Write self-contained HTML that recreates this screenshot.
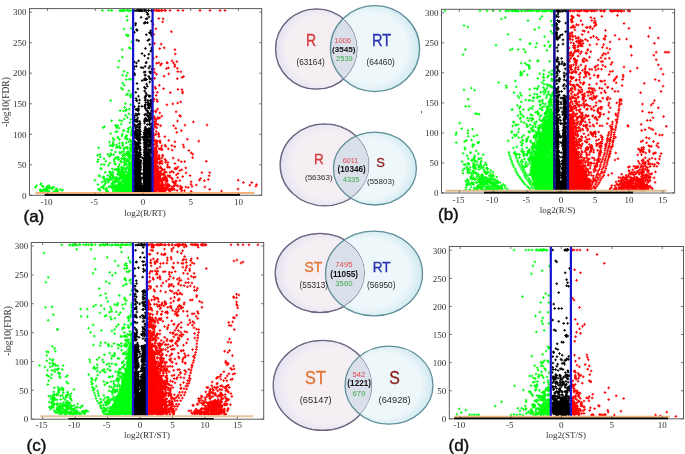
<!DOCTYPE html><html><head><meta charset="utf-8"><style>
html,body{margin:0;padding:0;background:#fff;width:685px;height:454px;overflow:hidden}
svg{display:block;filter:blur(0.35px)}
.tk{font-family:"Liberation Serif", serif;font-size:9px;fill:#333}
.yl{font-size:9.5px}
.pl{font-family:"Liberation Sans", sans-serif;font-size:17px;fill:#111;stroke:#111;stroke-width:0.45px}
.vb{font-family:"Liberation Sans", sans-serif;font-size:17px}
.vn{font-family:"Liberation Sans", sans-serif;font-size:8.2px;fill:#333}
.vs{font-family:"Liberation Sans", sans-serif;font-size:7.6px}
.vk{font-family:"Liberation Sans", sans-serif;font-size:8px;font-weight:bold;fill:#111}
</style></head><body>
<svg width="685" height="454" viewBox="0 0 685 454">
<defs>
<radialGradient id="gl" cx="0.55" cy="0.5" r="0.55"><stop offset="0.75" stop-color="#f5eff4"/><stop offset="1" stop-color="#e4e2f2"/></radialGradient>
<radialGradient id="gr" cx="0.45" cy="0.5" r="0.55"><stop offset="0.75" stop-color="#eef7fa"/><stop offset="1" stop-color="#cfe9f0"/></radialGradient>
<marker id="mk" markerWidth="4" markerHeight="4" refX="2" refY="2" markerUnits="userSpaceOnUse" overflow="visible"><path d="M0.7 2H3.3M2 0.7V3.3" stroke="#000" stroke-width="1"/></marker>
<marker id="mg" markerWidth="4" markerHeight="4" refX="2" refY="2" markerUnits="userSpaceOnUse" overflow="visible"><path d="M0.7 2H3.3M2 0.7V3.3" stroke="#02ff10" stroke-width="1"/></marker>
<marker id="mr" markerWidth="4" markerHeight="4" refX="2" refY="2" markerUnits="userSpaceOnUse" overflow="visible"><path d="M0.7 2H3.3M2 0.7V3.3" stroke="#ff0000" stroke-width="1"/></marker>
</defs>
<rect width="685" height="454" fill="#fff"/>
<path d="M137.1 30.5 135.5 25 138.7 40.8 135.7 23.3 136.8 40.1 136.6 29.5 134.5 32.3 141.1 17.3 142 53.6 149 16.9 145.4 48.4 145.6 22.8 147.7 14.5 151.6 48.2 150.9 33.8 147.1 18.6 146.3 34.7 151 32.6 151.5 50.4 150.7 51.2 144.6 55.7 151.6 21 148.1 58.2 149.8 44.4 145.1 22.3 148.8 54.2 151.6 35.6 147.5 22.7 147.9 14 150.8 30.7 149.4 32.7 146.8 12.3 146.1 18.9 144.2 23.2 148 40.5 149.1 39.5 134.8 74.9 136.4 63 134 69.1 134.3 66.6 134.3 73.4 134.3 61.9 137.9 88.9 138.6 60.9 138.5 96.2 136.1 98.5 137 83.5 135.8 92.3 136.3 66.3 142.2 80.6 141.2 67.5 143.1 67.8 145.5 96.3 151.9 69 145 97.7 145.5 75.2 145.5 99 148.9 68 151.7 79.7 146.6 79.5 145.5 79.6 145.9 92.9 145.2 71.9 151 71.8 150.8 100 149.7 82 149.9 78.8 147.3 86.3 144.1 72.2 144.4 87.3 144.6 78.9 148.7 76.4 148.8 95.6 144.9 75.1 149.3 96.6 150.2 96 146 62.9 146.6 94.7 146.6 84.1 144.3 79.9 149.4 71.9 150.6 73.1 150 66.2 144.6 91 146.4 62.4 149.8 78.2 145.6 88.5 145.2 66.3 145.5 78.6 145.7 96.1 135.1 115.5 134.3 117.4 134.5 120 135.5 128.3 138.4 110.5 134.4 106.6 139.1 124 137.4 114.6 139.7 121.4 136.6 126.2 139 114.2 136.4 125.9 136.9 121.7 138.5 108.7 139.9 125 136.3 119.6 136.8 100.8 139 103.2 134.6 124.5 137.6 121.3 139.8 127 139 127.6 136.8 115.5 134.7 119.7 136.4 109.6 137.4 127.2 135.8 109.3 137.8 125.1 137.8 117.9 138.4 110 137.3 120.1 139.3 127.8 139.2 124.1 138.9 106.4 139.9 129.8 138 108.7 136.6 100.5 134.6 126.1 135.8 113.9 139.6 100 137.7 110.5 138.4 113.6 140 123.3 134.1 120.9 135.1 121.5 141.9 106.3 148 112.8 151.8 117 148.3 119.9 149.3 105.2 145.3 104.5 148.7 119.8 147.9 104.9 148.3 102 145.6 119.7 146.7 129.4 149.9 113.8 151.3 102.3 151.4 126.7 145.1 128.1 150.2 103.5 147.5 115.8 151.6 111.4 151.1 118 149.3 106.5 151.4 126.7 149.8 129 144.8 119.2 150.8 119 144.6 123.1 151.5 110.4 149 104.8 144.6 114.8 148.9 129 146.8 110.5 151.5 117.7 148.3 116.8 148 108 150.1 118.9 148.2 112.8 146.4 120.6 145.6 118.2 150.6 104.8 148.7 128.6 149.4 121.8 148.8 107.5 149.6 108.2 150.8 117.4 147.3 124.5 149.8 129.8 151.3 128.4 148 105.2 148.1 103.1 149.7 124.4 149.6 115.6 150.2 124.2 151.4 114.5 146.1 109.3 145.4 127 150.5 100.5 145.2 119.2 149.1 124.5 149.7 119.8 145.9 114.1 151.7 107.6 144.5 120.8 149.7 128.8 151.8 110.4 146.9 121 145.2 100.3 149.9 114.2 147.7 100.3 151.1 100.9 150.3 113.4 146.3 119.4 146.2 119.5 145.5 119.7 148.2 103.8 149.1 118.3 145.8 102.4 145.2 108.1 144.8 106 144.6 121.3 146 128.7 151.2 106.1 151.4 104.1 144.8 106.7 148.5 105.4 147.9 111.2 151.2 123.8 151.5 101 147.2 115.4 136.4 142.8 135.9 134.7 134.5 141.2 139 142.5 139.7 142.2 139.4 133.2 138.6 135.2 140.1 156.5 134.2 136.1 140 148.8 137 155 135.5 146.8 137.6 134 136.7 159.3 136.2 143.6 138.2 143.6 134.7 141.6 138.6 141.9 134.7 131.7 139.6 138.4 136.2 152.5 139.9 156.8 137.2 159.3 139.5 131.6 134.7 151.4 137.6 154.8 136.6 158 135.9 149.2 139 131.7 138.2 136.8 140.2 149.8 140.4 139.7 136.9 151.5 139.6 152.8 136.7 147.8 139.2 143.1 134.4 141.6 136.8 143 136.3 145.9 138.9 135.4 138.7 142.1 135.8 134.5 139.6 134.5 135 156.4 136.2 133.5 135.6 145.6 137.1 153 140.4 131.6 134.4 132.5 139.7 133.4 136.3 130 140.2 143.3 138.3 145.2 134.4 158.9 136.6 152 139.8 148.3 135.2 143.7 136.8 156.1 137.1 144.3 137.8 156.2 136.6 132.9 134.8 148.2 140.3 152.8 136.5 157.1 136.7 149.4 134.8 142.4 136.9 137.8 138.9 157.3 136 137.3 135.2 132 140.1 150.4 135.4 156.2 137.3 155.8 137.2 148.4 135.4 158 138.8 138.6 139.3 140.2 135 144.4 137.9 152.2 139.5 152.8 138.6 147.4 135.3 155.6 134.3 151.9 137.8 158.4 139.1 156.8 140.5 154.5 137.5 136.5 134.9 133.9 135 154.1 138.8 140.6 137.4 130.5 136.6 137.6 136.5 147.1 138.2 158.9 138.3 155.7 139.5 159.8 134.1 134 139.4 131.8 139.2 152.6 140.3 134.5 136 159.2 135.5 155.9 139.5 131.4 139.9 146.6 139.3 157 137.8 139.5 138.7 139.1 139.1 140.6 137 145.4 137.9 159.1 137.7 144.1 136.3 159.8 137.4 135.3 136.1 130.3 139.2 146.6 136.9 156.4 134.6 138.1 140.2 136.9 140.3 156.9 135 149.9 137.1 149.7 136.9 153 138.4 147.6 138.6 155.2 137.3 131.5 136.6 135.4 135.4 131.9 137.9 144.6 138.4 130.3 138.3 144.9 136.4 154.4 140 154.4 140 155 135.3 135.2 139.4 148.8 136.8 138.9 142.3 137.2 142.3 157.8 148.1 130.8 148.3 152.2 148.9 156.9 152 152.6 149.9 159.6 146.7 139.5 144 158.9 146 133.7 148.4 154.7 146.9 140.4 150.2 134.5 145.3 140.8 146.4 139.3 150.9 135.6 149 158.6 144.4 158.7 144.4 144.8 150.6 140.9 147.9 137.7 146.1 149.2 148.4 149.4 149.1 132.7 146.1 144 145 132.6 146.3 132.9 146.8 134.1 144.1 132.5 150.2 151.6 146.5 144.1 149.4 133.4 150.9 156.8 151.9 152.3 149.9 155.1 150.4 140.9 146.9 159 151.7 149.2 146.9 149.4 144.3 142.1 147.6 135.9 149.3 130.9 147.3 134.3 148.2 159.6 151.3 143.6 150.7 135 146.5 140.6 149.3 159.2 148.3 159.5 148.8 154.5 151.1 150.7 150.2 143.4 151.1 134.5 150.8 151.3 144.8 130.3 147 154.4 147.8 154.4 147.8 134.1 144.2 149.9 150.5 144.6 144.6 140.4 146.4 155.2 146.9 151 147.5 136.5 146.9 133.1 144.3 159.1 145.9 159.1 147.5 157 145.2 130.1 144.3 157.7 150.6 141.2 148.6 141.2 145.5 151.8 144.8 158.8 147.4 139.9 149.1 142.5 149.5 158.4 145.1 154.3 144.4 147.2 146.1 153.2 150.3 135.5 146.7 134.7 150.9 146.5 146.9 152.3 144.1 136.6 146.2 157.7 146.7 143.3 146.2 137 146.9 159.8 149 134.1 147.6 154.2 150.9 136.7 146.7 134 151.4 159 145.2 145.4 146.2 152.7 144.4 134.9 148.8 156.6 151.9 135.6 149.2 157.1 147.1 146.8 147.6 132 147 136.4 150.3 144.7 144.2 152.1 149.9 151.5 144.5 134.6 144.6 153.1 151.1 158.5 151.4 136.6 146.6 156.7 151.2 132 151.2 143.6 149.5 149.8 149.2 140.1 150.2 135.6 145.7 142.6 146 156.1 151 134 145.6 149.2 149 146.4 151.4 149.6 144.6 137.5 151.7 138.2 147.5 145 145.6 148.4 145.6 154 148 155 150.7 132.7 144.1 138.9 151.7 130.9 146.5 142.9 151.7 153.7 145.6 133.6 145.6 152.4 151.4 148.9 146.9 138.3 145.9 135.7 151.8 139.9 144.3 155.2 151.9 142.8 150.3 136.5 149 154 149.8 136.3 146.5 140.9 150.3 144.9 147.1 135.1 151.4 140.2 146.1 158.9 148.4 150.1 148 141.9 146.6 134.2 145.8 137.5 146.5 132 148.9 146.2 144 139.7 151.4 134 147.7 144.5 150.2 149.6 144.3 133.1 150 130.7 145.8 136.9 146.3 158.8 146.4 146.5 146.9 130.4 147.8 140.2 147.1 159.3 149.7 158 147.1 141.3 148.1 146.7 149.8 137.5 144.4 138 145.9 143.5 150.1 157 146.2 144.8 144.8 152.2 149.9 152.1 149.5 152.6 151.5 149.1 144.9 149.8 151.2 142.3 147.8 144.6 144.6 155.4 149.9 156.9 151.3 133.4 146.5 149.4 150.5 141.9 146.5 156.5 150.3 150.4 149.9 140.7 144.3 147 144.1 143.1 151.6 159.2 145.8 133.4 144.9 130.5 145.4 136.7 147 130.4 146.8 139.5 150.2 139.6 145.6 135.1 145.3 147.7 151.8 148.9 145.1 154.2 147.8 140 147.1 138.4 148 141.2 136.5 181.9 136.4 184.5 140.5 180.7 136 161.7 135.2 180.6 135.7 169.9 137.4 183.6 134.4 179 137.2 177.6 136.1 183.7 135.3 181.7 135.7 185 134.2 175.1 139.6 180.6 138.1 173.3 139.9 164.5 139.5 183.4 138.2 163.3 136.4 179.9 140.5 166.8 137.1 172.2 135.3 183.8 140.1 169.6 139.4 183.2 138.7 165.9 140.5 170.1 134.5 171.5 138.8 180.7 135 167.1 135.7 173.7 138.4 161.9 140.1 161.4 137.6 166.4 137.3 162.8 138.4 171.7 136.4 170.2 135.8 176.8 136.6 169.1 135.1 168.3 134.7 174.6 134.1 181.4 139.8 182.9 137.2 166.9 139.4 178.5 135.3 170.5 135.3 169.6 135.8 163.8 134.1 180.5 134.4 167.1 134.8 169.1 137.1 175.5 139.1 172.8 139.5 172 134.7 170.6 135.3 177.6 138.5 161.9 134.6 178 136.4 161.2 135.1 182.2 139.8 164 137 168.5 136.8 184.7 138.6 179.5 140.3 163.9 137.2 172.8 136.9 175.2 140.4 165.9 139.5 179.5 137.9 184.1 140.4 177.6 139.5 179.9 138.2 180.1 135.3 165.1 137.2 176.8 139.7 181.8 138.2 164.9 138.2 180.1 140.5 163.8 140.2 165.8 139.7 173.1 137.6 163.8 137.1 182.4 138.2 168.6 134.8 170.6 138.9 179.1 139.6 166.2 135.7 163.8 136.7 178.3 137.3 166 135 163.3 136.1 173.6 140 177.1 137.4 165.5 137.8 183.6 139.5 178.1 134.8 160.5 136.2 183 136 177.3 134.6 168.9 134.7 166.3 135.9 175.4 136.3 182.2 140.4 160.9 139.1 170.1 139 175.4 136.1 182.1 138.7 164.4 139.6 171.5 134.6 168.1 136.5 175.4 140.3 179.6 140.4 182 135.6 184.6 134.6 164.7 135.3 177.7 139.9 177.8 135.6 183.6 135 182.6 136.5 181.5 137.9 177.3 136.1 161.6 140.4 161.4 136.5 183 134 181.5 135.6 175.2 137.9 176.7 140 162.3 137.6 182.5 134.4 161.8 139.5 177.3 136.2 178.2 134.4 183.8 138.3 166.9 135.5 162.9 138.8 174.3 137.9 170.8 134.8 168.7 137 160.6 135.6 164.9 138.5 175.1 134.3 163.8 134.9 167.9 138.4 172.3 137.6 168.5 140.1 179.9 134.2 167.3 135.2 161.9 136 162.6 139.5 179.1 136.5 169.2 138.1 174.5 140.4 161.6 134.7 181.2 134.7 172.4 138.7 171.5 135.3 169.6 137.5 169.8 136.2 166.9 135.2 162.4 134.7 172.8 140.4 183.1 139.4 175.6 139.2 162.7 138 170.9 135.6 171.4 136.2 160.8 139.6 181.1 134.6 167.5 138.2 176 138.2 172.8 139.2 169.3 137.4 176.8 138.1 181.9 136.3 166.8 137.2 161.7 135.7 160.6 135.2 162.9 139.7 164 137.6 180.2 135.6 179.6 135.3 177.9 134.4 168.9 139.8 169.4 134.5 168.8 137.5 168.4 135 169.8 140 182.8 138.1 180.6 135.2 161.8 137.7 161.8 138.3 163.2 138.2 168.4 137.6 169.5 139.2 180.8 139.6 172.8 137.1 164.3 139 162.1 134.5 160.6 135.4 174 136.5 160.3 140.5 174.1 138.4 181.7 134.8 164.4 138.2 167.3 139.2 184.6 134.4 170.3 137.7 184.3 140.5 162.8 135.5 166.8 136.6 166.7 135.3 170.6 135.1 163.9 138.1 172.4 138.2 162 137 172.1 138.5 163.8 136.9 173.5 140.5 178.5 135.6 164.9 136.2 175.5 137 167.7 138.7 163.1 135 172.6 137.5 165.5 135.5 169.4 134.8 182.6 138.6 165 134.8 171.8 136.6 182.7 137.4 169.2 138.1 177.3 140.9 160.6 141.5 178.1 143 177.8 140.7 167.9 141.6 183.7 141.8 173.5 144.5 183 149.1 166.1 145.8 178.3 148.3 178 147.5 164.5 147 183.9 146.8 166.5 144.4 164.6 146.7 167.2 144 174.5 147.9 181.3 145.2 170 146.5 176 144.1 163.6 149 171.7 144.6 176.1 145 170.2 150.5 167.1 144.2 182.2 146.2 167.7 148.2 179.1 149.2 177.9 148.1 183.9 147.7 166.7 150.8 179 150.5 162.5 148.8 180.4 146.2 177.2 146.9 174 149.1 179.1 148 182.4 147.6 163.9 144.2 176.7 151.7 169.5 144.6 164.4 144.5 165.7 146.5 162.3 149.6 177.8 150.9 174.4 146.7 171.5 148.6 172.3 147 174.9 148.4 184 149.7 180.5 151.1 183.6 145.4 180.5 148.6 171.3 147.7 162.5 150.6 171.3 149.1 175.5 149.5 164.3 144.2 180.2 146.8 161.4 146.5 166.7 150 164 147 172 148.8 164 149.2 172.3 147.5 165.4 149.9 172.4 148.8 162.4 146 179.5 147.6 172.9 151.7 167 144.5 171.1 143.8 170 149.4 162.3 143.8 179.2 150.2 169 144.4 167.3 147.4 180.7 144.3 177.6 149.5 160.2 149.9 180.3 146.6 171.2 144 169.2 145.6 163.9 145.1 163.5 145.6 173.8 146.5 184.9 149.8 177.1 145 168.1 147.1 174.8 147.7 183.7 151.6 166.9 151.9 165.4 145.5 183.4 148 173.1 148.7 163.5 147.9 182 143.9 176 146.1 176.8 151.3 178.9 148 183.9 148.9 182.4 145.2 166.9 145.1 167.6 144.2 172.5 147.2 176.2 146.7 170.5 144.5 180.4 146.9 179.8 150.5 182.3 145 184.7 144.7 174.7 150 184.5 149.2 177.3 144.7 161.3 149.7 161 151.3 164.7 146.6 174.3 145.2 161.3 148.1 181.1 150.6 180.7 145.9 162.3 148.1 184.2 151.2 177.6 146.9 170.3 145.7 176.4 149.3 164.6 144.9 162.7 149.9 164.3 150.4 177.9 146.5 178.4 150.8 163.8 145.5 182.2 146.3 166 147.6 169.3 148.3 179.1 150.3 180 147.6 181.3 150.6 175.2 145.3 168.6 145 175.4 151.6 168.6 147.2 181.1 146.8 163.9 145.7 184.3 147.8 182.6 145.6 169.9 148.3 166.9 148.7 175.9 145.3 184.5 146.8 174.9 149.9 165.4 149.4 162.1 148.4 175.6 145.6 172.3 151.6 162.6 149.4 169.2 150 166.5 145.5 179.3 145.4 163.4 145.2 166.1 147.6 183.9 151.1 160.8 146.2 173.7 145.1 161.3 144.4 183.1 144.4 181.4 144.1 160.8 144 180.9 150.7 172.4 144 166.8 147.1 175.5 146.9 184.3 144.8 170.5 150.2 161.3 145.2 182.8 151.2 175 143.9 174.5 149.7 181.6 151 171.5 148.8 167.7 150.8 173.1 147.8 172.5 145.7 179.4 146.2 180.3 152 168.6 144.3 169.2 151.9 169.8 147.2 173.8 144.8 170.9 146.8 164.7 147.4 168.3 144 162.6 145.1 165.9 148.6 184.9 149.4 184.2 147.6 183.2 150.3 167.1 144.3 171.3 151.6 175.4 146.4 181.6 143.9 163.9 151.4 160.5 145.5 161.4 148.7 181.8 150.7 184.5 147.1 170.9 151.4 168.6 144.5 179.9 150.8 183.6 144.9 170.5 145.2 172.7 150.5 176.9 147.8 175 151.9 177.4 146.4 183.2 147.4 164.7 151.3 176 144 184.5 150.6 178.7 145.9 179.2 150.2 160.3 144.8 161.4 149.7 177.1 149.6 165.1 146.7 165.1 149.6 161.3 150.3 161.7 144.7 160.7 145.8 160.5 150 162.3 151 167.9 150 182.9 146.1 178.6 149.4 170.3 151 162.7 146.4 163.1 149.2 172.2 145.3 172 145.4 181 151.5 169.5 147.6 174.2 149 164.7 151.2 171.1 149.3 183.1 150.2 182.9 146.4 170.7 150.6 174.5 148.2 183.4 151 183.2 150.4 173.6 145.8 163.1 145.8 181.9 150.4 162.4 148.7 165.1 146 164.1 150.4 170 146.3 167.1 146.1 163.8 148.4 176.1 150.2 178.9 148 181.8 145 181.6 146 163.8 144.6 167.7 148.4 182.2 144.4 164.9 148.5 160.6 144.6 160.9 147.2 178 147.8 183.3 149.8 180.7 148.3 182.5 148.8 160.5 150.5 175.2 149.4 178.5 144.3 170.1 144.5 168.2 150.5 164.6 151.2 174 146.4 179.6 148 160.4 151.1 172.9 148 182.9 150 167 150.9 162.6 145.2 160.6 148.7 166.6 143.9 175.2 145.5 163.6 145 168.6 144.4 165.8 152 184.9 147.2 170.6 144.1 163.9 150.5 160 147.9 164.6 149.6 173.2 147.7 181.1 148.5 173 144.8 174.3 148.3 180.9 149.6 164.2 150.7 162.1 151.5 182.9 146.5 165.4 147.4 165.6 145 162.9 151.8 170.4 144.6 162.6 144.2 165.3 149.4 170.7 151.7 177.3 151.9 181.4 138.1 186.7 140.1 190.8 136.3 190.4 135.9 187.2 137.4 187.2 139.2 190 138 188.7 137.1 190.7 137.5 187.9 140.8 187.4 134.6 185.1 137.8 190.2 135.2 185.9 141.2 188.5 135.5 189.9 138.4 186.5 138.3 190.6 139.7 189.8 141.2 191.7 136.3 189.8 136.1 189.2 141 191.6 135.6 188.1 141.3 187.9 135.7 188.7 136.2 185.1 135.6 188.7 140.1 187.2 135.6 189.1 140.9 188.2 135.9 187.4 134.3 187.7 139.5 190.4 135.4 185.6 138.6 191.4 138.4 189 138.9 188.7 138.3 185.9 139.5 186.6 135.1 188.9 137.5 186.4 141.2 190.6 140.7 185.8 138 191.2 135.6 191.2 137.3 189.2 139.8 187.5 134.6 185.2 135.9 187.1 134.8 190.1 134.8 186.5 137.8 189.4 140.8 186.6 134.3 191.9 140.7 189.5 140.6 190.6 134.2 185.4 138.6 189 137.8 186.6 138.6 185.2 136.1 188.8 140.7 189.2 137.5 187.3 140.5 191.1 138.1 185.8 134.1 186.2 139.6 186.6 136.3 186.4 134.1 185 136.2 186.1 134.1 191.9 139.8 189.4 134.9 186.6 134.5 191.1 136.8 191.6 141.1 190.2 138.5 189.8 136.3 191.6 140.3 185.9 135.7 190.8 140.3 188.5 140.4 185.6 142.8 186.3 141.3 186.1 141.5 189.3 142.8 191.9 142.9 188 141.4 190 142.5 187.8 142.6 191.8 149.9 190.1 151.5 187.5 150.2 187.3 151.7 190.6 151.9 190.2 149.2 185.1 149.6 190.2 149.1 187.7 144.3 188.3 150.9 187.5 150.5 190 146.4 188.4 151.9 186.6 146.6 187.3 147.2 186 147.5 186.5 152 190.6 145.5 189.2 147.6 191.7 148.5 185.9 146.9 191.9 144.4 186 149.6 189.7 150.3 191.5 150.4 185.2 143.6 185.4 150.3 191.1 146.1 185.4 146.7 189.2 150.2 185.9 147.3 189.1 146.7 186.8 151.5 187.3 147.5 190.4 150.5 187 149.7 185.3 149.8 191.7 150.4 191.6 148.1 188.8 148.2 191.6 146.1 188.9 147.4 190.7 143.5 188.9 151.2 185.2 148 187.4 146.4 189.2 149.9 189.3 145 189.2 149.7 186.2 145.2 188 143.5 186.1 149.3 190.1 149.4 189.3 145.9 188.2 147.1 190.4 145.5 188.8 143.8 185.3 148.1 185.8 150.7 186.2 143.3 188.9 144.2 185.5 149.2 189.8 152 185 146.7 190.1 144.6 185.4 143.7 191 145.3 188.5 150.8 190 145.3 190.6 145.3 185.5 147.7 187.3 146.2 187 148.2 188.5 150.6 185.3 147.8 185.1 144.5 190.7 150.5 185.1 145.6 188.9 151.9 186.3 145.2 187.5 150.1 189.8 150.2 189.9 144.2 191.1 151.7 188.6 146.1 186.9 152 189.5 143.3 187.8 149.3 185.9 148.7 191.3 144.1 187 146.9 189.2 150.9 186.7 150 186.7 151.6 191.1 145.6 191.9 149.1 189.5 151.2 188.9 144.6 10.2 139.3 10.6 151.6 10.3 140.8 10.2 141.7 10.7 140.7 10.4 145 10.4 139.9 10.1 138.3 10.5 137.1 10.2 137.9 10.2 144.3 10.4 141.6 10.6 151.6 10.9 144.5 10.1 142.1 10.4 141 10.5 134.2 10.5 142.5 10.8 145.9 10.2 143.2 10.2 140.9 10.3 148.5 10.5 141.5 10.2 136 10.7 139.2 10.8 148.6 10.4" fill="none" stroke="none" marker-start="url(#mk)" marker-mid="url(#mk)" marker-end="url(#mk)"/>
<path d="M130 168.2 132.3 161.1 132.6 172 121.8 190.9 132.6 183.3 130.8 184.2 123 188.1 125.8 183 128.1 186 130.8 165.4 129.6 176.9 124.8 190.6 132.7 186.3 132.9 189.3 129.4 184.3 128.9 174.3 123.2 190.4 127.9 176.9 132.4 165.8 126.3 185.1 122.9 184.9 132.2 172.2 120.1 187.9 127.6 175.6 131.2 169.2 127.8 180.8 129.6 166.8 128.5 174.3 121.9 189.3 127.5 179.3 121.9 188.6 128.3 186.8 129.9 165.9 129.5 169.6 122.1 191.2 120.8 187.1 125.3 180.3 127.3 187.5 122 185.8 121.3 185.2 132.2 161.3 119 190 120.1 191.8 132.8 189.4 131.3 176.8 131.8 179.8 129.1 177.1 120 191.3 127.7 180.5 125.6 180.1 130.7 189.1 131.5 188.9 132.5 171.1 125.7 179.6 129.6 179.4 124.8 182.5 131.3 181.6 125.6 184.8 129.3 169.2 127 182.7 129.8 177.4 132.8 175.1 125.1 180.4 132.5 181.9 131.6 163.4 123.2 181.9 128.5 186.2 126.9 183.1 127.5 189.1 125.7 188.6 132.6 165.7 130.1 178.2 131 168.9 127.7 183.7 126 180.2 126.5 190.3 132.6 168.6 127.4 175 120.6 187 131.9 189 132.4 185.5 127.4 175.6 128.7 183.2 122 189.7 131.3 162.6 127.6 176.9 126.2 189.9 127.3 177.9 129.5 172 132.2 182.4 124.9 185.4 128.6 179.7 129.7 180.8 127.3 177 129.4 178 131.3 182.2 133 189 129.5 185.6 131.5 166.9 130.1 168.2 127.2 179.5 124.9 187 131.9 171.3 132.3 174.3 130 170.5 125.5 180.1 122.5 188.6 128.1 189.7 131.4 170.5 127.1 185.6 132 177.3 123 186.4 124.3 182.9 129.3 169.8 132.4 185.1 127.7 176.1 123.8 190.6 128.4 177.5 121.4 185.8 132.1 161.3 128.9 190.9 127.3 180.6 132.9 180 119.4 187.6 129.8 185 131.8 188.1 130.5 183 128.9 190.1 128 190.8 124.8 190.3 132.6 169.3 126.9 176.9 117.9 191.1 132.8 167.3 121.8 184.5 129 183.6 129.8 188 130.7 185.2 126.1 184.1 132.9 182.8 127.6 188.3 126.1 185.3 121.5 186.3 126 176.9 131.1 187.5 132.1 164.6 131.4 173.9 118.8 188.5 132.2 191.1 131.7 182.2 131.7 182.8 132.7 182.8 129.9 189.4 123.3 189.3 123 190.7 125.2 179.8 130.6 165.3 127.9 191.7 121.2 189.2 122.1 192 127.5 187.2 125.5 189.7 131.2 163.6 124.6 181.6 130.5 182.9 127.1 178.4 127.3 186.4 130.6 182.4 122.4 186.3 120.5 189.8 128.3 183.7 130.7 164.7 125.3 185 131.5 184.9 130.8 191.9 128.2 178.6 128.8 186.6 130.4 167.6 128.9 180.3 122.5 188.8 124 185.9 131.6 172.4 120.2 187.3 129.6 166.6 128.3 189.2 123.1 191.4 130.5 166.6 127.9 184.8 128.8 170.2 131.9 184.8 127.5 187.6 130.3 183 132.6 183.7 131.7 189 130.8 191.3 128.6 175.5 121.8 187.9 123.9 186.8 130.1 180.9 125.3 188.5 126.6 190.2 130.2 164.9 126.4 176.5 126.8 180.5 117.2 191 130.5 185 129.4 175 131.6 163.3 128.6 191.2 132.5 162.8 125.5 188.5 128.2 185 132 180.2 128.3 191.3 132.7 158.8 132.3 165.1 131.6 184.6 125 182.9 119.3 188.7 126.1 178.8 130 165.2 128.8 184.1 129.4 172.2 132.2 185.5 128.8 190 131.4 177.2 121.3 185.9 126.6 189.6 130.8 168 132.5 159.6 130.7 185.8 121.9 190.4 132.1 191.3 132.2 165.6 129.4 176.5 130.5 180.1 126.3 183 128.5 177.2 122.5 186.5 131.7 190.3 132.4 166.1 132.6 184 132.4 172.3 131.8 172.3 120 188.2 132.6 160.3 130 191.1 129.1 173 131.4 191.9 131.4 164.6 130.1 186.8 132.2 172.3 129.7 170.7 120.3 189.9 130.7 182.4 125.6 182.8 131 184.9 132.2 164.3 122.3 186.5 121.6 191.3 127.7 176.8 130.9 170.4 124.9 188.3 125.5 184.8 130.8 172 131.8 184 120.4 188.8 120.7 190.7 125 191.5 129.1 178.1 130.6 174.3 130.8 188.6 128.5 181.1 130.4 188.9 128.1 186.2 130.7 165 130.9 173.1 132.6 174.9 132.9 183.3 129.8 172.5 130.6 184.8 124.1 185.8 133 168.3 123.9 185.8 131.4 167.1 130.8 167.9 130.3 177.5 130.3 177.4 127.5 176.9 121.4 189.3 132.4 190.9 132.4 187.4 129.4 175.7 124.2 183 131.1 182.4 132.1 178.5 130.3 178.6 125.3 185.9 123.6 186.7 120.4 191.1 123.4 190.2 131.4 180 122.8 185.8 123.2 187.5 130.3 165 129.8 185.2 131 178.8 121.8 173.7 132.8 146.1 114.8 186.3 126 175.2 130 154.2 123.7 173.6 127.1 153.2 128.8 155.9 120.2 185.7 132.5 155 114.2 189.8 113.5 188.4 116.8 185.6 127.1 154 117.8 180.2 120 175.1 128.8 163.7 125.7 169.2 112.9 188.1 117.8 178.1 121.4 176.8 120.3 177.4 115.9 189.4 124.3 176.6 115.9 191.2 123.1 174.4 130.6 148 116.7 180.2 131 162.6 122.9 175.7 127.8 161.4 121 173.1 121.4 175.9 129.4 156.5 119.4 183.9 126.8 160.8 131.5 150.9 119.3 182.5 118.8 187 118.9 173.7 107.3 190.6 111.3 186.7 121.9 175.4 129.4 159.2 124.5 162.4 119.2 185.6 127.4 154.6 122.1 172 125.5 171.8 127.3 152.2 122.4 175.9 113.4 191.4 124.6 178.1 118 189 123.1 178.7 125.9 163.1 123 180.6 114.9 185.7 132.9 143 131.8 141.9 118.7 184.8 110.4 186.3 123.8 168.1 124.9 160 130.1 157.2 115.8 182.2 124.4 177.2 118.6 172.9 119.8 177.8 114.1 182.6 123.8 175.9 130.3 148 128.6 153.7 124.1 173.5 120.5 183.4 118.1 174 114.9 188 131 151.5 125.1 159 127.1 154.7 128.6 156.9 119.5 179.5 130.3 156.5 107.7 191.6 122.9 181.9 118.1 186.1 122.1 169.4 130.2 156 119.6 172.9 125 163.1 129.8 153.9 115.2 181.3 122.3 168.8 122.7 169.1 132 150.1 126.6 167.6 132.1 144.2 117.3 188.1 113.1 183.3 123.4 172.2 116.4 177.5 131.9 151.8 130.9 145.8 131.6 149.8 121.1 181.7 113.1 186.3 128.9 153 124.8 158.7 116.6 187.4 132.1 152.2 130.5 155.2 125.5 169.5 113.2 190.2 129.9 165.3 130.3 163.3 132.4 155 132.3 151.8 126.8 164.7 124.5 160 127.9 167.9 122 171.2 124.3 165.2 127.5 167.7 120.2 175.5 113.3 186.2 119.5 183.7 123.6 177.2 131.3 147.8 120.1 171.6 116.8 187.6 123.3 178.2 124.9 164.4 118.6 184.1 125 176.1 116.7 178.8 130.9 149.8 127.3 172.6 117.6 189.4 120.9 176 130.5 149.5 125.9 175.2 132.1 144.2 131.6 149.5 111.6 187.4 117.5 181.3 118.6 188.3 120.5 182.7 123 170.7 129.3 163.7 128.1 160.4 132.6 150 128.9 156.5 121.1 173.9 120.5 182.7 132.1 145.8 130.4 144.7 127.1 158.9 127.2 153.1 124.6 164.9 115.3 185.7 121.7 178.5 119 174.4 120 183.9 114.5 187.7 114.5 181.2 131.4 158.4 118.1 185.3 110.5 186.6 128 154.6 126.1 175.6 130.7 157.3 121.4 169.4 124.3 162.3 122.1 167.1 116.2 177.3 126 171.5 121.4 167.4 125.7 169.3 128.6 151.7 122 169.2 130.3 163.3 129.5 161.8 112.2 183.8 116.4 179.9 132.7 140.7 127.4 154.5 114.3 188.2 119.8 184.5 123.4 177.1 112.9 184.5 119.8 185.2 121.2 175.7 122.8 180.6 120.6 161.3 106.1 191.1 116.3 169.4 109.5 179.2 113.2 181.3 107.8 175.6 126.3 147.1 121.4 158.6 110.1 177.1 127.1 138.7 121 161.4 128.4 128.4 104.2 181.3 112.3 169 122.6 145.8 102.9 187 118.5 169.4 109.7 171.8 119.5 164.6 101.4 187.4 126.6 135.4 128.5 129.2 124.4 158.6 105.4 181.7 130 122.6 132.7 136.4 106.9 178.9 108.6 186.9 117.8 169.8 131.4 141.7 126.3 142.8 132 129.5 100.1 190.4 114.7 169.7 104.3 185.2 105.5 183.5 124.7 154.6 111.3 179.2 127.1 152.2 118.7 170.1 126.1 137.1 112.3 174.3 110.8 175.1 114.7 163.6 114.3 161.4 112.9 175 105.6 189.2 121.6 162 127.6 147.4 112.8 176.6 115.9 157.9 118 171.2 129.9 139.4 119.7 152.3 125 138.1 112.1 172.9 124.1 153.6 127.4 148.7 117.2 170 106.4 188.4 118.4 157.4 110.8 172.6 110.2 176.8 130.3 127.1 120.3 153.2 115.5 164.2 118.3 166.6 116.5 169.1 118.7 159.3 132.7 127 114.6 178.7 123.7 148.8 128.1 131.9 109.7 180.2 113.1 172.2 127.9 131.5 103.5 186 123 144.1 123.2 158.5 130.7 140.9 112.2 178.9 113.4 176.7 117.4 174.2 126.2 136.4 118.2 159.5 132.9 121.2 119 168.3 121.8 152 107.5 180.8 122.2 158.5 122.5 155.5 124 151 103.6 188.2 110.4 173.8 111.6 183.8 124.5 156.3 109.8 172.3 131.1 135.1 131.2 133.6 128.8 141.9 131.5 131.4 124.7 148.1 123.5 154.8 112.8 177.8 108 179.5 126.8 139.3 117.3 157.3 108.2 182.3 104.8 179.2 124.1 159.1 99.8 176 105.3 172.3 108.5 165.3 121.9 135.8 131.3 95.4 113 145.5 132.4 114.8 131 94 129.4 109.1 117.5 147.4 110.3 155.3 129 113.9 123.3 110.8 112.6 146 119.4 143.2 109.9 163.1 122.4 134 124.2 119 130.6 97.1 103.8 176.7 125.6 110.7 124.1 130.6 111.4 154.3 101.4 164.5 115.4 152 109.3 156.3 119.7 120.3 119.2 128 103.4 178 102.9 177.2 127.7 94 125.6 115.3 110.1 145.6 115.2 158.4 104.2 164.5 116.7 127.8 116.6 126.7 115.5 125.2 112.8 143.8 109.5 142 110.6 153.6 130.9 79.3 100.8 168.4 126.4 94.7 116.2 147.3 98.3 189.1 117 131.6 120.1 110.6 116.5 126.6 122.4 142.8 130 95.6 117.7 125.5 116 131.8 113.7 144.7 98 184.6 128.9 90.8 121.2 124.1 123.4 130.6 125.4 103.6 105.8 161.3 119.7 147.5 110.6 133.7 130.9 119.3 118.1 137.8 119.3 146.1 119.6 139.5 99.2 189.3 113 138.1 130.6 104.7 107.7 154.3 113.7 154.7 101.3 168.8 99.2 175.8 111.7 150.2 114.1 159.8 124.7 107.5 113.9 139.5 121.9 121 126.5 109.6 117.8 137.4 110.9 145.4 102 182.1 113.2 141.8 120.3 148.2 116.6 145 104.1 158.7 127.5 117.5 126.5 75.8 118.2 67.3 103.2 127.6 121.1 88 131.7 42 100 154.5 123.9 28.9 127.6 72.9 122.7 83.2 126.3 79.6 94.8 180.3 124 71.2 97.6 155.3 122.6 75.1 129.2 79.2 124.2 85.3 110.7 100.5 111.6 120.7 104.4 126.6 122.2 49.7 100.3 156.9 128.3 35.3 130.3 48.5 127.7 36 97.6 161.5 127.3 20.3 98.3 159.5 126.8 16.3 122.6 89.3 119.1 60.9 131.2 28.4 98.6 147.7 122.4 57.2 129.3 47.7 126.3 34.9 56.6 188.9 57.5 191.7 57.2 191.5 48.5 186.8 55.8 191.2 49.6 188.3 53.7 191.8 44.2 190.9 56.3 190.2 56.4 189.5 56.9 189.5 57.7 191.6 42.9 189.7 52.5 187.5 47.3 190.9 46.5 187.1 47.5 187.2 55.2 191.2 46.1 191.1 49.2 191.3 47 190.1 46.5 189.3 52.3 188.9 44.6 189.2 48.8 187.9 46.5 188.6 55.4 191.8 51.2 188 40.3 189.7 40.8 184.5 54 187.4 62.2 190.3 40.3 190.7 49.3 185.9 36.7 185.6 42 191.5 47.8 186.1 62.3 190 41 183.7 43.1 186.3 35.3 187.4 41.6 191.3 42.5 186.4 60 189.4 102.4 10.5 108.7 10.5 111.7 10.5 122.1 10.4 121.9 10.5 131 10.6 129.8 10.6 124.6 10.3 120.3 10.7 123.8 10.1 124 10.8 127.9 10.4 119.8 10.7 126.9 10.2 128.2 10.7 121.8 10.9" fill="none" stroke="none" marker-start="url(#mg)" marker-mid="url(#mg)" marker-end="url(#mg)"/>
<path d="M160.3 191.8 156.2 176.6 164.6 190.5 153.5 168.6 162.2 191.7 164.7 190.5 156.7 182 160.5 188.1 154.4 179.5 154.5 185 154.3 180.3 153.8 164.4 154.4 191.8 154.4 157.1 153.5 192 153.1 167.9 156.5 185.1 153 161 155 159.7 155.9 178 158.6 188 161.8 182.9 157.9 184.7 161.7 181.5 160.3 186.3 153.3 160.8 160.5 189.1 154.4 182.1 157.8 186 153.1 162.8 159 174 155.6 186.6 159.6 177 153.1 191.4 153.3 191.4 153.2 168 157.2 182.7 153.1 158.7 155.6 181.3 157.6 170.5 155.6 167.8 159.6 187.5 161.4 180.9 162.2 185.2 158.4 175.7 156.4 186.7 161.4 190.2 157.1 174.2 154 158.4 154.1 165.4 153.8 181 157.8 185.4 153.2 185.7 161.5 188.5 156.2 180.5 155.4 163.2 160.3 187 155.1 190 158.2 187.8 153.4 162.4 159.4 178.8 157.5 181.6 154.6 176.3 155 185.5 154.8 164 160.3 186.3 158.3 172.6 164.6 188.9 156.2 175.3 163.4 188.4 153.6 160.6 157.3 169.2 156.8 183.6 155.8 178.9 154.2 185.7 154.8 185.1 157 178.7 155 183.2 153.2 186.6 155.6 184.6 160 189 160.1 180.8 164.1 191.4 154.6 181.9 159.2 179.8 157.6 188.7 156.9 174.8 156.7 190.2 156.4 187.1 163 184.7 154.9 177.4 159.3 176.8 160 188.6 161.8 185.6 154 160.3 160.7 187.2 156.5 174.8 156.2 171.9 159.4 189.3 154.9 164.6 155.7 178.2 157.3 185.5 154.9 186.5 155.1 191.9 155.4 164.1 154.3 181.9 160.2 185.3 154.4 180.8 160.6 187.1 156.5 174.2 153.7 158.5 156 167.3 154.2 181.1 158.3 190.7 155.7 168.6 153.8 184.2 160.7 189.2 155.6 190 153.4 156.3 155.5 164.2 157.3 179.3 159.1 176.7 154.3 163.9 162.2 183.6 159.8 186.1 161.6 184.1 161.2 187.1 159 173.4 156.8 166.3 159.4 175.6 154.3 183.5 153.8 165.2 153.3 151.6 153.8 159.8 155.3 169.8 154 164.4 157.1 170.8 154 167.5 162.2 184 156.5 174.7 153.4 163.6 163.4 185.8 157.9 177.4 156 170.6 153.4 155.6 154.2 171.3 155.3 181.1 153.6 170.2 159.3 183.8 161.2 181.3 153.9 156.9 164.9 189.7 156.5 174.3 159.6 178.2 156.6 168.4 156.1 181.7 153.3 184.6 156.7 174.1 158.9 179.8 159.6 190.9 157.3 174.7 153.8 182.6 156.4 184.5 161.2 188.1 156.8 174.7 156 170.9 153.3 166.8 154 169.9 160.7 191.6 158.8 181.2 160.1 177.2 153.4 180.2 155 181.6 158.5 189.5 154.1 168.4 162.3 191.7 153.8 174.7 153.9 156.7 155.6 168.1 160.5 188.7 153 171.8 154.2 163.8 158.4 176.9 155.4 175.9 162.6 190.2 160.8 179.7 154.8 164.1 153.1 191.6 153.7 155 154.7 172.9 154.4 184.5 164.2 189.7 153.2 190.7 156.8 181.6 161.2 179.7 155.6 161.9 154.4 168.5 157.6 182.4 153.3 168.4 155 159.4 160.4 185.8 153.7 162.2 153.7 169.2 158.9 178.3 155 163.3 157.8 175.6 155.1 185.1 155.8 175.7 161.5 180.8 154.7 165.6 154.1 190.1 156.9 174.4 155.3 191.6 153.6 189 154.9 187.7 155.5 178.1 154.8 157.6 153.9 191.5 156.1 189.9 156.4 171.6 155.3 177.1 154.9 168.3 157.7 175.7 156.1 176.3 157.3 173.1 162.9 186.6 158.7 181 159.1 191.2 155 162.7 154.2 157 157 184.8 155.2 179.9 154.6 180.6 160.9 179.3 157.2 186.8 161.7 185.8 153.4 170.5 154.3 155.5 156.2 177.7 158.1 177.6 155.4 184.1 164.3 188.2 154.4 188.2 155.8 167 154.5 164.5 159.6 190.5 159.6 181 154 178.3 155.5 182.3 162.6 188.4 155.8 182.2 158.1 184 156.7 183.4 155.8 176.5 153.1 169.7 157.8 187.5 157.3 173.6 156.8 176.9 155.2 179.7 154.1 177.4 153.8 169.5 154.7 171.2 159.2 190.1 155.7 180.4 153.8 160.6 154.7 178.1 158 175.8 154.6 160 164.6 191.8 155.6 171.7 154.7 156.9 158.3 175.8 157.6 173.7 159.8 181.4 154.1 160.4 163.2 185.3 154.5 168.2 156.5 175.3 153.6 172.6 160.3 188.9 158 186.8 156.3 170 159.8 178.6 158.8 186 153.1 176.6 158.4 178.3 155.1 180 163.4 185.6 153.3 173.1 162.9 187.8 153 166.1 157 178.3 160.3 185.6 158.4 180.8 153.6 165.6 155.9 185.9 154 161.2 155.1 188.8 155.6 189.1 153.9 173.5 157.4 180.1 163.8 187.8 155.7 164 153.7 190.8 162 191.6 153.9 168.8 158.5 178.8 153.7 154.5 154.1 179.1 153 183.2 153.6 183.2 153.1 170.7 154.1 155.5 157.1 181.4 154.3 161.9 159.1 175.7 155 179.1 156.5 169.7 161.5 187 155.6 191.1 157 166.5 158.5 157.5 167.3 187.7 156.6 143.3 168.3 185.1 158.8 168 156.8 159.2 153.4 134.9 154.4 139.8 153.5 137.3 160.4 174.8 166.4 178.2 160.5 167 156 160.7 169.7 185.8 155.7 148.7 156.6 152.2 155.6 148.8 160.1 175.5 167.3 185.5 161.9 174.4 157.6 166 156.1 156.1 153.9 150.3 159.2 171.8 159.7 174.8 163.4 174.8 166.2 180.2 158 169.2 170.9 189 160.3 162.9 167 185.8 156.4 155.5 155.1 155.3 156.9 151.8 155.5 150.3 172.2 189.8 153.4 145.2 154.2 148 164 179.6 156.1 160.3 159.5 163.7 165.1 177.8 165.3 178.6 165.9 177.1 164.3 174.6 169.9 192 159 155.3 162.8 169.6 170.1 190.6 155.7 155.3 156.2 156.4 159.2 159.4 157.6 162.7 162.1 181.6 168.2 185.7 166.2 188 163.5 174.3 156.4 142.4 165.8 178.1 166.9 181.4 156.1 162 161.8 168.6 168 189.3 166.6 188.1 153.1 137.1 155.5 159 164.2 180.2 159.8 173.6 154.9 153 169.2 189.5 164.9 176.2 160.6 173.5 165.8 187.4 168.3 186.5 156.5 146.9 156.9 153.6 156.7 159.2 162 170.1 166.2 178.3 157.4 159.4 163.6 177.8 159.1 156.2 153.4 133 156 156.6 154.5 155 162.9 178.2 156.5 161.7 165.8 190.4 169.4 185.5 168.5 190 160.8 171.4 170.1 190.6 159.4 158.4 162 179.9 154.1 151.5 154.4 144.4 155.9 147.9 167 180.1 156.1 142.9 155.4 158.5 154.6 152.9 156.4 145 153 140.9 159.2 158.3 171 189.5 160.5 167.8 156.4 150.3 155 141.3 167 180.2 167.7 183.9 165.6 184.8 169.9 189 159.8 162.3 161.9 173.7 153.6 141.1 159.3 172.2 165.6 182.9 155.2 147.8 157.6 162.2 154.5 121.7 156.7 140.5 170.2 177.2 167.3 167 173.6 182.3 174.9 181.9 157.2 145.7 172.8 181.4 181.7 190.9 162 149.7 166.2 172.3 170 172.3 174.3 183.9 169 176.2 165 159.3 162.8 156.1 161.7 145.8 156.1 134.2 162.7 155.1 161.4 148.2 154.5 116.8 166 160.7 173.6 188.7 162.1 163.7 153.3 99.7 155.3 123.3 174.5 189.6 155.8 121.1 177 185.4 159.9 149 156.3 123.6 165 172.2 155.1 127 180.2 188.5 157.4 141.3 172.4 187.8 162 161.3 156.8 127.8 159.9 141.8 167.9 175.6 173.8 186.2 171.7 171.3 153.6 129.3 181.5 189.4 175.5 183.3 160.9 161.1 177.1 190.4 159 136.6 161.3 149.6 172.1 186.7 164.4 172.3 167.6 164.8 171.9 178.2 158.9 148.7 169.5 167.4 154.1 118.5 153.4 111.4 154.9 118.8 156.5 124.1 175.9 181.3 164.6 169.8 175.1 185.4 155.2 126.5 165.6 162.4 156.3 119.5 154.9 135 156.2 131.5 169.8 175.8 177.7 186.1 158.7 134.7 160.2 142.7 153.2 101.6 161.9 158 154.3 124.8 176.1 181 158.5 133.3 167.9 167.1 159.9 140.6 172.4 179 188.2 187.5 181.1 187.3 164.9 136.6 176.3 174.9 159.8 112.9 156.9 99.8 161.8 116.1 182.7 176.6 173.5 172.3 191 184.3 180.4 186.2 185.9 187 176.6 168.7 179.8 170.6 157.7 109 168.7 140.4 156.4 74.2 168.3 148.8 177.7 177.7 154.2 99.1 154.6 72.4 178.1 173.6 178 167 181.9 187.5 154.1 69.1 158.6 118.3 153.3 58.5 160.7 125.7 165.8 146.4 157.3 92.4 155 87.1 168 162.4 165.1 145.1 157.4 101.5 172.2 150 179.9 180.5 191.2 191.4 171.8 145.6 155.9 111.9 154.6 78.4 184.5 190.7 173.2 158.1 153.2 92.4 192 186.3 159.7 117.9 158.1 124.6 175 168.9 174.9 163.5 175.5 168.2 156.1 95.4 156 110.7 155.7 88.6 181.9 169.8 157.7 117.6 174.7 66.6 176.8 132.4 176.1 111.8 181.9 89.7 166.9 104.8 200.6 178.5 180.6 116.2 178.5 160.1 163.1 18.8 163.6 88.7 183.2 144.9 172.8 103.9 208.3 179.5 192.8 154.2 161.6 63.7 174.9 49.6 172 60.9 177.3 68.3 173.5 62.9 188.9 150.5 190.1 175.6 160.5 65.1 159.7 48.6 177.8 71.6 177.7 103 170.3 92.6 176.9 61.6 204.9 186.9 187.3 139.2 171.4 31.7 185.8 167.9 177.3 78.7 174.9 141.8 182.6 91.9 162.6 21.9 182.1 77.5 153.1 24.4 198.8 141.1 154.4 43.4 156.5 56.8 167 62.7 199.4 180.1 164.1 76.2 191.2 152.9 167.3 62.9 174.9 64.8 192.6 157.6 156.6 63.3 183.6 76.5 177.5 121.1 196.3 185 180.7 101.9 174.7 146.6 185 125.1 175.3 54 186 172.9 166.5 68.6 178 89.4 193.4 121.9 191.1 181.8 209.7 189.4 161.2 44.1 153.9 34.3 183.8 147.1 181.4 130.7 168.7 73.9 158.8 62.8 182.5 93 155.9 28.8 158.8 18.5 164.2 47.8 173.6 125.7 180.9 71.8 184.7 161.6 175.8 128.3 201.9 172.6 209.1 175.7 159.3 85.3 179.7 115.5 181.2 161.7 168.4 67.8 207 125 206.3 161.3 209.8 172.6 204.4 180.7 238.2 180.2 243.4 182.5 249.9 185.2 251.7 182.5 256.6 184.6 255.9 186.2 238 189 221.5 191 155.1 10.4 159.7 10.6 165.7 10.5 156.6 10.3 162 10.2 158.6 10.7 164.4 10.4 161.4 10.4 157.3 10.7 158.6 10.6 153.9 10.5 161.6 10.8 170 10.5 178 10.5 183 10.5 200 10.5 210 10.5 220 10.5 225 10.5" fill="none" stroke="none" marker-start="url(#mr)" marker-mid="url(#mr)" marker-end="url(#mr)"/>
<path d="M133.1 9.1V193" stroke="#1414d2" stroke-width="2.2"/>
<path d="M152.6 9.1V193" stroke="#1414d2" stroke-width="2.2"/>
<path d="M35.5 193H254.6" stroke="#f2b27a" stroke-width="2.1"/>
<path d="M47.6 195.3v-2.5M47.6 8.6v2.5M95.3 195.3v-2.5M95.3 8.6v2.5M143 195.3v-2.5M143 8.6v2.5M190.7 195.3v-2.5M190.7 8.6v2.5M238.4 195.3v-2.5M238.4 8.6v2.5M29.5 195.3h2.5M261.8 195.3h-2.5M29.5 164.8h2.5M261.8 164.8h-2.5M29.5 134.3h2.5M261.8 134.3h-2.5M29.5 103.8h2.5M261.8 103.8h-2.5M29.5 73.2h2.5M261.8 73.2h-2.5M29.5 42.7h2.5M261.8 42.7h-2.5M29.5 12.2h2.5M261.8 12.2h-2.5" stroke="#666" stroke-width="0.9" fill="none"/>
<rect x="29.5" y="8.6" width="232.2" height="186.7" fill="none" stroke="#5a5a5a" stroke-width="1"/>
<text x="46.6" y="205.2" text-anchor="middle" class="tk">-10</text>
<text x="94.3" y="205.2" text-anchor="middle" class="tk">-5</text>
<text x="143" y="205.2" text-anchor="middle" class="tk">0</text>
<text x="190.7" y="205.2" text-anchor="middle" class="tk">5</text>
<text x="238.4" y="205.2" text-anchor="middle" class="tk">10</text>
<text x="26.5" y="198.5" text-anchor="end" class="tk">0</text>
<text x="26.5" y="168" text-anchor="end" class="tk">50</text>
<text x="26.5" y="137.5" text-anchor="end" class="tk">100</text>
<text x="26.5" y="107" text-anchor="end" class="tk">150</text>
<text x="26.5" y="76.4" text-anchor="end" class="tk">200</text>
<text x="26.5" y="45.9" text-anchor="end" class="tk">250</text>
<text x="26.5" y="15.4" text-anchor="end" class="tk">300</text>
<text x="145.1" y="215.5" text-anchor="middle" class="tk">log2(R/RT)</text>
<text transform="translate(8.6 102) rotate(-90)" text-anchor="middle" class="tk yl">-log10(FDR)</text>
<text x="23.5" y="221.5" class="pl">(a)</text>
<path d="M44.6 194.9H240" stroke="#000" stroke-width="1.6"/>
<path d="M557 24.3 557 30.1 557.9 59.2 556.9 39.1 556.6 16.6 557.6 57.7 557.7 51 556.2 25.7 556.3 23.3 556.5 34.4 559.3 37.1 556.7 32.5 558.3 12 558.9 21.5 558.2 12.1 557 59.5 556.2 33.9 556.1 33 557.3 27.5 556.2 33.8 556.9 28.5 559.1 21.3 559.1 21.6 558.3 16.8 557 47.7 557.9 14.1 558.8 21.5 559.3 37.6 557.8 37.1 558.3 28.9 557.8 39 557.3 39.4 558.3 45 556.6 35.7 556 37.7 557.5 20.6 556.6 15.9 563 39.8 565.7 31.6 561.6 58.4 562.3 34.6 563 44 560.4 35.3 565.8 23.1 558 80.2 556.9 83.7 559.2 94.8 556.9 89.8 559.2 64.6 556.7 89.6 557.9 69.4 556.5 92.8 556.2 67.5 559.4 71.5 558.5 91.6 557.4 75.2 557.2 73.3 557.3 66.2 556.3 76.9 556.3 89.9 558.3 87 558.5 94.9 559.1 81.4 558.7 62 557.8 70.8 556.3 91.9 557.1 92.8 556.4 80.6 559.2 63.7 559.4 78.1 556 80.8 557.2 67.7 556.8 72.1 556.5 60.3 558.9 79.1 556.9 61.6 556.1 88.6 557.8 88.9 557.8 66.9 559.2 91.7 557.4 88.6 562.1 61.9 561.6 91.4 559.8 79.5 563.2 85.9 561.8 63.9 564.9 64.8 566.3 86.2 564.1 73 566.3 74 564.4 88.6 564.2 84.4 564.4 63.6 566.3 80.6 564.3 75.6 564.3 76.9 565.3 68.9 564 65.2 564.1 79.9 557.2 120.7 556.1 122.5 556.7 109.6 556.4 117.2 556.2 124 557.2 128.4 556.2 110.5 557.2 122.3 557.8 101.4 557.9 121.2 557.2 127.4 556.2 113 557.9 119.1 558.4 118.9 556.5 102.2 557.9 99.9 557.4 112.1 558 122.1 558.5 101.8 556.9 122.7 556.8 98.6 556.3 123.5 558.2 108.5 558 128.4 556.8 112.4 558.3 104.4 556.4 96.3 558.3 110 557.9 96 558.3 104.6 556.8 117.4 557.3 124.8 557.3 102.8 557.9 110.7 558.1 95.8 556.3 101.4 558.4 119.4 557.5 111.9 557 107.6 556.7 108.9 556.1 95.6 558.2 122.3 557.9 111.3 556.5 107.3 557.6 125.6 556.3 115.9 557.5 114.8 557 120.6 556.9 105.4 557.3 123.4 556.8 118.3 558 101.7 558.3 107.2 557.4 100.9 557.1 107.3 557.9 118.2 557.2 104.1 556.8 125.9 558.1 97.3 557.9 126.6 557.3 110.6 556.6 109.3 556.2 104.9 557.5 126.9 556.4 120.5 556.8 119.4 556.4 129 557.1 128.7 556.3 100.2 557.7 110.9 558.8 110.4 561.2 123.6 561 102.2 562.2 112 560 117.1 562.5 114.7 558.9 114.8 560.5 120.5 560.4 123.7 560.9 98.1 561.1 104 562.1 98 562.1 123.5 561 107.9 564.4 121.7 565.2 123.8 564.5 101.6 564.6 100.3 566.3 108.7 564.6 119.9 565.6 109.4 564.2 117.7 564 98.6 565.2 108.6 564.3 101.3 566.4 97.3 564.2 123.8 563.5 98.3 564.8 116.6 566.4 127.9 563.8 113.4 565.6 129.8 566.5 126.8 565.1 102.6 566.1 117.1 563.9 108.5 563.7 109.8 564.3 120.1 566.1 117.6 566.1 108.7 565.3 102.8 564.5 103.7 563.8 125.6 564.5 109.2 566.3 101.7 564.5 115.2 564.1 119.8 564.9 111.6 565.4 115.8 564.5 101.3 566.1 116.8 564 107.3 566.4 113.2 564.8 99.1 566.4 118.6 563.9 95.6 566.1 107.4 565.7 123.1 566.4 107 565.2 111.2 563.8 129.3 565.1 96.1 564.2 100.4 564.5 119.4 566.3 127.4 565.7 110.8 563.9 98.7 564 108.1 564 119.8 564.4 98.5 564.2 113.6 563.9 123.5 566.1 127.4 563.9 104.3 563.8 100.1 566 111.6 564.9 101.7 564.1 118.6 564.6 103.5 564 102.2 565.4 110.2 565.8 110.5 564.3 107.2 565.2 114.8 565.7 100 565 118.7 563.9 100.8 565.8 126.7 566.3 115.7 564 106.7 565.1 105.1 564.4 126.8 563.6 127.2 565.5 122.9 566.1 111.5 566.3 111.6 564.3 111.8 564.3 108.6 566.2 103.8 564.1 111.1 564.2 104.1 563.8 120 566.4 123.3 566 115.7 564.1 128.1 563.7 129.4 564.8 106 565.4 118.9 557 157.4 556.1 151.1 556.7 155 556.5 140.2 556.4 141.9 558.2 159.8 557.2 131.2 558 150.5 557 155.9 556.8 147.1 558 130.4 557.2 134.3 558.2 143.9 557 142.8 558.5 137.3 556.2 135.1 558.8 152.3 558.4 136.8 558.3 137.8 556.8 159.8 558.3 142.6 557 134.8 557.1 139.9 556.2 142.6 557.3 136.3 556.1 144.6 557 155.7 557.6 135.5 558.7 156.3 558.7 151.8 557.2 154 558.5 150.9 557.6 148.6 557.8 144.7 556.4 146.1 558 131.9 556.5 159.9 557.6 149.2 558.2 155.4 556.2 134.1 558.4 144.4 557.9 131 556.5 136.9 556.2 131.3 556.7 158.4 558.4 141.1 558.1 152.4 556.6 131.5 557.5 133.4 556.6 155.2 557.7 141.5 558.4 142 556.2 135.1 556.5 143.3 557.7 154 558.3 156.3 557.2 141.6 557.1 152.5 558.1 134.6 556.4 159.7 557.2 136 556.6 156 557.7 155 556 139.4 557.2 150.6 557.8 141.8 556.2 132.1 558.4 159.2 556.1 138.4 557.3 144.5 556.5 146.8 557.2 159.8 556 140.3 556.3 160 558.3 131.6 557.9 137 556 134.7 558.7 135.6 556.2 159.2 558.7 135.3 558.4 155.7 556 148.3 557.3 140.1 558.4 157.5 556 143.8 557.1 159.8 557.9 142.9 558.2 146.9 556.8 141.4 558.1 146.5 557.2 132.3 556.4 141.4 557.4 139.5 558.1 158.6 557.3 130.3 556.2 136.1 557.4 131.1 557.5 153.1 557.2 146.3 557.6 132.3 557.4 140.6 559 137.1 559.2 134 562.5 143.6 560.7 142.5 559.1 135.9 561 157.2 560.3 136.4 560.9 137.3 562.5 146 561.2 152.6 564.2 151.9 564.6 130.7 565.8 135.6 563.5 133.1 564.9 152.3 564.9 159.9 565.7 141.7 565.6 135.5 564.4 132.8 564.4 160 563 141.2 566 143.1 565.8 158.1 563.9 140.8 565.2 140.2 563.9 139.7 565.8 150.5 564.1 141.7 566.2 132.2 565.4 149 566.3 145.2 566.1 140 566.3 145.7 563 143.9 565.5 137.1 563.7 140.6 563.9 156 565 159.7 564 152.7 563.6 138.9 565.1 132.2 563 144.7 566.1 142 564.4 159.9 563.9 149 566.2 156.9 565.6 157.8 564.8 156.4 565 149.5 565 155.2 564.3 157.9 565.6 153.1 565.2 143.5 563.5 148.4 563.2 135.4 564.2 159.7 563.5 139.9 564.4 143.5 566.1 142.6 566.4 147.9 565 133.6 563.6 148.7 564 137.3 564.7 148.4 564.5 141.2 563.9 140.6 562.9 145.9 565.3 157.1 563.6 137.8 564.7 149.1 564 144.5 565.7 149.2 563.5 152 564.7 151.2 564.9 132.2 564.3 158.1 563 145.3 564.6 141.6 565.8 140.4 566.3 137.5 565.5 148.3 566.2 152 565.8 142.9 566.5 152.2 566 141.3 566 149.2 564.7 152.7 563.2 156.4 564.6 154.7 564.1 158 566.4 153.3 564.1 143.3 565 156.9 566.5 145.5 565.4 156.4 565.9 140 564.9 132.1 566.1 153.9 566.2 152.4 565.8 157.5 563.1 130.5 563.3 133.1 566 148.4 565.3 143.7 564.9 152.8 565.4 150.5 563.8 149.2 565.7 135.6 565.3 137 563 142.7 564.5 144.1 563.8 153.5 563 146.6 564.8 145.4 565.1 146.9 564.8 135.9 564.1 145.1 565.9 157.6 565.3 143.5 563.8 131 564.3 134.4 565.8 136.7 564 150.5 564.9 131.9 564 159.2 564.9 146.6 562.9 136.1 565.6 155.5 563.1 135.4 565 144.7 565.3 141.9 566 137.6 564.7 131 565.1 138.7 564 150.6 565.1 139.2 565.1 134.7 564.6 149.5 565.2 156.3 566.2 153.2 566.3 151.3 563.2 135.6 563.8 133.2 564.4 133.3 563.3 140.5 563.5 144.2 563.9 154.6 563.5 149.1 565.1 130.7 564.6 155.8 564.3 147.7 565.2 147.9 564.7 133.7 564.3 135.5 563.1 157.7 565.9 148.8 563.8 154.2 563.9 133.5 564.6 154.4 565.4 144.5 564.8 137.8 566.5 138.2 566.1 155.3 564.6 147.6 565.1 147.1 558.6 181.9 558.3 172.3 557.2 181.6 558.5 162 557.4 177.5 556.3 170.1 556.2 160.9 558.8 174.6 556.8 164.6 558.2 165.2 558.8 172.5 557.6 178.4 556.3 174.3 556.6 176.4 556.7 177.6 558.3 167.5 558.5 164.6 558.6 160.6 559.3 163.4 557 172.9 557 180.3 559.4 181.3 557.8 179.9 558.6 166.6 556.1 163.7 558.9 179.9 556.7 172.6 557.7 166.7 556.1 166.1 558.5 163.3 559.3 173.8 558.7 167.1 556 177.3 557.5 167.6 556.5 165.9 559.3 177.5 556.2 170.7 558.3 168.5 557.4 176.1 556.7 173.5 558.3 171.9 559 172 558.8 160.6 556.9 167.9 557.1 167.3 556.9 160.2 557.2 169.6 556.4 180.3 556.1 170 558.2 160.2 559.3 167.1 557.4 173.7 558 162.6 558.4 163.4 556.4 166.6 556.8 173.5 559.2 168.3 559 164.5 559 166 559.4 166.4 556.3 177.3 558.6 175 557.5 180.6 557.8 174 559.4 170 556.6 168.9 557.8 171.7 559.1 181.1 556.9 181.5 557.7 162.3 556.8 167.3 557.6 170.8 556.3 174.6 558.5 169.5 559.1 176.1 559.4 178.4 559.3 166.4 558.9 170.1 557.9 166.5 559 166.2 556.6 165.9 558.1 169.2 556.1 164.2 558.2 164.6 557.8 166.9 557.9 170.8 559.1 166.3 556.8 178.7 558 174.6 557.4 178.5 558.5 172.5 557.3 178.6 559.2 177.4 557.5 163.4 557.4 179.6 556.2 160.8 557.4 169 557 175.4 556.3 164.5 556.7 162.6 557.4 172.2 558.8 166.1 558.5 173.9 557.1 172.9 559.4 161.5 556.5 160.5 556.7 169.3 557.3 162.5 556.1 171.3 556.7 163.3 557.6 163.6 557.9 172.7 559.2 178.2 559.3 175.1 559 180.5 558.5 176.1 556.5 176.7 556.2 173 558.4 165.7 558.5 160.9 558.2 168.5 557.9 180.8 558 166.4 561.7 175.4 561.3 175.1 561.3 172.9 561.1 163.8 560 166.2 559.8 172.2 561.9 181.7 559.6 175.8 561.8 168.2 563.3 171.8 565.9 167.7 563.9 181 565.8 168.1 563.8 171.5 562.6 175.2 565.9 178.6 564.3 179.6 563.2 162.8 562.8 180.8 565.4 177.6 566.3 167.4 565.2 160.4 566 160.6 566.4 165.7 563.9 181.6 564.3 161 565.9 168.8 563.3 162.7 562.7 177.1 564.7 167.6 564.7 168.2 564.3 175.8 566.2 167.6 564.7 168.4 562.9 169.8 562.7 160.7 563 180.7 565.2 173.8 564 175.9 565.9 167.3 566.3 165.1 565.4 172.5 565.7 170 562.8 169.6 565.5 166.8 562.7 177.2 566.2 165 566.1 171.1 565.2 169.2 563.9 175.3 564.8 163.3 565.6 174.8 564.4 173.7 564.6 172.3 565.8 170.4 565.9 160.3 564.2 163.9 564.5 167.7 565.3 174 563.1 175.9 562.4 168.7 565.8 163.5 563.7 164.7 562.9 164.8 564.3 161.7 565.8 167.5 563.1 171.3 563.2 175.6 564.7 165.9 564.9 160.9 563.9 179.5 565.7 169.3 562.2 180.4 565.3 167.2 563.9 167.9 563.4 162.3 566 179.9 563.2 178.6 564.7 163.6 563.7 178.7 566.2 172.6 562.2 176.1 565.9 165.3 566.3 179.1 564.7 180.7 563.5 164.8 565.7 162.9 566.4 167.5 564.6 175.2 563.8 160.4 565.1 178.7 562.9 163.3 565 167.1 562.3 176.4 563.8 161 564.9 165.6 564.2 172 566.4 172.2 563.9 176.6 566.3 161 562.7 161 564.9 161.3 563.5 170.6 563.8 172.2 563.5 178.1 563.8 177.7 563.8 177.4 562.7 161.9 564.3 164.1 563.4 180.9 564.4 173.1 562.4 178.6 563.7 174.4 565.7 163.8 565.5 181.5 566.1 161.3 566.1 176.9 565.5 170.1 565.8 171.7 564.7 178 565 180.5 564.2 167.9 565.5 161.5 564.8 181.2 565.8 169.1 563.1 165.7 566.1 171.7 566.5 174 564.9 180.4 564.6 168.2 563.9 170.3 565.8 160 565 172.7 563.9 161.4 564.3 171.9 563.8 169.6 565.6 164.1 565.3 171.4 564.2 163.3 563.3 161.3 564.7 160.6 562.9 177.2 565.4 181.6 564.6 170 563.8 168.4 565.4 177 565.8 165 564.9 160.9 564.3 173.1 562.8 160.9 565.8 180.3 562.9 168.6 564.7 173.9 565.5 165.5 564.2 177.3 565 160.7 562.7 173.2 565.9 168.6 562.9 167.2 564.3 181.2 557.8 184.4 559.5 189.1 556.1 186.8 557.2 190.7 559.2 185.4 558.3 186.1 559.1 188 558.2 189.4 556.1 189.5 558.1 187.7 557.9 189 559.2 189.8 557.5 184.1 559.2 186.7 559.1 188.6 559.4 190.5 556.9 187.5 556.1 188.2 559.5 182.5 556.8 188.8 557.8 183 557.5 185.4 556.7 182.8 556.8 182.2 557.1 182.5 558.9 182.2 559.5 188.2 559.7 183.6 559.2 187.3 556 186.5 557.8 184.3 559 187 559.5 186.3 558.3 182.3 559.5 184.8 559.2 185.5 556.6 182.1 557.6 183.6 559.7 188.7 556.7 189.3 557.7 187.4 559.4 189.3 557.2 183.6 556.1 190.1 557.5 183 557.9 182.4 557.5 183 556.6 189.4 557.7 185.1 557.2 186.1 556.2 184.2 559.5 185.1 559.5 184.1 558 188.8 557.1 186.5 556.5 187.4 556.4 187.5 558.5 190.3 560 184.9 561.7 184.4 560.7 188.6 560.8 183.1 560.5 186.3 561.7 184.8 561.1 182 561.5 182 561 190.2 560.2 190.8 561.7 182.1 560.3 189.5 560.9 187.5 561 182.2 560.4 188.2 561.7 186.7 560.1 185 561.4 190 560.2 183.5 561.1 188.1 561 182.5 560.6 183 560.9 189.7 560.8 182.3 561.9 189.8 561.1 190.9 561.3 186.8 560.8 187.6 561.8 183.9 566.3 182.8 563.8 183.7 564.4 188.5 563 182.9 562.6 182.8 564.3 182.3 565.7 187.2 564.7 190.2 566.4 186.4 566.2 188.7 566.1 182 566.4 188.1 564.6 189.1 565.5 183.2 565.5 188.8 564 187.1 566.4 184.9 565.8 182.3 566 190.7 566.5 185.9 562.8 188.7 565 184.4 563.1 187.6 565.2 183 565 189.5 562.6 186.4 564.7 188.4 566.4 182.7 563.6 183.3 563.9 188.8 566.2 184.4 563 188.8 566 182.6 562.8 189 564.2 185.5 565.9 184.9 562.9 189.2 563.1 189.5 565.2 186.1 565 187.5 564.1 190.2 564.5 187 566.3 190.9 562.1 189.6 564.2 186.9 565.2 186.2 563.6 184.2 566.4 184.9 563.4 184.2 563.6 185.8 562.1 186.9 563.1 187.5 562.9 190.7 564.3 186.6 566.1 190.4 565.9 186.3 562.3 189.3 564.3 187.1 563.8 186.3 565.8 182.3 565.2 185.2 564.7 190 563.4 183 564.7 187.2 565 190.9 556.6 10.8 565.9 11.2 558 10.5 561.3 10.5 565 10.4 562.5 11.1 563.3 10.8 560.8 11 558.2 10.5 566.1 10.8 558.7 10.9 558.5 11.1 566 10.5 560.7 11 558.7 11.1 560.9 11.1" fill="none" stroke="none" marker-start="url(#mk)" marker-mid="url(#mk)" marker-end="url(#mk)"/>
<path d="M534.5 160.9 542.3 178.3 549.9 177.7 549.7 162.4 541.1 147.6 541.1 169.3 552.4 114.5 538.9 151.5 537.1 174.8 544.1 155 551 132.5 545.6 140.4 547.1 159.5 541.4 170.8 547.8 139.6 544.3 144.8 551.6 183.8 552.8 165.1 542 169.9 551.5 145.3 548.4 162.7 533.9 165.7 550.5 155.2 540.7 181.8 541.3 188.4 545.9 146 541.9 174.9 542.1 141.9 540.2 164.2 540.8 189.6 551.2 130.3 552.5 122.2 544.3 127.5 551.7 114.2 545 156.6 545.1 143.7 536.6 174.5 545.6 140.3 547 155.7 534 162.2 549.2 183.8 547.9 142.3 532.6 176.4 545.2 182 539.4 163.9 541.9 163.7 550.7 124.7 545.2 179 546.4 186.9 544.7 180.2 548.5 127.9 548.9 149.6 540.5 147 538.5 146.1 538.2 186 546.9 125.7 547.3 144.4 545.2 143 534.3 163.7 549.4 156.7 541.2 176.1 543.8 145.1 550.4 131.9 541.1 135.1 537.2 153.8 541.9 155.1 535.1 175.1 547.8 181.1 544.1 179.9 538.8 172.2 552 125.3 546.9 161.5 547.8 137.4 551.9 170.1 536.4 178.4 537.2 162.9 552.8 148 546.9 186.6 532.7 175.2 550.9 163.8 541.4 137 551.3 178.8 541.5 143.5 546.3 129.4 548.8 187.3 534.2 155.6 541.2 156 537.9 176.7 541.6 152.4 533.5 179.6 541.7 172.5 552.4 167.5 552 143.7 536.7 149.2 546.1 162.5 541.8 159.3 534.2 160.2 546.6 146.9 537.2 190 551.4 180.8 542 156.9 537.8 157 537.8 182.8 535.5 162 532.8 177.2 536.4 148.5 549.6 119.3 549.8 147.6 541 137.3 541.3 135.2 540.3 167.9 545.7 176.3 546.1 136 552.5 156 541.8 165.4 539.6 186.8 539.6 179 540.4 173.1 540.4 182.6 536.2 176 550.4 135.8 552.5 118.9 550.9 183.3 550.2 146.1 543.5 170.1 538.1 143.8 547.6 190.4 545.1 189.7 537 145.3 539.7 183 551.9 179.7 549.9 189.7 549.8 152.8 538.8 180.7 534 159.3 534 160.8 544.3 171.1 546.1 139.4 547.7 152.2 540.8 185.8 537.7 149.9 545.3 125.5 541 172.4 550.8 161 537.1 190.5 545.1 130.6 535.2 152.7 537.4 186.7 543 174.4 546.4 136.1 552.6 186.5 550.6 126.3 533.2 163.2 537 162 543.2 190.3 552.4 143.6 538.5 177 537.3 179.8 545.3 168.7 546.2 153.5 538.4 164.3 548.2 153.6 552.4 165.2 548.3 181.3 544.4 179.7 539 172.7 542 183.3 541.7 184.7 536 177.1 547.8 177.7 538.8 155.5 537.7 183 549.9 162.4 542.6 156.5 547 162.8 540.9 153.2 553 137.4 542.2 150.4 552.4 129.5 552.9 140.7 542.8 181.4 536.3 167.5 536 183 536.9 160.2 540.2 155.3 539.8 158.6 538.9 154.3 544 186 544.3 176 548.1 126.7 533.4 159.9 545 148.7 552.8 153.8 538.5 163.5 550.4 160.4 540.9 152.5 545.8 168.4 548.5 141.9 549.9 186.9 547.8 178.3 533.2 159.4 539.6 140.2 534.9 161 538.4 172.3 546.1 129.6 540.8 174.4 539.7 164.8 551.9 168.6 544.2 142.6 550.6 157.2 549.6 144 532.9 170.8 533 158.9 544.7 151.9 543.4 169.3 552.1 123 552.9 155.9 545.9 132.4 545.5 142.6 537.7 179.1 542.8 167.2 542.8 166.3 544.8 190.1 547 147.1 543.1 159.9 549.3 160.6 549.4 126.3 551.6 141.1 541.7 186.9 549.3 164.5 548.4 150.8 533 161.7 549.1 170.6 541 155.7 551.9 146.9 550.8 130.8 546.9 187.9 551.9 148.1 532.6 170.7 550.6 141.3 534.2 176.6 532.1 160.8 537.9 181 544.5 181.3 550.2 182.9 550.4 143.9 546.1 182.3 540.8 137.8 543.3 186.1 536.9 179.3 544.9 133.8 534.8 162.5 551.3 142.5 542.2 154.2 543.1 170.3 538.9 144.3 542.5 173.1 545.3 145.3 547 142.3 535.7 153.6 552.5 122.3 532.1 167.6 548.1 179 539.9 165.8 547.5 139.8 542.6 174 551.9 158 541.5 186.9 546.9 144.7 549.1 170.5 538 167.7 552.7 145.4 534.6 165.6 533 176.9 543.1 160.7 544.5 157.1 553 112.9 539.7 155.4 543.5 135.1 533.5 160.8 550.5 184.6 545.2 163.7 534.4 164.7 533.1 163.9 542.9 182.4 552.6 171.2 540.2 173.7 540.5 137.1 547.6 160.5 549.2 169.6 535.5 175 535 162.4 537.7 148.4 552 173.2 540.8 163.9 544.8 156.8 532.7 158.8 547.7 139 545.7 169.3 549.5 128.9 544.3 160.7 544 157.4 538.6 186.6 544.8 149.2 538.6 189.1 536 148.6 550.1 187.3 545.8 127.4 548.9 189.1 551.9 134.9 548.8 177.6 543.6 160.7 550.3 177.9 544.3 187.7 547.3 182.6 537 189.4 552.2 125.3 549.9 159.9 548.4 180.1 540.6 168.1 542.3 154.3 548.3 130 549.2 130.8 532 163.9 532.3 172.2 539 173.3 542.7 174.7 549.9 180.4 541 184.3 535.7 178.9 538.1 142.5 533.7 168.1 548.7 142 548.7 181.8 547.2 129.9 551.8 137.5 538.4 185.4 545.7 131.5 548.6 134.3 547.5 127 550.3 184 536.3 182.6 543.5 145.6 543.8 171.3 541.1 143.1 548.9 137.4 549.8 146.3 540.2 145.7 543.9 164.2 548.7 140.3 535.7 178.2 552.6 168.9 549.2 127.2 544.2 154.6 546.4 164.4 540.3 141.1 540.4 175.5 547.8 151.5 548.9 121.2 549.3 177.6 545.8 173 552.8 178.6 548.6 162 552.2 187.2 538.3 144 534.3 165.4 531.3 167.3 552.7 166.9 536.2 177 545.3 165 535.7 183.3 536.8 153.9 537.7 170.9 546.5 173.5 550.5 184.6 536.2 165.3 536.1 164.4 541.6 184.8 550.1 175.7 540.1 148.1 537.6 187.2 537.6 147.3 536.8 173.9 548.7 140.9 538.4 179.6 552 156.3 539.5 139.6 540 162 550.8 158.9 537.5 185.3 552.4 177.1 547.1 160.3 550.7 146.3 548.8 136.4 548.2 142.6 552.2 118.6 547.3 137.7 545.7 184.5 536.5 171 541.2 188.2 544.2 170 551.7 128.5 549.4 168.5 542.8 169.7 550.2 118.5 549.8 143.6 538.2 156 538.8 149.7 538.7 183.4 543.6 184.6 544.8 170.6 546.5 156.7 538.5 182.1 552.4 185.9 551.3 168.2 552.1 187.2 547.4 183.2 546.1 179.3 533.9 159.6 549.7 175.3 551.8 186.2 537.8 169.4 552.7 112.5 542.8 144.5 542.1 174.4 539 167.1 552.9 174.9 537.2 177.5 549.8 162.3 536 169 533.7 162.8 547.9 148.2 544.9 163.9 539.5 145.3 541.6 178.7 538.1 155.6 542.3 182.9 534.6 183.3 543.8 145.5 546.7 136.9 540.7 143.8 546.7 180.2 544.4 138.4 546.2 132.8 543.1 154.9 548.6 153.2 546.4 132.8 537.2 177.1 549.1 164.1 541.9 178.7 550.1 142.3 551.4 161.6 542.8 151.9 533.9 160.8 550.7 133.7 537.6 153.3 547.4 145.9 547.2 185 551.8 129.1 546.3 186.6 533.5 173.6 547.8 125.8 538.4 185.2 543.3 129.9 543.5 170.8 548.4 182.1 550.3 166.5 541 182.6 541.4 159.6 538.4 173.9 542.8 140.8 549.6 166.1 546.3 146.7 545.5 185.8 551.3 183.4 536.5 174.7 550.1 166.6 540.7 156.8 550 167.4 550.9 132.2 546.6 170.8 552.2 182.1 540.9 165.1 543.4 167.6 535.3 160 544.5 146.4 538.2 169.7 547.5 125.1 534.5 175.9 534.2 161.9 550.9 189.8 541.9 175.6 532.8 174.1 537.6 159.1 546.6 159.2 534.1 167.9 552 116.4 545.4 147.9 542 134.9 544.6 181 532.1 165.7 546.4 123.5 552 120.8 533.9 165.9 535.1 174.3 535.7 177.8 542 151.1 543.4 146.7 537.5 158 547.3 171.5 542.6 169.9 548.8 180.4 553 147.9 543.2 149.2 548.8 163.1 544.5 150.7 549.6 129.6 538.8 153 538.4 145.1 549.6 164.7 536.6 165.7 534.6 177.8 537.5 163.3 550.9 160.6 551.8 124.6 539.3 154.4 548.9 189.6 551.7 184.2 536.4 184 539.6 141.8 546.5 162.9 534.7 176.8 549.1 151.3 541.6 167.4 549.9 174.2 536.8 160.4 534.3 168.4 546.5 140.8 547.8 184.3 552.6 189.8 536.3 187.6 541.6 139.3 533.5 173.5 548.7 172.5 536.4 152.7 552.5 124.9 546.2 138.7 543.4 152.9 540.7 158 534.5 157.1 542.5 163.6 549.9 139.6 542.6 178.3 538.1 181.2 551 157.7 547.7 142.7 545.8 136.7 550.4 146.7 547.8 147.4 540.3 152.6 552.7 168.2 545.2 187.2 540.3 170.7 547.3 180.3 547.6 157.8 541.3 173.5 536.1 163.7 540.7 151.5 536.9 179.3 540.5 152.6 533.5 167.1 549 163.7 538.7 143.7 535.7 171.9 552.9 151.3 540.6 155.3 540 189.3 552 182 552.9 144.5 545.7 128.5 547.5 122.8 551.9 161.5 539.9 155.8 547.8 127.9 550.7 131.5 536.9 164.1 548.5 180.1 547 129.6 551.1 187.2 533.1 171.7 543.6 160.1 548.1 188.5 542.4 150 544 147.1 543.7 147 535.8 157.7 544.9 147.3 549.8 167.2 534.7 170.3 540.7 175.9 547.6 159.5 543 143.3 547 150.2 545.3 187.5 545.4 136.7 550.7 136.3 543.5 186.3 537.7 169.2 548.4 163.1 546.5 190.5 546.5 136.2 545.4 133.7 551.8 161.8 551.6 188.6 541.3 186.1 540.7 171.9 552.5 190 549.6 137.3 545.1 153.4 550.9 125.9 545.5 144.3 543.5 134.9 542.8 175.4 552.2 129.2 549.4 140 550.2 160.2 545.3 129 553 188.1 550.7 167.4 552.1 132.7 547.1 172.1 542.9 172 549 129.1 540.2 188.8 546.8 159.1 541.3 180.4 542.3 147 550.4 142.3 533.7 175.9 550.4 181 533 175.8 541.8 165 535 184.5 539.3 150.4 539.4 162.2 548.8 159.1 540 149.7 538.1 187.9 550.5 128.2 548.7 174 534.9 163.6 540.3 151.3 549.2 130.9 552.4 134.3 551.1 148.6 537 159.5 537.3 184.2 544.2 158.8 535.3 174.1 544.6 134.8 547.1 136.7 544.6 143.6 546 177 552.8 188.9 535.4 174.7 551.1 152 546.3 170.1 538.8 166.1 538.3 160.8 537.1 184.1 549.4 156.7 543.2 178.6 550.1 174 543.7 168.7 543.7 141.4 542.1 181.6 540.8 148.4 544.4 173.3 546.1 186.5 536 158.2 551.2 136.8 551.6 123.3 551 163.1 539 187.2 545 165.2 539.2 156.6 547 137.5 551 173.9 542.3 151.2 534.5 152 546.4 187.9 543 186.2 549.6 190.4 538 188.9 546.3 152 536.2 154.7 542.4 149.9 548.2 147.4 548.1 148.6 538.8 156.5 545.2 181.4 536.9 158.5 552.5 135.8 547.2 151.4 537.2 180 552.3 140.6 538.5 157.2 550.9 134.9 538.3 146.7 550.5 186.9 551.8 149.2 543.4 155.5 552.9 117 548.1 180.2 547.6 165.9 551.3 167.9 553 124.9 536.3 155.2 548.4 128 550.1 176.8 545.6 171.1 542 148.1 547 122.6 537.6 144.1 546 169.8 544.1 153.9 545.1 126 544.7 135.8 552 138.9 549.5 176.4 542.5 153.1 545.3 129.1 551.8 115.9 538 157 542.4 186.5 534.6 183.8 539.2 172.2 544.5 183.6 549.9 173.4 547.9 171.1 548.8 146.6 551.5 117.9 547.3 122.6 544.3 138.6 541.5 159.6 543.4 163.8 542.4 188.7 546.6 156.9 534.2 166.2 551.3 176.4 544.8 147.4 543.6 144.5 538.5 151.9 539.3 144.9 535.9 188.9 541.1 141.4 549.7 141.1 551.1 118.2 551.1 183 551.4 123.2 548.1 172.5 543.2 182.9 542.9 169.9 536.1 157.6 552.7 174 537.8 187.6 536.7 174.8 544.8 169.2 549.3 128.3 545.5 174.9 548 158.8 549.3 129.7 548.9 182.1 539.8 159.4 538 168.1 543.2 151.7 549.6 154 546.8 159.8 549.8 189.4 539.9 158.4 548.6 172.7 544.3 177.6 552.5 113.9 539.9 181.1 552.7 114.3 543 185.4 550 170 545.4 166.2 542.5 153.2 545.3 185.3 551.4 161.7 549.3 152 542 146.7 540.4 150.3 549.4 182.2 544.8 154.8 551.1 126 549.9 157.2 549.3 128.3 535.1 166.6 550.6 141.2 538.8 170.1 538.4 161.2 540.5 164.3 552 114.7 551.3 146.9 539.2 147.1 533.8 158.4 545.9 174.2 545.7 164.7 552.3 131.4 550.2 159.7 549 184 549.9 184.8 546.7 155.2 541.6 161.4 536.8 152 548.1 133.9 543.8 167.8 541.4 164.2 550.6 167.6 548 165.9 547.2 157.4 552.6 141.3 540.2 137.9 542.4 184.6 533.4 164.5 546.3 128.5 535.1 173.8 551.8 146.3 546.1 188.5 547.9 178.4 546.1 175.5 544.6 179 549 125.8 550.3 182.5 549.1 133.9 533.8 168.1 542.3 149.9 547.2 140.7 553 188.1 550.9 176.8 547.4 167.7 538 179 539.8 174.2 549.5 171.7 537.7 158.9 550.9 132.6 547.8 147.9 541.3 169.6 548.3 146.3 543.8 185.2 550.5 185.2 546.8 150.2 541.6 186.3 552.7 132.5 543.3 186.1 552.6 137.6 547.3 139.2 538.3 176.2 546.3 187.4 536.4 181.9 549.3 164.3 536.3 175.3 536.7 160.5 551.9 120.3 541.2 173.7 552.3 152.7 544.7 152.1 550.9 170.2 550.5 185.7 549.2 152.4 548.3 179.2 544.1 154.6 537.1 177.8 533.1 178.4 542 157.9 541.8 160 537.5 183.4 552.2 164.7 544 133 541 153.2 532.8 177.4 552.2 139.1 544.9 155.6 550.4 120.8 533.8 181.1 543.3 157.4 541.9 155.4 545.4 159.4 552.5 185 542.1 166.8 544.9 182.1 552.9 150.7 535.3 175.6 545.8 139.1 548.9 146.6 533.6 159.6 540.3 155.2 552.4 119.6 534.3 182.9 538.1 155 541 182.2 552.3 124 551.4 167 539.3 145.6 539.6 158.2 543.6 190.4 549.3 151.9 552.8 137.2 546.8 137.4 546.2 125.7 547.4 124 549.9 180 552 156.5 542.8 132 540 177.7 549 164.5 550.5 122.6 549.1 147.4 550.7 142.1 544.3 149.6 548 150.3 551.8 166.7 551 144.1 536.4 157.8 541.5 154.2 544.5 145.4 536.5 179.8 547.6 163.8 553 118.8 546.5 133.9 548.7 169.5 548.4 178.5 545.5 171.4 552.4 183.4 549.7 183.8 550.2 188 542.2 160 551.6 161.9 533.4 163.1 548.3 123.4 544.9 189 538.2 148 537.8 161.7 552.8 143.1 543.8 140.7 540.8 150.9 549.6 175 551.5 123.4 543.6 164.7 545.1 134.7 538 185.2 537.1 189.6 532.5 169.4 534.5 176.1 540.8 148 547.1 134.7 531.5 164.7 544.6 155.5 552.5 148.3 540.3 168.7 537.4 158.1 549.9 161.7 535.7 175.5 538.4 159 543.1 158.7 542.5 170.3 534.2 156.5 550.4 145.4 543.3 173.7 550.8 177.6 548.3 188.1 549.7 129.9 540.9 155.4 551 145.9 547.4 178.3 548 143.2 542.4 147.9 544.5 127.7 540.3 141.1 532.6 163.8 534.1 159 539.1 141 537.8 143.2 545.2 143.1 551.2 157.5 543.8 137.9 545.1 177.2 550.2 189 542 136.8 541.7 139.7 533.9 181 551.6 126.6 537.4 149.5 544.4 178 549.2 117.7 533.8 161.7 551.4 140.4 544.5 185.8 548.2 169 547 146.4 534.4 164 543.9 186.7 543.2 159 542.7 132.6 538.8 185.5 544.3 176.1 550.7 132.8 535.7 168.4 549.5 171.2 551.8 139.9 548.6 146.4 547.4 162.1 541.8 159.4 545.3 154.1 547 143.4 538.9 176.7 533.7 170.5 550.1 154 552 141.6 547.3 156.5 551 138.6 540.1 182.9 540.8 147 538.5 180.1 547.2 168.8 536.1 189.5 534.6 177.9 540.7 189.6 534.5 155.7 549.7 165 551.2 125 550.7 129.7 537.6 178.8 550 159.1 548 151.4 544 131 544.7 181.1 551 134.5 551.1 189.7 551.7 138.3 537.5 190.2 539.5 184.7 546.5 175.7 541.2 165.5 548.8 137.4 545.4 129.1 549.9 140.3 551.3 186.8 550.6 148.4 548.3 184.1 544.4 150.3 549.4 166.1 540.1 149 540.5 167 547.2 138 552.4 115.5 544.4 143.2 538.3 161.2 543.5 159.9 552 175.5 548.3 146.6 536.4 146.8 552.2 180.2 552.3 170.5 549.4 126.5 549.4 163.4 543 187.1 548.1 172.1 540.1 175.7 552.5 168.8 541.8 162 552.6 171.4 549.2 125.1 541.7 169.5 550.6 187.9 544.6 139.6 542.2 164.3 552.1 170.4 548.2 187.8 545.8 136 549.2 171.1 547 148.3 534.8 172.7 552.5 129 538 188.1 547.1 130.4 550.5 171 538.5 165.2 552.7 136.8 546.7 175 552.4 162.5 535.9 178 549.9 163.7 533.6 163.4 542.2 179.3 552.3 126.8 543.5 156.6 551.3 133.5 551.7 188.4 552.4 185.2 534.5 182.7 547.9 149.5 541.2 182.4 534.8 161.3 541.1 147.4 548.6 137.6 544.3 164.3 546.8 150 534.7 171.4 551.6 187.7 547.8 171.5 544.7 185.9 547.5 144.9 537.6 153.1 551.3 155 536.1 170.1 546.4 123.8 543 130.7 540.5 179.3 536.2 159 538.6 141.3 543.1 146.2 547.9 162.9 551.7 166.3 540.3 152.4 540.6 185.7 550.9 146.2 545.5 161.2 543.1 138.6 531.6 167.7 548.1 171.8 550.4 163.3 552.5 190 542.9 147.4 550.1 182.8 546.8 144.5 543.7 138.2 542.3 148.6 548.2 171.3 534.7 185.4 541.1 163.9 547.5 126.1 547 131.4 545.9 185.7 544.3 149.5 539.9 161.4 537.3 167.3 533.7 164.4 535.9 167.7 547.4 133.5 543.1 175.3 546.2 165.4 544.2 154.8 538.7 151.2 536.2 178.5 552.3 174.1 540.6 178.1 545.5 135 539.6 190 543.8 146.6 538.9 150 533.8 164.2 543.4 155.6 550.7 175.1 550 179.7 541.7 185.1 543.7 187.1 551 164.3 540 173.9 545.5 138.6 548.2 149.3 548.9 189.1 540.2 173.1 545.8 164.5 540.3 166.8 544 156 538.7 169 537.4 178.1 537.9 155 543.1 172.5 551.3 156.6 549.2 121.7 535.2 152.5 544.7 145.4 533.5 170 545 180.8 549 168.2 542.4 155.7 543.2 148.4 533.1 161.6 545.5 186.4 550 163.2 539.2 159.5 537.1 160.8 533.3 169.9 542.3 173 550.5 172.3 541.3 150.6 550.2 132.5 541.6 183.2 534.6 165 551.6 137.3 549.1 187.4 547.1 154.2 541.1 142.8 538.6 187.4 541.2 155.3 541.1 139.6 535.2 174.1 546.5 177.4 545.3 136.1 546.1 157.7 536.3 181 545 160.7 539.8 178 547.2 122.6 548.5 119.2 548.5 168 543.3 190.5 546.4 127.9 552.6 126.7 549.9 151.3 532.1 160.5 545.2 163.5 547.6 149.3 545.1 157.7 552.3 146.8 551.7 125.2 552.8 172 549.3 181.3 550.3 136.1 539.4 141.5 551.8 190.5 538.8 143.4 538 185 532.1 168.1 543.3 171 550.5 178.8 546.7 180.5 545.5 178.3 552.4 119.8 551.9 184.3 550.4 144.4 538.7 152.3 548 142.3 552.6 163.4 539.4 154.2 552.1 128.9 549.5 154 539.3 171.3 551.7 115.2 547.4 169.7 545.3 182.4 548.2 190.2 548.5 125.1 548.3 180.8 539.5 146.8 545 151.3 533.4 171.3 540.8 170.3 546.6 123.5 549.8 146.8 542.8 157 548.8 137.4 539.6 151.7 545.1 139.1 547.9 161.2 548.2 164.8 549.2 120.8 538.8 188.3 546.8 181.2 540.5 175.1 536.2 189.5 542.2 187.4 549.1 161.2 544.3 190.2 534 176 552 128.6 532.7 168 548 171.2 550.9 155.3 536.7 154.8 537.9 156.4 545.3 163.9 550.8 169.7 550.3 144.1 545.6 125.6 547.8 157.4 546.6 180.4 538.7 183.9 552.7 115.9 548.7 136.2 540.8 152.9 551.9 148.8 549.9 182.9 548.7 138.8 538.1 153.5 536.8 157.4 546.1 125.4 541.3 181.4 540.4 141.9 533.7 158.4 537.3 170.2 536.7 158.9 546.5 126.2 548.3 181 543.6 180.4 538.8 188 545.8 152.2 551.7 154.1 549.1 163.1 538.8 169.3 533.1 163.3 553 177.4 544.1 135.8 535.5 154.3 548.2 142.9 544.5 156.6 551.5 124.6 539.9 140.1 547.5 134.3 546.3 145.5 549.7 140.9 553 160.5 541.1 138.3 548.5 141.8 542.2 180.6 551.1 140.3 552.6 158.5 532.8 161.4 550.1 123 542.8 153.9 543.5 171.1 539.4 181.2 551.4 154.6 547.4 171.7 538.6 166.9 550.6 174.9 544.8 164 534.4 153.6 549.7 143.8 543.4 161.2 551.9 182.2 534.6 181.4 550.5 160.5 545.9 188.1 551.9 117.6 544.8 157.5 545.3 184.5 549.3 134.8 546.6 143.2 553 139.6 542.2 146.6 552.8 129.2 551.9 163 545.4 133.9 542.4 138.9 539.9 180.7 547.8 178.6 535.1 160 549.9 160.3 552.1 134.9 550.3 164.8 550.1 135.5 551.5 149.4 532.8 172.8 550.8 156.3 545.9 187.6 552.9 155.3 549.6 125.9 547.3 166.1 535.3 187.6 539.2 167.3 544.3 168.1 548.6 126.7 545.8 160.6 539.5 141.3 540.3 172.5 533.1 163.5 552 178.3 551.5 117.5 550.7 165.3 546.6 155.9 552.4 143.3 542.1 136.2 538 178.6 550 177.9 543.5 183.8 544.7 165.7 552.6 123.7 552.9 144.5 547.1 134.2 532.4 172.4 536.3 166.4 543.3 188.6 540.4 140.6 547.6 121.2 546 155.2 552.8 172.7 544.8 173.1 546.2 172.9 539.5 162.9 552.5 180.9 552.8 155.5 552.4 174 548.9 132 550.2 155.5 544.6 163 547.1 158.4 552.9 113 542.5 179.9 536.4 164.8 534.8 178.4 538.9 177.9 541.5 183.9 545 174.2 535.2 175.3 546.9 134.6 538.4 180.5 541.1 148.9 544.3 171.4 549.6 138.3 538.7 166.4 542.4 142.6 549.9 138.2 539.2 144.4 546.5 171 545.6 173.5 543.3 190.2 535.5 174.1 541.3 138.6 545.5 156.6 551.3 180.5 549.6 153.6 549.5 157.2 540.9 145.8 541.4 163.9 549.7 170.8 537.7 186.9 551.2 132.1 539.9 179.1 545.4 134.3 541.6 154 535.1 178.8 543.8 179 548.7 131.8 538.1 164.8 546.2 178.8 544.3 154.2 549.9 152.2 536.8 146.8 550.2 122.6 541.7 168.3 536 179.1 532.9 167.1 544.8 130 539.1 153.4 548 161.4 545.9 180 548.9 180.1 542 154.5 534.3 160.1 551.4 171.9 545.3 129.5 542.1 157.5 546.3 170.5 539.6 189 539.7 187.6 549.9 173.2 546.8 152.8 543.5 162.1 545.4 161.9 552.6 131.1 548.3 138.3 551.9 164.4 540.8 143.8 549.3 125.8 550.5 120.8 549.7 131 542.2 167.2 545.8 142.5 547.2 182.1 539.4 190.3 538.4 159.5 543.5 188.6 537.7 161 545.6 161.5 536.9 146.4 538.8 154.6 543.2 156.7 548.7 165.1 540.2 166.1 532.7 172.8 548.3 139.4 545.7 158 551.9 173.2 551.1 154.5 541 149.2 551 173.6 548.8 176.8 545.7 136.1 547.2 121.7 538.5 144.9 539.3 139.7 553 164.3 552.8 127.9 548.4 141.5 552.5 178.9 538.7 153.1 537.4 186.6 546.8 182.8 540.4 150.8 551.5 181 535.2 170.8 543.3 160.2 550.1 181.9 540.3 175.7 540.7 180.2 536.3 149.1 535.9 179.1 534.3 160.2 548.8 123.3 539.7 153.3 532.2 171 548 123.8 539 153.7 550.3 164.8 538.7 173.8 545 129.6 548.5 160 546.7 174.6 540.4 180.4 542.5 148.2 541.9 139.6 538.9 189.2 535.2 184.3 547 177.3 550.4 173.7 542.8 182.3 550.3 129.2 552.6 122.6 532.9 176.7 552.9 173 534.7 162.4 546.9 179.1 533 160.1 542.4 150.9 547.8 189.8 545.4 143.6 551.9 189.9 546.1 140.2 534.3 176.5 542.4 145.2 536.7 183.7 537.3 153.5 543.8 131.5 542.4 140.9 552.7 143.5 541.1 185 537.1 185.7 534.5 168.9 547.9 160.8 550.3 157.1 549.1 182.3 551.1 176.4 544.3 173.5 548.2 183 543.4 172.2 540.4 158.6 550.6 138 547.9 145.8 541.3 143.1 542 168.6 547.5 125.1 549.7 166.6 545.9 187.2 536.3 148.6 533.6 173.9 549.8 167.4 544.3 186.1 548.7 122.9 545.4 180.7 550.9 184.3 552.6 177.6 538.7 187.1 546.9 159.2 546.1 140.7 538.4 163.7 537.1 184 537 174.5 550.2 178.3 535 169.3 551.1 162.2 552 159.6 547 147.3 543.9 180.7 550.3 116.9 546.5 172.4 541.3 159.5 541.8 174.2 540.8 142.3 549.1 135.5 537.3 176.5 551.4 188.9 547.2 149 540.3 143.4 538.3 160.3 547.5 185 534.8 168.7 549.7 179 552.9 127.5 545.7 165.9 542.8 182.1 545.7 169.4 551.6 120.4 544.4 158.6 541.8 152.1 546.8 166.6 545.8 135.4 539.3 160.4 548 137.1 533.6 163.3 552.6 136.9 539.1 150.2 535.9 175.8 546.9 130 546.4 159 551.2 102.9 531.4 155.4 545.2 124.2 533.6 144.3 538.7 128.9 552.7 94.3 550.1 114.2 546 116.8 548.3 109.3 550.4 114.8 530 157.9 547.8 111.2 537.3 132.4 536.2 135.3 534.5 151 535.7 147.4 542.9 126.8 545.1 120.8 548.8 102.2 549.6 111.7 534.5 142.7 541.8 124.2 544.9 124.9 549 106.1 550.3 106.1 533.5 150.6 539.9 136.3 543.6 125 548.9 104.1 531.2 154.1 531.6 161.9 537.1 133.8 545.9 113.2 545.2 123.6 545.5 113.2 543.6 124.4 544.8 123 533 145.8 547.3 110 541.3 127.4 548.9 111.1 550 100.8 531.2 171.7 538.7 132.1 538.7 133.6 533.7 147.5 538.9 130.3 542.5 121.1 547.2 107.7 535.9 136.3 546.3 111.7 541.7 133.3 542.5 129 547.1 113.7 548.3 110.2 550.7 110.1 540.1 135.3 547.9 107.2 549.1 112.9 545.2 113.4 550.1 99.5 537.1 143 545.9 116.6 549.3 116.1 544.4 118.9 534.5 144.2 532.2 157.5 537.1 134.8 551.2 110.1 540.2 132.3 533.3 147.8 547.1 107 539.2 135 539.1 125.5 545.9 121.2 547.9 115.7 530.7 154.7 541.4 126.9 542.8 126.1 551.9 94.9 549.3 101.1 540.6 127.3 544.2 119.9 546.1 123 551.7 102.4 530.5 156.7 535.7 137.4 532.1 159.5 532.3 153.5 537.6 142.5 547.1 112 547.5 117.2 547.2 108.3 544.6 113.4 532.5 148.1 538.3 128.7 545.7 122.2 540 136.6 551.1 96.5 544 123.3 530.2 159.7 535 145.6 530 158.4 551.4 100.5 548.5 117.5 529.6 163 542.9 126.1 551 98.2 538.7 139.6 539.4 128 538.1 133.9 543.2 129.4 535.8 139.9 552.3 95.5 539.5 137.7 550.9 102.8 530.8 169.8 530.9 171.8 538.2 131.5 545.3 124.4 547 106.9 537 136.6 551.9 108.9 544.3 126.4 549.7 102 538.9 132.3 534.9 147.2 544.9 123 536.2 136.2 536.4 138.1 532 150.2 538.4 133.6 538.9 137.8 550.1 114 530.5 156.6 529.2 160.5 543.3 129.5 535.6 147.6 551.5 104.6 550 105.6 539.7 137.5 550.2 109 551.6 102.2 539.9 125.8 531.7 158.8 546.9 119.7 551.7 111.9 539.5 133.7 531.4 174.6 544.2 117.5 532 152 552.9 92.6 549.5 115.1 542.8 120 545.4 114.4 538.2 127.8 531.3 156.5 550.5 98.8 536.7 141 539.4 133.2 549.8 115.8 547 110.2 543.3 121.2 551.1 112.9 551.8 99.1 546.1 116.5 552.5 106.2 545.5 117.6 550.6 110.4 543.7 118.2 531 128.2 537.5 111.4 528.3 137.2 533 127.6 531.9 129.3 529.4 149.6 521.6 145.5 551.9 87.2 526.6 140.9 523.1 152.2 552.2 79.5 522.3 149 525.3 166.2 522.7 143.7 529.7 132.2 535.7 132 552.9 86.9 527.8 151.8 547.9 85.8 551.9 74.3 531.1 174.8 532.9 125.7 527.7 153.6 552.7 92.7 532.3 130.8 522.8 140.3 524.6 166.9 534.7 122.8 538.9 113.3 534.1 136.3 523.7 153.6 535.7 112.3 535 134.8 533.9 130.3 529.2 131.9 526.1 162.1 533.9 137.6 544 106.5 545.3 104 549.7 94.7 549.1 85 526.8 154 545.3 92.2 523.8 151.6 520.9 142.2 532.6 118.4 552.7 87.5 539.9 108.6 528.6 151.5 542 110.1 546.3 97.9 540.4 104.9 551.7 73.9 539.8 116.9 542.9 103.6 547 88.1 523.6 135.4 527.2 139.6 532.3 118.3 533 119.3 548 93.9 524 155.3 539.8 104.9 521.4 151.1 524.3 154.3 527.2 126.6 526.4 141.6 551 86.9 546.9 95.9 522.9 140.5 527.7 126.2 536.6 121.7 541.1 115.5 529.8 152.5 551.7 78.9 535.4 124.4 519.6 154.6 522.7 161.9 527.4 126.5 526.7 166.4 525.5 163.9 540.9 120.8 519.5 157.4 528.9 159.9 548.5 91.8 530.6 142 539.6 119.8 552 80.8 524.6 159.1 530.1 124.7 523.6 155.8 530.8 140.9 526.8 155 522.7 152.5 526.6 138.8 551.6 74.6 542.1 109.4 522 159.9 531.6 147.1 532.6 143.4 521.8 137.3 527.1 155.2 550.5 85.6 538.2 114.4 534.9 135.3 528.4 158.8 531.5 120.8 542.4 100 528.5 150.6 530.4 173.9 542.3 101.8 528.9 131.6 537.7 113.3 541.9 107.2 526.9 147.7 532.8 131.2 527.8 164.8 535.7 126.8 526.3 124.2 533 106.3 548.4 41.8 523.4 109.6 515.4 136.2 545.7 90.1 515.7 125 512.6 137.8 537.4 88.7 549.7 61.4 544.8 89.5 552.2 33.3 530.1 108.1 552.1 70.6 549.6 46.7 528.4 120.8 543.4 77 525.6 100 550.4 45.2 516.8 146.9 520.6 113.9 518 115.6 534 97.9 552.2 25.4 543.1 91.6 537.8 78.5 524 122.6 520.1 118.7 520.5 117.9 542.2 82.6 530 100.3 539.8 73.8 530 95.3 517.9 154.1 516.6 134.7 537.4 97.9 539.3 101.6 513.7 122 543.5 74.4 518.4 132.1 511.6 131.9 523.5 116.9 528.6 109.9 532.1 108.7 532.8 100.8 513.4 148 540.6 92.3 521.1 121.6 544 70.4 516.1 154.9 550.8 31.2 549.3 72.2 518.6 137.6 529 100.2 534.7 88.4 546.9 50.4 537 89 518 124.7 533.2 97.6 520.2 111.8 512.7 126 518.7 129 539.7 100.8 537.6 96.7 543.8 77.6 539.9 96.5 522.2 115.1 532 115.5 527.3 118.2 514.3 134.7 513.8 122.3 543.4 87.6 547.7 77 530.9 114.5 514.1 153.2 543.8 80.4 511.9 132 544.1 84.3 530 118.3 548.7 75.7 534.4 94 538.5 86.4 546.8 84.4 544.1 94.1 516 124.9 537 94.4 529.8 60.7 519.4 108.3 508.2 140.8 524.1 71.3 529.1 67.1 544.6 45.8 535.8 47.2 520.3 106.6 529.3 68.7 521.9 74.9 516.1 86.8 521.8 73.3 530.1 43.8 529.4 174.7 521.1 63.1 521.3 101.9 540 18.8 515.3 80.9 536.7 43.4 542 16.4 544.5 36.6 529.8 43.6 525.1 63.2 528.6 65.3 551.2 21.1 529.7 89.3 512 109.6 513.9 92.6 512.1 109.7 537.5 61 520.3 93.1 538.3 60.6 527.4 74.8 539 27.6 520.7 72.7 534.7 29.6 517.3 105.4 519 97.8 520.4 75.1 518 96 530.2 188.8 528.5 187.5 527.2 186.2 525.2 184.5 523.8 182.8 522.7 181.3 521.8 180.1 520.4 178.4 519.3 176.6 518 175 517 173.2 516 171.2 515.2 169 513.8 166.9 513 164.9 512.1 163 511.7 161 510.7 159 510.2 156.8 509.1 154.7 508.9 152.3 532.9 188.3 531.9 186.3 530.5 184.4 529.3 182.7 528.3 181 527 179.3 525.8 177.5 524.8 175.9 524.3 174.1 523 171.9 522 169.9 521.1 168 520 165.9 518.9 164.1 517.7 161.8 517.5 160 516.4 157.8 515.8 155.7 515.6 153.9 514.9 152.2 535.1 187 533.9 185 532.5 183.8 531 181.7 530.1 180 529 178.3 527.4 175.8 526.1 174 525.1 172.2 524.1 169.7 523.5 167.7 522.7 166.2 521.8 164.2 520.7 161.7 495.8 186.2 485.4 177.6 490.7 182.9 480.7 187.2 487.6 181.6 480.3 183 481.2 183 497.8 189.6 481 189.9 498.4 185.8 489.5 180.8 498.4 186.8 488.2 181.5 498.7 187.2 481 185.8 493.8 190.3 488 184.7 489.4 182.3 482.2 178 486.3 182.7 497.1 190 480 180.1 498.5 186.5 483.4 179.7 479.7 180.4 482.8 176.3 480 181.5 478.1 185.6 477.8 188 486 190.4 478.4 188.4 487.6 180.8 493.8 182.9 495 183.3 491.7 182.5 479.8 181.9 488.2 188.8 480.6 184.4 486 189 485.1 181.4 485.7 177.7 483.7 184.1 487.1 187.7 495.5 190.2 501.8 188.5 482 179.4 491 186.9 487 181 486 178.7 486.9 183.7 482.5 179.4 491.5 190.1 491.5 189.6 485.1 183.1 479.8 180.6 489.3 187 488.9 189.5 480.1 186.9 485.2 182.9 490 180.3 478.6 180.9 498.8 188.5 480.6 187.3 482.2 176.6 480.3 186.4 486.5 187.2 484 179 489.6 186.3 484.7 183.2 482.2 187.7 493.5 185.9 480.2 179.1 497.4 186.7 491 183.3 492 189.8 485.5 189.1 486.5 181.4 491.2 181.1 493.3 186.9 497.1 188.6 486.5 180.9 478.4 180.3 492.1 187.8 489.3 180.5 490.2 190.4 500.7 187.5 493.1 189.3 486.2 181.5 498 189.2 492.7 190 501 190.2 492.8 185.7 487.9 189.7 495.3 183.6 482.8 184.5 486.6 182.9 482.9 179.1 478.5 182.2 486.8 186.7 496.5 185.5 495.3 189.8 482 178.8 482.2 188.2 487.7 178.8 482.2 182.1 480 187.4 480.5 182.4 480.8 181.2 494.7 184.2 497.3 188.9 485.9 184.2 483.3 186.8 498.2 188.2 490 180.4 487.1 187.8 479.9 185.1 498.6 189.4 492.7 184.9 492.8 184.7 480 180.7 489.7 181.6 479.2 179.1 482.8 181.9 493.6 183.5 479.5 181.3 493.6 186.2 494.2 186.6 490.2 183.4 483.5 177 482.9 177.8 482.2 181.8 491.6 183.1 495.3 188.5 484.1 185.8 490.4 189.8 477.9 186 482.7 189.5 502.3 189.5 481.9 178.5 498.9 187.3 478.6 186.5 484 180.8 489.8 187.8 480.2 185.4 497.1 187.9 485.8 184.2 481.8 183.4 491.8 182.9 496.4 189.1 494.7 190 494.2 184.2 473.7 182.8 493.9 179.2 477 189.4 497.8 181 490.2 172.9 472.1 175.9 475.7 168.9 470.7 178.1 474.5 187.9 467.9 169.7 473.4 184.5 476.9 176.2 477 161.8 475.4 172.9 475.3 160.6 474.7 167.4 507.3 188.9 473.7 171.1 473.9 171.4 482.6 175.3 483.2 167.7 474.8 188.7 486.4 173.7 471.8 175.5 470.6 184.3 475 161.2 489.3 175.9 471.9 160 478.7 169.5 476.8 189.6 493.8 176 467.4 179.5 476.7 173 487.1 169 480 177 467.8 172.9 478.5 174.3 505 187.8 470.6 177.2 473.4 173.7 473.1 170.8 475.1 167.2 481 168.3 486.4 177.8 481.5 166.7 481.9 174.5 484 165.4 476.6 182.5 474.1 157.8 493.2 179.8 466.8 166.9 496.5 182.8 474.2 157.7 485.5 173.4 498.1 182.4 473.9 165.2 494.8 179.7 472.7 160.3 469.9 169.9 471.3 187.1 468.2 180.6 487.2 168.7 491.8 179.5 478.9 167.3 472.5 179.1 474.2 190 480.6 162.8 500.2 182.6 474.8 155.8 467.7 163.3 497.7 183.3 501.7 187.4 471.6 179 468 171.6 472 183.4 492 175.9 474.6 179.2 487.9 172.3 467.2 169.4 488.2 178.7 491.7 178.1 470.1 167.3 493 176 468.6 182.6 501.3 185.5 476.8 178.5 485.6 171.8 474 163.3 473.7 177.6 479.1 177.1 473.8 158.8 475.2 179.5 479.3 158.8 474.5 189.4 481.5 175.3 474.8 179 491.4 177.7 477.2 164.5 476 173.2 501.7 186.1 486.8 168.1 475.6 168.2 480.7 164.6 478 175.2 478.5 158.9 473.5 167.9 468.7 164.6 474.6 179.6 467.6 181.6 471.2 178 469.1 184.1 474.9 166.3 471.1 173.3 467.7 185 483.8 169.9 489.8 178.9 473.2 166.7 472.6 171.5 478.7 166.5 484.3 171.9 481.3 161.1 479.8 166.1 487 173.6 496.4 180.7 468.7 163.4 491 175.4 482.1 175 471.7 182.6 487.4 171.8 473.3 163.8 476.2 182.6 489.6 175.9 468 168.8 477.1 186.8 469.4 172.7 469.6 189.7 469.4 189.9 486.5 168.2 494.9 182 471.8 160.5 474.7 165.2 486.5 164.7 464.9 149.3 478.9 142.2 473.9 136.2 487.8 168.6 477.1 135.2 471.6 140 467.2 155.7 463.2 153.4 493 172 464.9 147.7 490.6 170.4 466.1 187.5 470.7 152.5 474 144.6 485.4 163 492.9 174.7 478.4 142.5 481.3 158.3 465.7 181.1 503.5 184.4 483.1 154.7 478.5 153.8 472.7 146.6 465.3 164.7 462.9 173.3 468.2 158.7 470.4 152.6 464.3 168.5 466.9 183.8 496.8 177 465.7 189.9 462.1 161.6 464 164.5 476.2 150.8 505.1 185.8 472.6 144.7 466.5 184.9 462.8 170.2 461.6 128.6 477.2 113.9 467.8 133.1 455.9 134.7 468 130.3 477.8 142.7 466.5 140.5 468.3 136.3 456.2 142.6 459.6 123.1 464.5 141.6 479.1 114.2 472.5 129.1 456.3 132.7 465.7 106.4 469.1 106.3 475.4 113.6 464 25.5 467.9 27 501.4 19 505.3 17.6 528 20.7 508 34.3 520.2 39.6 496 45.2 465.5 49.6 463 54.6 510.2 50 512.3 49 518.1 49.6 523.8 49.4 525.4 52.1 526.9 64.7 529.6 66.2 520.6 72 498.6 82.5 506 85.6 506.6 87.7 464 89.8 471.4 88.1 474.6 90.2 468.3 99.2 521.3 95.5 509.2 10.8 545.8 10.9 550.5 11 534.1 10.7 521.4 10.6 515.5 10.5 551.9 11.1 517.6 11.1 531.6 10.7 542.1 11.1 546.8 10.8 539.4 10.5 512 10.7 551.9 10.5 511.7 10.5 515.7 10.5 539.2 10.7 547.4 10.6 544.3 11.1 506.4 10.7 551.3 10.9 515.5 11.2 530.8 10.9 539.2 10.9 531 10.7 543.1 10.9 524.4 10.7 514.3 10.4 527.9 10.4 536.5 11 549.8 10.7 508.5 10.8 537.3 11.1 516.8 10.7 536.8 10.5 512.8 10.4 551.9 10.8 517.6 10.9 506 11 531.9 10.7 546.7 10.9 512.9 10.9 525.6 11 518.6 11 521.8 11.1 528.6 10.6 530.1 10.5 547.1 10.7 445 10.8 480 10.8 487 10.8 493 10.8 500 10.8" fill="none" stroke="none" marker-start="url(#mg)" marker-mid="url(#mg)" marker-end="url(#mg)"/>
<path d="M573.8 182.3 576.3 178.8 573.7 158.5 569.8 163.2 582.5 179.9 581.5 179.2 577.8 183.2 570.2 168.6 575.6 162.9 570.5 149.1 577.2 156 569.4 172.9 572.8 186.7 575.3 151.3 570.6 158.8 569.7 152 569.9 135.1 584.2 173.8 574 155.9 571.5 165.5 574.2 161.7 575.2 150.7 570.9 168.2 580.1 180.4 584.6 174 570 178.5 572.9 173.9 582.7 170.1 570.2 165.8 580.4 169.5 572.3 135.4 569.5 136.6 573.6 183 574.1 171.2 580 167.3 569.3 184.5 572.7 130.5 577.1 156.9 576.6 182.1 570.1 152.5 571.3 157.2 569.5 153.1 571.9 159.2 575.9 182 573.1 157.5 576.9 154.2 570 185.7 577.4 160.8 576.8 187 572.5 169.6 588.6 184.8 579.9 184.6 585.4 188.3 569.4 164.4 569.1 123.3 572.6 172 572.9 165.9 579.2 168.3 582 184.9 571.3 148.6 580.7 180.3 570.6 163 586.4 178 571.5 153.6 572.2 147.9 569.5 178.2 578 158.4 589.4 185.4 569.9 173.3 584.7 185.8 576.7 157.8 570.8 163.4 571.4 138.4 582.9 170.2 583.4 180.3 573.5 145.2 588.1 183.7 581.2 187.7 575.8 166.5 570.2 166.7 571.2 129.5 571.3 132.8 570.6 164.8 574.4 181.2 580.4 173.6 576.9 165.8 578.2 164.9 582.5 178.1 573.3 172.9 571.2 188.1 569.5 181.2 569.2 157.4 570.6 162.7 575 185.1 573.4 153.6 587.6 188.4 572.9 142.2 569.1 170.5 579 175.1 578.8 183 583.1 187.5 581.7 181.3 573.2 152.6 572.4 174.7 569.4 129 572.1 141.8 582.7 183 573.7 165 572.8 159.7 572.1 127.5 585.8 176.2 570 186.2 587 187.4 569.2 142.7 580.8 175.1 571.4 187.9 575.9 188.8 576.3 151.5 576.7 185.3 570 138.4 570 141.3 586.1 188.1 576.5 185.1 572.5 172.9 573.9 140.2 574.4 143.1 576.4 173.6 582.5 178.6 585.1 188.4 576.1 190.4 588.5 182.4 578.4 187.2 584.2 180.8 569.8 131.4 579.6 180.4 570.6 159.1 573.4 136.4 571.8 173.7 572.3 161.6 570 178 569.9 181.4 582.2 188.7 576.2 186.1 585.2 177.2 575.5 184.6 579 167.3 575 148.8 582.5 189.1 575.9 169.2 577 184.8 589 184.9 573.8 158.2 571.6 139 582.8 179.9 574.1 149.9 582.2 179.9 582 169.4 576.9 180.3 573.8 151.1 572.2 130.2 569.7 140.1 588 183.1 574.6 154.5 582.3 187.2 584.2 184.9 570.7 161.6 569.3 170.2 586.9 189.9 578.1 162.3 584.7 184.1 574.4 147.5 572.8 157.1 582.8 170.4 571.3 175.5 583.4 183.8 569.5 139.3 571.5 162.4 573.7 160.2 573.9 173.9 569.4 170.2 576.7 152.6 583.9 174.1 588.6 185.7 570.2 154.5 573.3 176.3 572.7 147.5 569.9 156.9 571.1 167.6 579.4 162.1 571.7 133.9 582.8 176 583.5 173 572.2 158 576.6 182.5 575.5 180.4 571.5 151.4 581.5 182.5 575.8 178 572.4 179.2 574.3 165.3 571.8 189.8 577.9 158.9 575 167.4 580.2 177 578 168.4 570.9 153.9 569.3 181.8 571.3 160 569.8 140.9 576.3 189.8 580.3 184.9 569.5 139.3 573 161 569.7 177.1 572.8 155.5 574.9 184.2 575.4 166.6 570.4 167.8 580.6 176 583.6 190.3 571 141.7 572.4 146.6 574.1 163 586 187.8 569.6 190 579.3 179.6 571.2 156.3 573 161.1 569.5 146.4 586.9 187.7 577.9 179 574.2 155.9 575.1 156.3 579.6 166.5 573.6 148.9 575.5 167 577.6 174.5 569.1 121.6 569 160.6 582.7 182.8 572.2 175.1 585.9 181.3 577.8 158 570.9 189.3 578.8 160.9 577.6 173.3 584.9 174.4 569.6 167.2 578.4 159 571.6 172.9 570.4 127.4 571.2 162.2 579.4 161.6 577.4 165.8 569.6 145.3 585.2 183.4 587 187.6 571.7 154.2 574 184.2 569.2 120.4 573.9 138.2 572.1 177.9 576.4 182.3 570.6 171.7 570.8 129.9 577.4 169.4 577.3 154.8 569.1 153.9 576.4 157.7 583.5 171.4 579.7 184.6 569 126.7 570.5 155.7 574.3 140.6 579.1 183.7 587.8 187.6 570.4 126.8 573.5 144.5 572.6 166.3 577.6 167 572.6 138.4 571.9 141.2 572 176.3 573.9 173 569.4 136.3 578.2 175.4 581.2 177.4 570.9 152.5 569.6 128.2 579.4 166.6 570.3 127.8 569.3 161.1 579.3 170.9 571 164.4 572.1 162.2 576.9 160.5 587.9 189.1 571.7 170.1 572.2 133.3 575.5 188.5 569.6 184.4 574.6 155.7 581.9 188.8 583.7 184.5 570.3 125.8 571.3 181.8 571.7 133.3 584.6 181.3 570.2 157.3 575.7 159.1 570.1 137.8 572.4 163.2 587.3 186.8 578.9 177.1 569.1 182.7 579 185.7 577.1 158.8 571.2 139.6 570.9 156.9 588.4 184.4 571.8 165.6 575.7 170.8 573.3 145.1 576.4 181 580.6 177.4 576.5 186 570.8 140.4 577.4 180.4 582.8 183.3 569.4 189.7 573.9 167.4 574.2 189.4 571.5 182.1 578.2 181.7 570 169.8 571.8 145.4 572.7 171.5 569.9 176.4 569.5 187.4 577.2 168.5 573.1 142.8 573.5 167.9 577.9 160.1 571.8 182.2 580.3 185.4 583.9 188.4 580 180.9 572.5 187.7 586.2 178.3 570.6 186.1 572.4 173.7 573.3 159.4 569.9 129.1 584.7 182.7 573 136.7 569.2 178 585.3 175.5 569.9 147.7 577.8 164.6 569.9 167.7 577.8 168.2 573.9 147.4 586.8 183.9 575.7 164.9 580.9 172.3 571.6 141.6 572.9 183.2 571 156 581.9 184.3 570.8 151.1 573.4 134.1 573.8 166.6 584.9 183.5 569.2 159.6 571 122.8 580 184.7 575.3 187.1 582.3 180.5 573.6 179.6 570.7 123.2 585.2 180.7 584.1 188.5 569.4 189.3 571.6 173.7 580.7 174 583.7 180.2 576.9 185 572.8 179.7 588 189.1 587.9 182 576.8 159.8 573.1 189.1 587.1 189.2 580.9 179.5 569.9 141 573.1 183.8 576.2 162 570.8 162.4 574.4 144.6 580.8 170 577.9 167 572.8 187.7 578.4 177.7 576.1 176 577.9 161.7 581 181 577.1 172.7 582.9 187.1 573.3 162.8 575.9 190.1 582.7 181.1 572.8 146.8 572.3 158.3 570.8 148.5 569.5 128 574.7 178.2 569.3 130.2 576 179.6 570.7 165.7 574.4 180.9 570 128.9 584.7 181.8 569.4 123.8 575.4 184.5 574.5 145.4 575.4 182.1 571.7 134.6 575.3 188.3 576.5 173.1 577.5 179 573.7 184.8 570.1 143.5 569.3 177.5 576.4 182.8 578.9 168.4 573 146.4 573.7 143 572.5 166 571.1 150.2 573 152.8 577.7 184.2 579.5 171.9 570.3 175 571.2 130 576 152.7 580.8 185.6 570.5 176.2 570.7 173.6 582.4 178.4 583.4 177.4 573 176.6 575 187.1 574.8 172.8 573.6 143 588.1 186 584.4 177.9 572.7 189 580.2 176.5 579.4 163.4 579.5 168.2 571.1 164.5 581.2 171.5 576.6 154.7 569.3 126.9 583.1 175.2 582.4 187.2 569.7 184.2 575.1 183.6 581.5 173.7 575.9 165.3 569.1 179.3 573.3 148 571.8 150.8 581.8 181.8 581.6 177.3 573.1 171.6 575.7 173.1 569.7 125.7 588.6 188.7 582.8 181.8 585.4 188 573.2 176 581.8 167.7 579.9 184.4 569.6 182.3 571.6 173.3 584.5 180.5 578.3 171.5 572.8 132.8 578.2 188 579.5 172.5 577.4 154 573.6 152 569.4 119.1 571.9 164.2 582.9 175.4 570.1 126.5 574.2 166.7 573.9 150.9 571 130.1 569.2 123.9 584.8 178.5 573.9 150.8 570.8 166.4 569.2 133.6 580.4 174.2 579.6 165.4 577.7 185.7 571.8 154.9 572.1 145.2 577.6 169.2 569.2 176.2 569.3 175.8 573.9 190.1 573.7 162.4 582.7 170.9 572.9 148.1 569.7 156.9 570.7 145.4 581.5 184.9 578.2 173.6 577.1 169.5 579.6 182.7 576.8 165.8 578.8 167.4 570.3 147.2 589.6 185.9 576.8 165 588.9 188.9 569.3 185 570 153.3 578.2 160.4 571 124.8 576.2 178.9 570 190.5 573.9 137.7 572.8 150 571.3 128.2 570.4 131.1 570.6 187.1 585.5 187.3 573.3 155.5 571.7 170.1 570.3 134 585.6 180.1 569.4 149.8 573.3 182.2 573.1 133.5 576.5 189.4 569.6 158.2 575.8 175.4 576.8 155.9 571.9 147 576.6 153.2 572.8 138.6 569.3 147.9 570.6 171.1 576.1 179.1 588.9 183.6 580.2 169.2 576.4 176.1 573 136.1 572.3 178.8 569.2 131.1 573.5 151.2 587.6 183.3 583.2 185.7 579.7 185.6 571 169.4 569.8 128.4 581.7 180.1 581.5 182.6 571 180.3 574.3 180 579.8 186.2 585.4 176.3 569.6 139.3 574.6 179.2 573.5 178.5 571.7 131.2 583.6 174.9 579.8 187.2 576.2 149.5 576.9 154 577.4 176.9 582.2 171.1 570.9 187.4 586.3 187.3 570.9 152.9 571.3 138.7 577.6 180.4 576.8 163.9 572.7 182 576.5 190.1 587.1 186 582.2 174.2 586.7 179.5 572.7 170.7 579.4 161.6 576.6 162 575.2 154.7 577.9 163.3 569.1 153.5 578.6 172 588.2 190.3 571.5 188 586.5 185.1 578.2 157.2 569.4 175.2 569.2 124.5 572.7 148.3 574.3 181.9 583.2 186.1 580 169.4 576 161.6 572.8 158.5 587.1 187.7 569.7 178.1 575.3 163.9 573 158.6 573.6 187.7 570 170.2 579.2 183.6 581.3 181.4 569.4 165.4 588 181.1 576.8 172.2 571.6 160.9 570.8 134.4 574.3 170 581 165.6 577.4 159.8 575.5 173.9 580.9 187.5 574.8 180.8 573.8 182.5 572.1 175.5 583.3 182.8 569.3 134.7 574 176.1 583.8 187.1 578.4 167.9 575.2 150.7 569.6 164.5 572.5 134.5 576.2 184.9 575.7 161.6 570.2 156.1 571.3 129.3 573 169.3 580.9 168 578.2 168.4 574.7 141.9 572.2 134.2 571.7 135.8 569 133.6 582.7 170.8 586.9 180.4 573.8 164.8 570 140.2 579.4 186.2 569.2 174.5 572.1 130.5 570.1 146.3 572.8 148.6 576.2 154.4 577.9 189.6 579.2 165.3 573.5 161.2 570.6 156.2 571.3 127.6 578.3 168.6 571.7 133.9 570.6 162.3 577.5 178 571.2 137.5 572.6 186.4 573.2 167.7 574.8 167.3 570.6 164.9 579.3 168.7 569.7 142 570.9 149 576.1 178.4 577.5 164.3 577.1 166.8 577.9 189.7 569.2 174.5 583.1 184.3 569.6 150.7 585.7 184.1 578.8 170.6 570.8 140.7 569.6 159 576 172.6 570.8 159.3 575.8 183.2 572.4 168.9 573 138.9 569.5 131.2 569.5 187.9 578.3 173.6 582 189.5 577.1 168.9 578.6 173.6 573.8 138.4 570.5 145.7 573.2 150.6 570.2 162.4 571.8 152.1 569.3 131.1 572.7 142.4 573 146.5 577.2 172 574.6 170.7 575.1 189.2 581.4 184.7 575.1 169.6 570.8 127.9 577.8 179 578.2 186 580.3 182.1 580 186.8 582.5 179.7 577.5 187 570.5 172.4 577.9 162.1 577.8 164.4 574.2 179.3 580.8 186.3 576.6 155.8 574.6 168.7 585.3 185.4 585.2 184 582.8 182.4 584.6 190.4 571.3 135.7 571.4 150.6 572.6 170.8 574.5 159 570.4 151.4 579.7 178.8 576.5 161.9 576.8 187.1 573.9 147 575.4 176.4 587.4 183 569.3 176 571.5 183.6 583.8 187.1 579.2 173.5 579.2 171.4 575.2 148.6 577.1 166.8 571.4 154.4 580.2 190.1 574.1 170.2 570 157.1 577.9 156.8 579.4 161.2 580 166.4 570.1 154.9 575.8 184.9 573.5 164.7 576.4 178.5 576.2 149.8 582.1 173.2 572.5 151 574.5 184.8 573.4 180.7 574.8 162 571 133.8 570.8 147.8 571.8 142.4 581.3 185.2 574.8 150.6 570 169.6 573.4 160 574.9 183.6 573.8 168.3 574.9 162.2 573.3 149.9 585 182.8 578.5 173.8 571.8 151.8 584 172.4 569.7 120.2 584.8 189.5 584.6 183.3 585 185.5 577.2 169.9 581.4 182.3 580.2 174.2 569.8 125.8 578.1 157.1 585.8 182.6 571.1 135.1 576.7 183.5 583.9 179 574.1 170.3 575.9 166.3 570.4 180.5 571.9 128.3 588.3 184.2 580.4 181.2 573.3 157.6 571 143.3 586.2 182.1 569.8 185.6 571.9 135.1 570.8 124.2 573.3 150.5 578.7 168.1 583.9 182.6 582.6 184.2 581.1 167.6 570.3 135.2 587.4 184.2 577.7 176.9 579.4 169.2 569.7 158.1 571.5 158.6 574.9 173.8 576 174.4 582.9 171.8 569.1 143.1 573 179.5 573.3 172.7 574 157.6 580.3 183.3 571.8 155.2 571.7 171.7 585.2 179.1 584.3 186.2 579.3 188.1 585.4 189 583.6 174.6 575.9 186.9 586.2 177.2 584.7 189.1 583.5 178.4 577.5 183.3 577.2 171.4 579.8 163.4 570.3 162.6 577.2 155.5 573.9 159.9 574.2 180.6 572.2 168.6 574.2 168.7 576.7 182.9 572 176 577.3 157.7 571.2 131.5 575.1 181.1 578.2 163 579.2 178.4 574.3 184.7 580.9 178.7 575.7 155.9 571.3 182.1 569 159.8 577.2 175.2 571.1 168.1 575.2 177.4 569.9 148.3 569.5 139.1 574.9 186.6 569.5 125.8 575.2 156.3 569.3 147.5 585.1 182.4 571.8 133.4 582.7 179.5 583.4 171.9 574.3 187.1 578.9 162.9 587 189.1 569.1 156.3 586.7 187.5 574.7 164.2 575.3 165.6 575.2 150.3 574 142.1 570.4 158.4 579.6 177.8 584.6 190.4 580.2 187.9 573 145.2 580.4 177.9 574.7 173.6 576.6 169.6 582.4 184.1 578.2 172.5 571.6 185.7 569.5 119.7 586.1 180.3 571.5 173.1 570.5 168.8 576.8 183.2 570.1 164.5 572.8 151.9 571.2 162.2 582.3 182 577.3 159.4 572.8 187.4 584.2 177.3 573.7 176.6 575.6 165.6 580.2 188.2 570.3 161.6 583.6 184.4 575.8 184.1 575.4 190.5 575 153.2 587.7 185.2 580.1 169.5 574.3 170.5 571.9 138.3 579.6 182.3 579.2 181.9 576.8 160.7 573.4 183.4 577.2 169.5 571.9 174.9 575.7 169.8 576.4 173.9 570.5 189.7 571.3 133.4 576.3 185.6 583.2 189.9 583.4 173.3 586.2 176.9 578.6 190.4 575.5 176.7 573.3 190.3 583.4 188.5 579.7 183.7 590 189.7 579.2 190 578.5 185 571.1 156.1 571.4 172.6 571.5 169.6 574.1 147.9 575.5 153.2 569.8 148.9 570.8 135 574.3 158.3 578.6 183.4 571.2 130.9 581.4 189.8 582.3 177.9 573.3 146.2 571.3 161 579.1 174.8 577.6 187.7 585.8 182.5 573.8 157.1 585.9 183.8 574.3 175.5 570.5 131.7 569.2 134.9 569.6 183.3 583.5 185 571.7 188.4 574.4 166.1 575.8 175.7 572.9 157.5 577.1 183.5 577.6 176 576.3 162 571.9 136.2 572.5 128.3 571.4 153.6 579.6 181.7 571.7 135.6 572.3 172.1 587.2 181.8 570 183.2 581.5 170 573.5 173.5 571.1 169.4 572.1 172.5 583.7 177.1 573 162.3 585.8 187.5 585.6 178.6 573.4 137.8 577.2 156.6 575.6 154.3 569.5 173.4 570.2 148.7 585.4 182.9 569.2 171.6 576.3 162.1 588.2 190.1 572.7 184.6 574.2 170.5 570.8 184.1 587.5 180 571.2 134.3 576.3 185.2 588.1 180.9 574.4 183.9 586.2 186.9 570.7 150.9 569.1 149.9 572.7 138.2 577.7 188.8 584.5 180 577.3 162.6 585.4 178.5 572.5 144.5 571.9 131.2 588.8 184.6 569.8 131.4 580.9 178.9 569.6 183.2 574.2 159 573.4 155.6 573.9 183.2 577.3 184.9 572.6 127.2 577.5 131.7 575.9 138.3 572.2 111.2 573.7 122.9 582.9 165.8 569.1 106 574.1 126.6 581.5 163 573.7 129.4 581.8 151.2 583.7 160.9 570.2 110.5 582.1 166.6 579.4 139.6 577.5 134 576.9 131.3 584 171.8 583.9 159.2 571.4 107.6 578.8 154.4 574 134.1 585.2 165.9 581.2 154.5 577 141.8 585.5 172.8 589.9 179.6 570.9 120.4 572.3 119.6 578.1 147.6 572.1 115.7 576 130.3 579.6 145.2 586.1 174.5 577.5 136.3 570.2 107.7 571.2 117.2 573.2 122.1 583.8 158.4 581.8 157.2 572.5 109.2 570.3 104.9 581 156.9 587 175.4 575.8 127.4 585.4 171.2 571.6 119.6 586.5 175 589.2 179.9 578.2 141.9 585.2 174 583.6 170 571.2 106.6 582.7 169.1 576.7 146.1 574.5 123 571.1 122.2 571 106.5 590.5 185.9 584 169.4 571 122.4 580.5 154.5 585.4 161.6 582.6 167.6 589.5 185.2 586 168.5 572.3 119.7 585.4 172 579.2 142 570 118.2 587.8 169.4 572.1 124.8 578.9 152.4 578.2 151.7 571.1 118.8 572.5 117.8 580.6 162.2 574 137.4 586.2 168.4 589.5 184.7 571.8 117.4 576.3 143 577 134.8 572.5 123.2 569.1 111.3 578.5 156.5 585.4 162.7 577.9 135.4 589.4 181.6 571 109.5 571 107.3 572.4 109.3 569.1 115.8 575.5 145.3 573.7 116.5 575.4 132.9 569.2 103.1 573.4 129.7 573.1 130.8 582.3 152.4 578 153.1 578.4 148 574.4 120.6 579.1 139.9 571.7 116 574 133.9 589.8 181.5 589.5 183.9 576.5 140.1 582.8 164.8 576 130.9 572.4 113.8 574.4 127.5 569.2 105.7 584.6 158.4 570.6 110.7 580.8 148.3 570.7 121.8 584.9 166.7 584.3 165.5 570.2 110.1 582.5 168.2 573.3 122.6 576.3 128.6 576.9 144.2 572.7 117.8 588.1 178.9 579 139.3 575.9 127.9 576.4 142 590.7 187.8 582.8 162.8 569.9 115 590.2 183.2 577.3 143.9 572.3 108.1 580.7 161.3 588.2 171 574.7 126.3 581.6 160.3 572 114.8 581.3 160.8 575.5 135 578.8 144.9 579.8 145.1 569.8 114.5 572.4 117.6 570.7 115.5 588.6 179 588.9 174.9 589.2 179.8 580.4 160.7 574 132.1 579.5 144.5 580.3 157.3 573.3 124.5 580.4 145.5 586.1 176.2 572.4 118.5 576.8 144.8 586.5 171.4 582.3 112.8 573.3 77.6 573.6 112.3 571.1 90.4 581.1 140.4 571.1 89.1 587.9 147.9 586.9 155.1 588.5 163.3 583.1 120.7 581.2 116.7 585.1 151.8 587 139.5 580.4 131 588.7 173 581.2 116.6 586.5 153.2 574.9 86.6 581.4 136.5 569.1 53.1 573.1 97.3 586.5 142.4 569.1 48 580.3 109.4 573.8 85.1 570.2 67.5 571.2 93.7 584.1 118.6 576.1 125.2 582 137.3 572.7 91.9 591.1 163.2 590.3 165.8 569.1 59.7 583.9 133.7 576.4 98.9 570.9 97.9 579.8 111.8 578.6 105.8 571.4 73.1 572.2 88.3 583.8 125.6 591.6 163.2 582.1 119.5 591.1 151.2 587.5 149.5 590.1 168.2 577 122.6 586.3 127.8 570.8 68.4 587.7 165 577.6 94 570.6 84.7 579.7 139.1 569.7 98.8 570.6 102.2 577.7 104.6 578.3 127.6 590.7 150.8 579.9 116.2 586 148.5 578.8 110.2 587.6 149.5 578.7 121.9 588.6 162.4 589.2 139.1 587.1 160.9 573.4 85.9 569.3 65.8 588.3 135.1 571.4 77.5 583.7 125.7 570.5 98.6 579 127.3 572.6 103.7 575.9 123.3 574.2 105.9 585.8 125.3 590.4 162.8 578.4 130.7 576.9 118.8 586.6 157.3 571.2 69.5 585.6 150.4 573 77.4 569.2 70.7 585.6 126.3 572.1 96.2 580.7 140.6 570.5 81.4 582.3 143.8 574.3 106.4 571.3 66.4 580.2 124.7 575.1 89.6 582.4 129.1 581.1 122.9 569.1 83.4 581.1 139.3 575.7 114.3 569.4 72.3 581.8 118.7 582.6 120.8 578.3 96.8 570 58.8 581.4 117.6 591.5 149 578.2 97.5 579.3 106.2 576.2 107.7 569.3 91.2 581.5 145.9 581.1 113.3 572.3 85 574.1 106.9 577 113.6 574.4 114.4 587.4 141.9 572.4 72.2 580 129.1 571 77.1 575.4 106.2 575 101.6 575.8 95.2 585.1 141.3 577.5 104.7 581.3 140.5 576.5 110.1 575.1 98.3 571.7 101.3 575 101.1 575 88.1 582.9 129.9 579.7 105 570.5 77 582.1 117.1 572 78.8 576.7 120 587.1 147.3 589.2 154.6 580.9 123.8 590 147 581.1 120.9 579.3 116.6 577.4 117.5 574.9 108.6 583 115.2 570.7 99.1 589.4 144.4 571.5 77.8 590.7 147.9 572.6 97.8 589.9 152.3 578 118 589.3 159.1 569.5 61.5 586.9 154.8 576.8 102.9 571.4 78.4 588.5 164.8 569.1 96 574.5 94.8 576.4 101.1 577.5 117.6 580.7 123.2 587.9 159 581.4 113.9 588.2 159.6 589.1 172.6 591.1 149.3 571.3 88.5 585.6 137.1 573.9 97.6 571.6 69.3 576.3 103.7 581.6 121.8 575.7 116 579 102 587.9 147.8 577.6 124.2 569.9 55.5 578.3 45.8 583.5 99.1 592.1 134.7 586.3 115.8 572 32.4 573.8 45.6 582 105.2 593.8 88.8 581.6 45.4 595.7 117.1 570.8 36.5 586.5 104.9 595.2 131.9 592.7 115.9 578.1 38.4 578.3 51.7 571.5 16.1 584.6 93.8 586.1 76.2 593.7 134 570.1 33.3 577.4 50.7 583.7 98.2 589.1 91.8 575.8 60.3 580.4 39.9 574.9 62 593 133.4 593.9 126.2 581.9 89.6 589.2 119.7 587.7 129 587.2 92.1 571.8 34.3 593.2 93.2 584 58.5 587.6 109 596.3 165.9 592 88.7 594.8 118.2 593.2 178.2 587.7 72.3 589 88.4 578.6 50.4 572.6 36.3 579.9 91 582.2 94.7 594.8 132.1 595.6 97.6 590.1 126.2 572.5 39.7 585 71.3 580.4 92.5 573.2 25.7 589.3 84.7 601 135.6 587.9 105.5 572.4 16.6 597.7 110.6 591.9 147.6 599.3 154 588.1 95.7 573.6 71.7 576.4 41.5 596.5 119 575.5 51.3 581.4 45.6 584.8 72.7 571 57.8 585.8 59.7 587.3 116.3 601.6 137.4 575.9 80.5 594.1 158.3 580.8 87.6 576 62.4 593.7 152.2 571.4 19.2 596.6 145.8 598.6 108.3 592.2 157.8 591.6 134.2 596.9 164.9 594 110.5 590.3 92.3 578.3 25 585.5 73.4 597.4 119.9 595.9 105.6 571.1 52.1 590.1 78.3 575.2 36.3 589.7 122.5 573.4 27.3 590 88.1 571.1 65.3 600.1 159.1 585.4 69.1 569.5 38 602.2 125.9 580.4 82.6 594.2 171.8 590.1 106.3 591.5 97.9 594.7 160.1 583.1 61.8 583.3 94.8 596.3 143.9 591.6 146.3 593 124.9 599 117 585.7 74.8 596.3 140.6 580.3 53.6 584.4 107.1 592.7 92.6 588.4 115.8 597.6 150.3 593.8 179.4 588.4 92.2 579.4 41.1 583.9 82.4 591.5 108.8 593.3 175.9 577.9 50.4 584.1 61.5 582.9 84.2 595 90.5 572.7 54.5 590.9 94.4 583.1 43.4 585.2 104.8 579.8 77.1 582.7 97.4 579.4 79.9 581.1 43.8 573.7 43.3 593.9 163.3 575 45.7 595.2 97.2 581.7 40.9 589.9 98.5 591.4 109.1 574.1 59.6 582.6 40.7 575.6 67.9 576.1 64.9 584 101.8 573.5 45.5 576.5 79.7 572.6 21.8 594.9 98.6 592.4 91.3 578.2 69.4 600.9 152.2 584.9 68.3 572.4 18.3 573.3 17.2 575.9 72.5 583.6 83.2 591.2 189.8 599.6 116.5 570.8 53.4 574.8 47.4 591.9 88.9 593.7 107 599.7 113.3 583.5 83.6 585.3 122 576.5 62.9 578 85.2 575.1 70 582.1 91.7 595.8 170.3 570.3 53.5 577.8 47.1 600.5 150.7 571.4 19.7 585.9 115.2 583.5 103.5 582.7 60.1 572.1 26.8 588.9 73.7 593.8 97.4 597.9 111.4 571.1 27.7 592.9 181.4 598.5 160.6 576.5 24.6 575.4 59.7 579.4 41.3 595.6 136.6 574.9 29.9 598.7 132 575.7 62.6 576.8 84.7 577.9 85.1 600.9 152.3 589.4 91.5 600.8 143.1 592.1 147.4 592.8 116.1 576.1 38.3 579.6 43.2 599.9 145.6 573 55.4 587 60.7 596.2 102.7 576 71.9 595.3 167.4 586.9 124.8 578.6 92.7 600.5 114.6 576.5 51.1 572.8 36.5 571.6 21.9 586.7 104.5 598.9 161.7 570.9 42.6 578.5 90.1 584.1 77.3 577.2 41.4 586.4 72.7 592.3 99.6 593.1 136.1 584.4 105.8 582.2 46 591.6 145.3 569.6 35.4 574.7 51.4 574.3 58.5 593.7 149.9 586.9 116.2 576 72.3 596.8 96.1 579.1 74.5 599.9 152 573.8 53.3 600.3 155 590.8 132.2 589.3 74.6 597.7 160 601.4 146.2 578.1 56.2 599.9 125.8 582.6 70.3 572.1 55.9 598.7 139.6 573.2 72.1 597.5 144.4 570.2 39.2 586.9 125.7 584.6 117.7 574.8 27.1 579.7 45.5 591.3 175.2 597 166.2 578.4 37.4 577 60.6 578.5 43.1 587.7 130.5 598 109.7 580.5 45.5 580.5 41.7 600.3 113 599 143.3 581.5 51.7 569.6 39 582.7 99.4 593.7 96 584.6 96.3 578.6 41 597.9 160.4 597.2 163.9 595.6 133.7 573.5 64.8 574.8 48.9 573.5 47.4 590.7 133.1 580.4 73 591.1 172.5 599.5 146.9 586.6 109.4 597.7 159.7 593.8 132.5 580.8 65 584.1 96 591.2 181 571.4 20.8 585.7 100.5 598.5 112.8 585.7 66 578.3 67 579.5 86.9 596.9 123.3 600.6 142.5 575.5 67.8 594.7 166.4 590.9 17.5 580.9 20.8 602 81.4 615.7 113.8 591.9 69.4 610.2 140.5 609 102.9 579.2 15.8 598.3 39.6 605.5 92.6 609.1 74.5 591.8 20.4 595 20.9 612.3 88.8 589.9 27.8 586.1 52.9 604 38.6 586.4 53.4 594.2 75.2 609.4 154.1 608.5 105.3 610.2 107.8 606.9 98.7 612.7 71.2 614.6 79.6 595.4 22.7 582.2 34.6 610.2 71.6 597.8 65.2 608.3 118.6 595.7 66.4 610.1 98.8 605.3 36 588.3 32.1 597.9 77.2 602.7 61.5 594.2 22.6 608.2 52.8 608 97.2 605.8 54.1 584.5 31.2 609.4 156.5 609 139.3 597.4 177.5 597.9 75.6 604.7 80.8 607 48.1 600.6 81 609.4 139.7 595.7 24.1 596.5 37.6 605.2 58.7 615 91.4 619.5 100 596.6 83.8 586.3 27.6 607.3 99.7 616.8 102.9 596 25 605.2 84.3 602.4 47.3 604.5 91 587.6 50.2 615.8 78.1 608 87.1 613 129.4 609.4 58.3 609.9 151.6 594.3 18.4 610 49.2 605.5 36.3 604.8 39.4 605.3 66.7 601.2 109.1 594.4 26.2 590.7 51.7 599.6 88.1 587.6 40.8 594.4 180 600.9 57.8 595 67.4 587.4 27.2 610.9 64.3 600.5 107.3 613.9 80.7 589.9 45 577.7 15.1 616.2 82.8 601.5 69.2 616.1 115.4 595.7 180.5 593.5 36.3 602.7 98.1 611.5 128.9 612.9 141.4 602 88.5 600.7 101.3 612.1 62.4 589.5 57.2 609.7 146.7 610 125.9 618.1 91.4 603.7 44.6 607.1 123.6 603.7 53.5 605.6 145.2 585.4 39.4 611.2 127 602 107.2 590.4 26.6 599.2 101 615.9 119.9 602.2 172.4 607.5 87.4 587.9 49.5 596.8 44.1 592.5 28.7 602.7 65.3 582.9 30.8 605.6 144.3 598.3 68.9 582.5 24.7 602.5 55.3 589.6 69.3 595.8 70 612.3 146.6 598.4 60 598.3 75.8 598.7 174.4 601.4 61.6 603.8 114.3 601.2 92.9 608.9 112.1 590.9 37.5 616.8 76.7 618 158.7 630.7 46 610.1 41.9 605.5 30.4 620.8 99.3 615 35.3 595.1 188.4 624 23.4 631.1 47 608.4 175.1 637.3 68.1 630.3 71.2 619.3 39.2 615 160 615.6 137.2 601.9 16.4 627.8 125.5 628.3 126.3 631.5 55.3 628.9 28.4 615.8 152.9 611.9 173.4 623.1 75.1 617.5 15.4 595.5 187.8 596.9 186.1 598.1 184.2 599.2 182.6 600.3 180.4 601.2 178.4 602.7 176.9 603.8 175.3 604.2 172.6 604.9 170.9 605.8 168.5 606.1 166.2 607.1 164.1 607.2 162 607.9 160 608.5 158 609 155.7 610.1 153.6 610.3 151.5 610.9 149.1 611.6 147.1 612.6 144.9 612.7 142.6 613.2 140.6 613.8 138.5 613.7 136.6 614.2 134.6 614.4 132.4 615.3 129.9 615.7 127.8 616 125.8 616.6 123.3 617 121.6 617.2 119.4 617.8 117.1 617.9 115.2 618.4 112.9 618.8 110.5 619 108.8 619.1 106.1 619.6 104.3 619.6 102.1 593.2 187.9 594 186.3 595.4 184 596.6 182.1 597.9 179.8 598.7 177.9 600 175.9 600.9 173.6 601.7 171.7 602.3 169.1 603.5 167.2 603.9 165 604.6 162.8 605.1 160.6 605.5 158.8 606.2 156.4 606.9 154 607.4 151.9 607.9 149.8 608.4 147.7 608.9 145.8 609.6 143.7 609.7 141.3 610.2 139.2 610.7 137.4 611 135 611.6 132.9 611.3 130.9 611.6 128.6 612 126.7 612.3 124.2 612.5 122 589.9 188.2 591.1 185.9 592.1 184.2 592.7 182.6 594.1 180.9 595.1 179.1 596.1 177.1 596.7 175.1 597.7 173.1 598.2 170.8 599.4 169.3 600.2 166.9 600.4 165.1 601.1 162.7 601.9 161.2 602.8 159.3 603.1 157 604.1 154.9 604.7 153.1 605.1 150.4 605.3 148.4 605.9 146.6 606.5 144 607.3 141.8 607.1 140 607.4 138.2 608 135.7 608.6 134.1 609 132.2 593.8 169.9 594.9 168.3 595.5 165.8 596.4 163.7 597.1 162.3 597.8 160.2 598.5 158.2 599 156 599.3 153.8 599.9 152.2 600.6 150.1 600.8 148 601 145.7 601.8 143.5 601.7 141.6 602.4 139.5 602.5 137.3 639.4 186.6 630.5 187.2 625.5 189 644.1 187.8 623.8 185.4 637.9 186.1 638.3 181.2 633.4 186 620.5 188 640.7 189 636.3 181.2 643.3 182.7 636.8 186.9 639.5 179.7 623.7 190 641 189.9 633.6 181.2 636.2 180.3 636.7 180.6 644.4 185.4 639.9 180.2 633 187.7 641.5 183 630.2 190.2 621.9 187.8 641.5 188 641.6 187.6 633.5 179.1 631.1 184 622.6 184.5 636.7 177.4 618.9 188.9 640.1 185.5 636 190.4 638.6 180.1 634.6 187.9 632.7 185.5 628.2 190.5 631.2 179.6 645.5 180.6 638.1 185.1 632.1 190.5 628.3 181.7 637.7 183.8 635.7 180.7 640.8 186.4 616.5 190.3 632.4 181.2 625.8 187.9 628.2 189.5 635.3 183.5 642.7 188.5 643.1 184.9 636.4 185.3 633 185.6 639.2 182.7 641.9 178.9 640.1 184.1 616.7 190.1 642.5 179.2 644 190.5 623.5 184.2 624.8 185.3 630.7 185.3 625.9 186.7 628.1 183.9 628.9 187.4 627.2 182.9 629.5 181.8 644 186.7 644.4 182.9 634.4 186.5 627.4 187.6 629.2 181.4 642.4 182.9 627.1 183.3 631.1 186.7 641.6 185.2 632.2 186.4 636.9 184.9 640.1 181.2 640.4 189.8 626.5 183.1 641.9 178.6 637.7 178.3 640 182.5 616.7 189.5 620.5 190.3 642.4 189.8 635 187.6 636.2 187.8 632.7 182.9 636.8 189.1 623.1 184.2 643.1 181.4 639.6 181.7 631.9 182.6 633.2 189.8 632.8 188.5 623.1 187.8 629.1 188.9 628.8 190 637.8 178.3 640.9 182 638.8 190.1 636.7 178.4 634.8 179.3 634.4 179.5 632 190.4 626.8 186.7 626.6 183 622.3 187.9 639.2 187.4 643.6 184.3 627.7 188.7 636.2 189.6 627.2 186.2 640.3 178.8 622.8 187.4 632.1 188.3 621.1 186.9 640.4 181.1 633 187.3 643.1 188.5 633.3 188.3 623.9 190.4 642.1 180.4 640.9 188.2 642.3 187.4 634.3 190.5 632.4 187.4 641.7 189.8 641.7 188.3 630 184.4 629.1 187.6 635.7 183.5 628.1 182.3 636.1 189.6 632.6 182.8 639.5 188.7 636.6 181.3 636.9 177.5 615.8 190.1 622.6 186.3 623.1 188.2 630.5 186.2 625.3 186.2 629.2 183.1 628.6 187.8 637.4 179.2 632.1 189.8 631.6 185.2 636.6 177.8 644.8 188.6 628.1 182.4 621.7 189.8 636 189.1 635.6 185.3 644.2 180.1 640.2 188.3 637 186.6 628.6 183 633.1 186.8 640.2 190 630.7 183.5 619.2 187.7 642.7 189.7 625.3 187.5 640.3 185.8 626.6 187.8 627.9 185.3 643.8 188.4 624.6 183.9 628.8 185.9 627.8 187.5 624.4 184.4 630.3 182.3 635.5 183.4 624.7 190.3 641 187.7 637.9 184.5 641.2 184.9 641.8 185.5 641.9 188.3 626.8 182.2 620 188.3 631.6 180.7 641.2 183.3 639.9 188.1 630.7 185.8 629.4 189.8 633.8 186.2 642 186.7 630.1 182.6 642.1 181 638.6 180 634.2 183.7 619.4 187.4 642.8 186.7 636.3 181.3 629.3 181.5 621.4 187.6 638.8 182.3 627.1 184.7 624.6 186.4 645.2 185.1 628.4 189.1 644.5 189.9 643.1 183 622.4 190.2 630.4 190.1 632.6 182.4 628.2 186.2 627.9 186.3 631 181.9 630.3 180.7 628.4 185.1 625.7 178.1 645.7 175.1 644.1 162.3 644.8 166 610.4 188.6 622 180.5 648.6 176.1 643.1 166.7 648.8 163.6 647.4 170.3 648.7 186.9 618.7 181.1 629.7 173.3 647.3 175.2 646.8 177 631.3 172.6 624.3 177.9 640.1 172.3 630.7 178.4 647.4 186 646.8 179.5 648.5 177.6 621.8 182.2 650.1 180.8 637.9 171.3 645.8 185.9 629.1 170.9 609.5 190.3 629.2 180.3 639.1 174.2 627.2 179.7 626.1 175.3 647.5 181 647.5 185.5 646.9 170.2 626.6 176.9 651.7 173.6 622.3 177.8 614.9 185.8 622.7 184.2 639.4 163.4 620.8 182.7 643.8 177.8 648.6 170.8 642.1 175.4 648.5 181.2 623.3 177 650.1 166.5 627.1 177.9 633.8 166.3 642.7 170 635.4 173.9 638.9 173 621.2 183.2 649.7 180.2 641.6 176.5 622.5 179.5 630.9 174.1 640.7 167.2 625.4 181.9 650.1 186.1 635.9 166.4 632.7 172.7 634.4 177 631.6 178.1 636.6 167.8 646.3 167 633.1 174.5 617.6 184.4 618 185 618.9 185.2 632.7 178.4 623.7 181.3 645.3 188.6 643 160.5 645.8 177.8 647.8 172.2 630.8 177.4 641.9 172.1 644 175.4 637.1 171.3 643.9 171.1 646.6 187.5 616.8 184.2 642.2 175.8 642.8 163.2 616 187.5 649.1 178.1 648 189.6 642.4 174 628.8 176.7 640.9 173.2 642.4 173.2 620.3 180.8 643.2 177.8 642.2 166.4 646.5 184.5 642 160.9 611.1 187.8 648.4 161.5 621.6 183.2 634 174.8 641.1 169.8 651.1 174.3 645.4 169 642.3 175.9 645.7 177.6 633.5 178.5 644 163.7 638 166.3 643.1 159.7 646.3 174.5 637.6 171.8 623 183.2 644.7 175.5 639.5 169.7 630.7 174 643.1 170.9 650.3 177.4 646.5 185.4 648.1 182.4 646 188.6 646 176.5 648.1 188.1 626.5 179.8 628.6 175 650.2 164.1 632.7 169.9 647.6 167.6 613.9 189.3 649.2 173.8 641.3 165.1 650.4 187.3 649 163.7 643.2 168.7 624.8 182 636 173.3 643.6 172.6 645.5 164.1 646.3 178 645.5 162.5 637.6 167.5 647.7 160.9 624.7 179.5 647.7 182.3 621.3 184.7 648.3 170.7 616.1 189.1 635.3 168.2 615.3 188.4 649.8 176.7 648.7 164.1 619.5 184.5 634.3 172 659.4 159 658.4 147.2 655.6 152.9 651.4 146.3 656.7 145.6 645.2 157.8 655.3 159 646.6 142.8 657.3 162.7 621.7 174.2 642.2 151 661.1 153.5 645.8 153 649.2 150.1 649.4 159.1 620.8 178.1 654 177.9 657.9 143.3 648.8 145.7 656.9 166.3 653.4 153.8 641.1 141.7 642.7 151.8 639.4 149.7 637.8 154.9 654.1 153 641.7 147.8 641.5 154.7 658.6 163.6 643.7 147.4 654.6 164.5 638.3 161.2 651.8 188.2 652.3 188.7 660 156.2 653.5 141.5 628.3 167.2 649.5 151.8 649.9 146.4 655.5 171.9 629.1 170.8 643.6 149.1 643.6 151.9 652.3 164 641.6 149.5 629.6 166.7 640.3 152 616 181.9 618.8 177.4 611.8 185.6 640.6 150.7 642.7 140.8 654.1 166.2 652 158.1 638.3 148.9 655.1 182.3 649.9 27.9 648.5 36.4 658.3 38 654.4 43.3 656.2 52.2 653.8 55.2 665 52.2 667 52.2 668.9 52.2 656.2 59.7 658.3 64.9 661 68.9 663.1 74.2 655.2 79.5 659.1 80.8 663.1 86.1 661 91.4 644.3 83.4 640.6 92.7 654.4 100.6 653 103.3 642.5 104.1 651.2 105.1 658.3 107.8 649.1 112.5 651.7 112.5 642.5 111.2 653 117.8 650.4 120.4 663.6 116.5 647.2 120.4 641.1 124.4 666.3 126.3 649.1 127.9 651.2 128.9 653 129.7 645.1 129.7 641.7 130.5 655.7 133.7 659.7 135 662.3 135 646.4 137.6 649.1 138.4 626.6 39 624 67 623.2 76.8 622.6 79.5 622.1 85.6 621.3 100.6 621.3 104 618.7 11.1 569.3 10.5 610.9 10.5 621.6 11.1 579.6 11.1 628.1 10.6 597 10.4 612.8 11.2 593.8 10.4 615.4 10.7 600.4 10.7 576.1 10.5 586.1 10.7 569.1 10.6 579.2 10.6 574.1 11.1 613 11 629.6 10.5 591.5 11 570.5 11.1 624 11 618.6 10.6 583.8 10.7 593.4 10.4 601.3 10.9 604.2 11.2 579.3 10.7 621.3 11 593 10.8 585.9 11.1 617.5 10.8 615.8 10.8 587.2 11.2 578.1 10.9 603.9 11 595 11.1 621.3 11.2 601 10.7 570.5 10.5 586.9 10.7 628.5 10.7 591.8 10.6 572.9 11 629 10.4 590 10.4 614.3 10.5 621.4 10.9 629.5 11.2 581.2 10.5 610.4 10.9 569.8 10.7 581.1 10.7 577.9 11.1 611.5 11.1 594 10.6 584.7 10.6 604.5 10.5 620.3 10.7 579.5 10.8 617.7 11.1 587.8 10.8" fill="none" stroke="none" marker-start="url(#mr)" marker-mid="url(#mr)" marker-end="url(#mr)"/>
<path d="M554.4 9.8V190.7" stroke="#10108c" stroke-width="2.6"/>
<path d="M567.8 9.8V190.7" stroke="#10108c" stroke-width="2.6"/>
<path d="M445.7 190.7H666.5" stroke="#dcbc8c" stroke-width="2.1"/>
<path d="M459.4 193v-2.5M459.4 9.3v2.5M493.3 193v-2.5M493.3 9.3v2.5M527.2 193v-2.5M527.2 9.3v2.5M561.1 193v-2.5M561.1 9.3v2.5M595 193v-2.5M595 9.3v2.5M628.9 193v-2.5M628.9 9.3v2.5M662.8 193v-2.5M662.8 9.3v2.5M441.5 192.9h2.5M674.6 192.9h-2.5M441.5 162.9h2.5M674.6 162.9h-2.5M441.5 132.9h2.5M674.6 132.9h-2.5M441.5 102.9h2.5M674.6 102.9h-2.5M441.5 72.8h2.5M674.6 72.8h-2.5M441.5 42.8h2.5M674.6 42.8h-2.5M441.5 12.8h2.5M674.6 12.8h-2.5" stroke="#666" stroke-width="0.9" fill="none"/>
<rect x="441.5" y="9.3" width="233.1" height="183.7" fill="none" stroke="#5a5a5a" stroke-width="1"/>
<text x="458.4" y="202.5" text-anchor="middle" class="tk">-15</text>
<text x="492.3" y="202.5" text-anchor="middle" class="tk">-10</text>
<text x="526.2" y="202.5" text-anchor="middle" class="tk">-5</text>
<text x="561.1" y="202.5" text-anchor="middle" class="tk">0</text>
<text x="595" y="202.5" text-anchor="middle" class="tk">5</text>
<text x="628.9" y="202.5" text-anchor="middle" class="tk">10</text>
<text x="662.8" y="202.5" text-anchor="middle" class="tk">15</text>
<text x="438.5" y="196.1" text-anchor="end" class="tk">0</text>
<text x="438.5" y="166.1" text-anchor="end" class="tk">50</text>
<text x="438.5" y="136.1" text-anchor="end" class="tk">100</text>
<text x="438.5" y="106.1" text-anchor="end" class="tk">150</text>
<text x="438.5" y="76" text-anchor="end" class="tk">200</text>
<text x="438.5" y="46" text-anchor="end" class="tk">250</text>
<text x="438.5" y="16" text-anchor="end" class="tk">300</text>
<text x="557.5" y="213" text-anchor="middle" class="tk">log2(R/S)</text>
<text x="438" y="220" class="pl">(b)</text>
<path d="M484 192.6H633" stroke="#000" stroke-width="1.6"/>
<path d="M135.6 250.3 135 276 136.3 280.7 136.2 262.2 134.8 268.5 135.1 289.1 135.2 286.1 134.7 286 136.4 261.9 136.6 283.5 138.5 267.8 140.3 257.3 142.6 261.6 143.9 261.6 143.5 271.6 142.7 277.1 143.3 265.2 145.1 270.4 145.5 264.8 142.7 252.9 143.3 247.4 144.3 257.5 143.4 269 134.7 296.1 135.8 301.6 135.4 304.4 136.9 332.6 135.3 322.5 135.8 314.9 135.9 329.7 136.9 312 135.1 340.5 134.5 322 135.5 338.1 135.1 299.2 134.4 333.3 135.8 316.4 134.5 316.2 136.9 290.6 136.4 296.9 137 322.8 136.3 334.2 134.5 315.9 134.9 294.3 137 336.6 136.1 329.4 135.2 308.4 136.5 306.9 135.2 300 136 316.8 136.8 330.9 136.6 317.3 134.9 336.7 135.9 340.1 137.1 344.5 135.4 336.5 134.3 334.8 136.1 333.7 135.3 293.9 136.1 334.3 137.3 291.5 135 308.7 136.6 336.1 135.9 290.7 134.7 327.7 134.4 308.8 134.6 336.1 137.2 302.7 136.4 309.1 135.2 304.1 135.3 308.4 136.4 339.6 134.7 339.3 139 337.3 137.5 343 139.8 303.9 141.2 334.3 140.3 317 145.4 340.7 143.7 299.1 144.8 302.3 143.2 318.3 142.7 327.2 144 328.4 145.3 334.7 143.5 309.3 145.6 305.9 144.9 317.3 145.3 291.4 143.5 316.1 144.9 317.4 145 318 145.2 326.5 145.6 309.1 142.3 315.5 145.5 330.8 145.2 306.2 143.2 303.8 143.6 297.2 145.5 301.9 144.3 332.9 142.7 334.2 144.7 305.3 145.3 323.8 143.6 290.9 142.7 291.6 143.9 328.7 142.7 291.5 144.4 290.3 145 329.5 143.5 303.4 142.7 331.4 144.8 324.4 145.2 295.3 145.2 292.6 142.3 302.7 143.6 293 144.3 333.7 144.4 334 144.9 304.6 144.8 301.7 145.4 307.1 144.4 336.2 142.5 333.9 143.2 328.9 145.6 315.1 143 338.6 143.8 332 143 297.1 143.1 294.8 145.4 334.2 143.3 316 142.7 309.6 145.2 312.7 142.8 302.1 143.3 328.4 144 321 143.3 305.8 143.1 299.2 145.4 316.6 145.4 339 143 321.7 145.6 330.1 142.5 335.5 145.5 298.4 137.5 362.9 136.3 358.3 136.9 351.4 135 351.8 134.8 362.5 136.7 357.5 134.3 362.9 134.7 358.9 135.2 362.4 136.7 346.7 134.9 374.2 137.6 358.1 135.5 353.5 135.7 349.4 135.3 345 136.6 348.8 136.3 361.9 137.5 350.1 137.9 347.4 135.4 372.1 135.4 373.8 134.3 366.7 137 354.6 138.4 364.8 136.4 368.9 136.2 352.1 134.5 355.3 136.6 362.8 135.5 371 135.6 377 135.2 376.2 136.3 368.6 135.6 364.7 136.3 371.9 137.4 375.9 134.5 360.1 137.1 360.8 135.2 351.8 135.6 378.6 134.4 352 136.1 368.7 136.6 369.7 135.2 379.2 136.1 372.4 138.2 346.1 135.9 352.1 134.6 356.9 136 351.2 135.3 377 134.3 349.7 138.5 349.4 136 353.1 135.1 372.2 136.3 367.2 138.5 374.5 134.4 348.4 136.6 379.4 137.3 358.9 135.1 352 137.2 373.5 134.4 354.9 135.7 356.9 135.4 352.3 136.5 359.9 135.4 347.4 134.6 374 138.2 346.6 136 357.9 136.1 358.3 138.2 352.2 135.7 369.2 134.4 350.6 138.2 363.1 137.1 351.3 138.1 372.5 134.9 351.1 136.7 355.6 135.2 358.6 135.2 361.6 136 366.6 135.2 353.6 135.5 354.5 135.8 372.5 137.3 365.1 138.3 366.8 138.2 357.6 137.1 366.6 137.8 345.9 137.5 347 138 345.3 135.5 373.4 137.1 367.8 134.5 347.7 135.2 368 136.5 349.3 136.9 349.2 137.1 379.9 137.7 376.3 137.2 363.8 138.2 378.4 138.1 367.2 137.7 375.9 137.3 351.3 135 366 134.4 355.7 135.8 363.9 134.5 346.8 138.3 365 135.6 359.5 134.6 348.6 137.8 351.1 137.4 360.9 136.4 373.7 137.9 376.2 136.6 355 135.8 375 137.8 371.8 135.2 358 134.9 353.6 135.6 345.8 136 379.1 138.3 366.5 137.9 376.6 134.8 349.8 136.9 355.2 135.8 372.8 137.1 351.7 134.5 361 135.1 354.5 135 377.5 137.6 348.9 137.1 364.3 137.1 365.6 136.8 379.6 135 359.5 139.9 356.7 141.4 368.4 140.2 371.4 139.5 351.7 140.1 354 140.4 376.8 144.4 363.9 144.3 351.5 144.2 364.5 142.7 355.5 142.4 346.5 143.4 356.2 143.3 364.4 143.8 347.4 144.9 368 144.2 371.8 142.9 347.3 143.9 350.3 142.6 375 143.1 360.3 142.9 346.6 145 353.5 142.1 370.4 143.2 362.3 144.8 355.4 141.9 361.5 142.4 371.2 143.8 356.7 144.6 348.6 142.6 378.4 144.5 351.7 142.9 346.4 143.6 363.6 143.2 347.2 145.6 377.1 144.6 370 145.1 372.8 144.3 368.4 144.8 360.6 142.9 353.7 142.3 379.6 144 350.5 144.6 357.9 145.5 371.5 145.5 351.6 143.7 365.3 144.8 367.7 144.3 345.6 143.5 361.7 141.9 378 145.1 369.1 145.6 365.2 144.1 376.5 143.3 356.7 143.7 350.5 144.4 376.4 143 350.3 143.5 354.2 142.9 352.9 143.9 348.1 141.7 346.2 144.2 346 144.3 346.3 144.8 368.8 144.3 349.5 143.4 359.2 144.7 376.2 142.3 346.2 142.8 348.1 144.3 364.4 142.1 369.5 145.6 379.3 142.9 347.1 145.1 368.6 142.6 379.4 145.5 377.6 143.7 370 145.2 357.1 141.9 348.7 143.7 373.5 141.7 346.6 145.5 345.3 145 376 141.7 370.8 144.2 348.6 144.3 376.2 144.9 354.5 142.9 378.9 144.4 370.6 142.2 367.7 144.5 361.3 142.6 368 145 374.5 145.7 377.1 142.1 360 144.3 351.5 142.5 349.9 145.2 355.7 143.5 369.1 143.4 376.1 142.5 356.3 143.5 367.8 142.8 367.7 142 359.3 145.2 350.1 143.6 354.8 141.9 374.7 145.5 359.7 141.8 377.3 145.6 347.3 142.2 368.1 145 356.7 142.4 364 143 360.6 143.7 347.7 143.7 373 143 351.5 142.8 354.1 142 356.1 142 370.6 145 377.4 142.9 375.4 143.9 378.4 144.5 377 144.8 378.2 142.9 376.1 141.7 361.2 141.8 366 145.2 379.9 143.4 355.6 144.1 361.8 144.5 354.8 144 362.6 143 369.5 144 351.2 144.6 355.2 142.1 356.4 142.8 358.7 145.6 361.1 143.5 368 142.5 357.2 145.1 357 145.7 352.3 142.2 377.9 144.4 352.1 142.7 377 145.2 346.8 144.9 368.6 143.7 358.4 138.4 397.7 136 390.4 138.6 385.6 137.9 392.1 137.9 397.1 135.3 388.1 137.6 385.4 137.9 390.8 137.6 399.8 135.5 390.3 137.8 389 137 384.1 137.3 388.7 137.8 398.7 137 396.1 138.5 383.5 139.2 382.5 139.2 394.5 135.8 392.2 136.7 381 138.8 396 137 394 139.1 384.1 138 382.3 136.9 388.9 136.5 390.5 137.2 384.6 137.7 382.4 137.4 392.2 137.6 398.6 134.8 381 136.8 395.9 138 398 137.1 390.5 136.1 394.2 139.1 389.3 138.3 393.9 138 390.6 134.8 393.5 136.1 389.3 135.2 383.2 137.1 393.3 136.1 393.6 137 382.4 135.9 385.9 138.7 397.1 139 399.6 135.9 387 134.9 389.2 136.9 392.9 135.5 396.2 138.4 380.2 136 399.4 135.2 384.6 137.1 386.3 139.2 397.8 138.9 380.7 137.3 397.1 137.4 390.9 137.2 392.1 137.4 396.9 136.3 398 135.8 380.2 138.2 386.5 137.9 389.8 134.4 385.7 135.9 385.3 136.6 390.3 138.1 389.6 137.4 393.4 135 389 135.5 395.9 137.9 397.7 134.7 385.4 136.3 383.7 136.7 380.6 135.6 394.4 135.3 392.2 135.8 397.4 135.7 381.8 134.4 381.7 137.2 391.6 134.3 388.6 138.6 380.7 136.2 392.5 135.6 390.1 135.8 396.2 137.9 395.5 135.2 399.5 138.5 395.2 137.7 397.3 135.2 390.7 135.5 381.2 137.1 384.9 134.4 399.2 137.1 396.5 135.1 385 138.2 383.7 138.5 396 135.2 389.5 136.3 395.5 137 393.9 137.7 398.3 137.2 382.6 138.6 387.9 135.8 382.2 135.8 391.3 138 388.9 139 393.4 135.8 397.4 137.2 390 136.9 382.6 137.1 395.6 139.3 381.6 138.1 381 136.9 387.1 137.3 382.7 138.4 380.7 135.6 387.8 136.3 399.8 138.4 396.6 137.2 396.6 136.3 393.1 138.4 384 135 385.8 138.1 394.8 137 398.3 136.4 394.3 137.2 380.6 136.6 391.6 137.4 398.6 138.6 394.9 135.4 387.6 137.4 388.7 136.4 394.9 136.1 393.2 134.6 398.6 137.6 383.9 136.8 392.5 135 391.1 135.6 381.8 135.3 392.6 136.1 391.2 138.9 383.7 136.8 387.5 135 384.3 137.3 384.3 138.9 384 135.6 399.1 137.3 387.9 135.5 392 138.3 395.1 138.7 383.9 137.5 397.7 138.6 392.8 137.3 397.8 137.9 394.8 136.6 395.9 135.7 381.9 136.3 389.2 139.5 397.9 139.3 381.7 139.4 394.2 140 393.4 140.1 385.8 139.7 398.3 139.3 384.5 139.6 398 139.7 393.7 141.4 391.5 145.4 390.1 143.2 398.4 145.1 392.4 142.4 395.1 140.9 399.7 144.5 396.8 141.4 396.5 144.5 389.8 141.9 397.8 145.7 388.6 145.6 397.6 145.4 398.6 145.5 391.6 142.4 390.4 145 387.8 141.8 388.1 142.4 391.6 144.7 396 143.6 384.1 144 392.5 145.2 382.2 143.8 398.8 144.1 388.6 141.9 383.1 140.8 393.1 143.7 395 145.7 387.3 145.3 381.6 140.9 397.8 142.7 398.7 141.6 385.6 143.6 384.3 144.6 398.9 145.2 399.7 141.7 380.9 142.2 388.9 142.2 386.8 141.2 380.1 144.2 389.1 141.4 382.2 142 381.8 141.8 391.8 142 384.3 144.2 383.4 141.3 389.2 140.9 382.4 141.4 395.6 143.3 390.2 141.5 395.2 145.4 382.8 141.9 385.5 143.9 383.2 141.4 397.6 143.5 399.6 141.8 387.5 143.8 383.7 145.5 398.3 143.7 395.4 144.2 383.4 141.4 398.5 141 399.3 143.2 387.7 143.6 386 145.1 382 143.2 389.4 141.7 387.3 144.9 388.7 145.2 386 144.9 387.7 143.5 392.2 142.3 380.4 143.9 398 143.3 393.6 144.5 385.4 142.9 391.6 143.7 397.1 142.3 398.5 141.8 396.1 145.2 381.6 143.8 381.4 144.7 394.8 145.1 380.7 145.1 387.1 145.3 382.5 141.3 388.1 145.5 382.4 145.4 391.8 142.4 386.1 142.6 398.6 145.4 394.8 142.4 399.5 144.5 398.9 141.8 384.2 143 381.2 141.1 386.1 144.3 383.4 144.1 397.8 141.4 399.6 141.6 388.3 141.7 386.1 145.3 386.3 143.1 380.8 144.3 394.2 144.9 387.9 144.2 393.4 144 388.8 144.7 398 142.4 383.8 144 380.8 141 380 140.9 383.1 144.4 398.6 143 389.5 144.6 386.2 141.6 392 141.5 396.4 141.8 382.6 142.2 383 144.5 398.6 144.6 388.9 143.8 384.1 141.2 397 141.9 393.5 143.4 397 144.9 390.5 145.4 389 144 394.6 144.7 386.7 143.8 386.1 142.3 388.1 142.8 386.6 143.1 393.7 141.2 392.4 141.5 395 144.2 387 145.2 383.7 142 390 143.6 381.3 144.8 383.9 143.8 389.8 144.4 380.5 145.3 399.8 144.2 392.9 144.4 382.6 144.7 396.3 143.5 387.4 142.8 390.5 145.1 395.2 145.6 396.9 142.8 389 142.1 384.3 144.4 386.5 143.2 394.8 143.1 385.8 141.7 396.4 142 396.7 135 405.5 137.6 410.2 135.2 414.3 135.8 411.2 137.9 401 135.5 411.5 138.2 404.9 134.8 412.7 136.8 401.9 135.1 401.9 138.8 411.2 134.9 400.5 135.4 414.6 138.1 414 134.5 408.9 136.7 403.4 138.4 406.7 138.2 414.1 138.7 413.5 135.6 406.7 134.3 409.4 134.4 414.6 138.2 409.3 136.3 402 135.1 409.5 136 407.3 137.7 404.9 136.4 405.8 135.4 410.1 134.5 408.4 134.8 406.4 135.6 403.1 135.5 411.8 135.1 404.4 137.2 410.9 135.5 404.8 136.6 412.4 137.8 412.4 138.2 414.3 136.6 414.5 137.2 407.8 136.6 411.4 137 410.4 137.7 407 138.9 402.4 135.4 412.8 135.7 406.9 134.3 414.6 137.6 400.7 135.8 413 135.7 404.1 136.6 401.1 134.4 412.1 134.7 405.7 136.5 400.7 136.6 406.3 137.8 414.7 134.3 413.3 135.4 400.9 138.7 401.6 136.5 409.7 138.5 411.2 137 409.7 137.9 406.9 136.4 409.2 137 408.3 137.1 408 136 400 137.3 411.6 137.2 402 135.6 405.3 139 409.3 138.8 407.2 136.2 408 135.6 401.3 135.5 409.2 134.5 408.3 134.7 402.8 136.2 412.5 136.9 410 138.4 406.7 136.1 411.1 136.3 402.5 138 400.7 136.5 400.1 138 406.2 136.7 410.4 135.9 406.6 136.3 410 134.9 406.5 135.8 412.5 135.6 413.4 138.6 404.5 135.4 414.6 136 410 137.2 408.6 137 408.5 134.9 410.2 136.8 402 138.6 411.7 134.8 412.3 137.6 406.6 135.2 400 135.5 401.9 134.7 402.6 134.6 408.7 136.1 414.1 134.8 400.3 136.8 407.4 136.3 403.4 134.6 409.7 138.8 407.3 138.5 407.1 140.4 408.5 139.2 402.4 141 408.1 139.9 413.1 140 412.8 139.7 401.6 140.5 413.3 139.5 401.9 141 400.2 140.1 413.4 139.3 403.6 139.6 412 139.7 411.6 140.8 407.9 140.4 407.3 140.7 402.3 139.9 405.1 140 403.9 140.6 404.8 139.7 414.2 140.9 407.6 140.4 404.1 139.8 410.6 140.1 402 139.9 411.1 139.8 401.1 139.8 401.1 141 402.6 140.3 414.4 140.8 405.7 140.7 413.3 140 411.6 139.6 409.9 139.6 409.6 139.3 404.6 140.9 406.2 140.5 404 140.3 403 139.2 406.1 139.2 411.2 139.2 410.8 139.4 400.2 140.2 403.8 140.3 412.7 140.4 408.8 140 405.5 140.8 410.6 140 412.8 143 406.2 141.5 406.8 141.7 412.3 143 409.9 141.4 411.7 143.7 402.1 144.5 408.5 144.9 408.9 141.7 413.1 145.2 414.6 145 406.2 142.2 414.8 143 401.4 143.2 403.4 143 404.5 144.6 404.4 144.4 401.1 144.5 411.2 144.3 403.3 145 413.3 143.3 405.3 143.3 402.8 144.3 409 141.9 410.2 141.4 405.4 142.3 411.1 144.4 402.2 142.3 400.3 145.7 408.4 142.9 403 141.9 414.5 143.1 404.5 145.2 402.6 144.4 403.8 144.5 410.7 142.1 401.6 141.9 405.1 144.8 410 144.2 409.6 145.3 402.9 144.8 404.7 143.1 413.7 142.2 400.4 145.1 400.5 142.9 409.7 143.8 406.3 142.5 409.2 143.3 411.2 144 403.3 141.9 406 145 408.4 145.7 410 141.1 404.3 142.4 412.2 145.4 406 142.9 408.3 142 407.6 141.4 412.8 144.4 414.3 142.1 413.7 143 408.8 145 405.7 142.1 411.4 141.5 400.4 145.6 411.4 144.4 400.9 142.9 404.8 145 413 141 405.8 142.4 413.3 141.2 409.4 143.7 413.1 141.9 408.9 143.5 408.4 143.9 401.7 143.7 411.4 145.2 404 142.6 403.1 145.2 402 142.3 401.3 145.6 402 144.1 408.8 142.3 412.3 141 408.4 141.2 413.8 145.1 400.6 142.2 405.2 141.5 412.4 142.9 401.1 145.7 414.9 144.5 410.9 143.1 400.6 144 411.4 141.6 414.2 144.9 410.8 142.1 412.7 141.7 413.3 145.4 405.3 144.4 408.3 145.4 405.1 144.7 404.8 141.3 413.1 145.4 404.5 141 408.4 141.6 410.2 145.6 405.7 143 413.9 145 408.1 143.7 413.3 143.7 407.5 141.7 409.6 144.5 413 141.5 401.1 140.7 244.6 137.3 245 142.7 245.1 139.1 244.6 140.3 244.9 138.4 244.8 141.1 244.9 135.8 245.1 144.4 244.5 141.8 245.1 144.4 245 141.8 244.5 143.4 244.9 145 244.8 140.4 244.5 141.7 244.5 141.9 244.4" fill="none" stroke="none" marker-start="url(#mk)" marker-mid="url(#mk)" marker-end="url(#mk)"/>
<path d="M130.3 375.9 119.8 399.8 130.9 414 119.8 406.6 126.8 368.9 127.3 375.7 129.8 359 128.9 355 125.1 414.4 120.4 407.4 123.9 401 130.4 367.2 124.5 396.1 129.2 375.9 110.9 410.6 124.5 385.9 118.9 411 116.5 413.6 129.7 352.8 121.2 411.7 131.8 362.7 125.8 407.9 131.2 413.2 123.5 386.2 119.4 394.1 128.6 412.7 129.8 359.4 124.1 413.3 130.9 394.6 119.7 412.8 131.7 411.3 117.9 410.1 129.8 373.7 131.1 380.5 131.6 335.8 125.5 394.8 116.7 398.7 130.3 362.3 131.8 343.2 122.3 399 113 406.8 127.7 372.1 128.6 406.3 122.1 399.9 129.2 408.4 127.4 376.8 125.2 382.1 120.5 396.4 131.4 343.7 128.7 365.1 131.5 364.8 131.1 354.4 122 397.2 123.8 392.1 127.2 404.3 126.9 369.8 129 360 122.7 407.9 131.8 334.7 125.7 400.5 129.3 379.8 127.8 395.7 131.7 396.6 130.5 377 123 412.7 111.3 411.1 118.9 411.7 131.3 371.9 130.3 410.6 130.4 393 122.8 388.2 121.1 388.7 111.6 412.4 127 365.4 131.3 342.9 130 360.3 118.4 399.8 127.8 394.7 124.9 381.7 109.8 411.5 116.1 403 121.4 406.6 128.2 411.1 131.3 345.9 129 359.9 131.6 392.1 121.6 413.4 129.4 356.5 130.1 357.8 123.5 388.8 128.6 357 128.8 368.2 131.8 376.9 128.2 396.7 128.1 409.9 125.5 410.9 124.2 389.3 128.1 364.1 131 405.2 126.3 374.2 119.4 411.6 126 377.3 131.7 413.4 130.9 362.6 125.4 390.6 129.2 357.9 118 401.2 129.5 384.4 118 409.8 114.3 407.1 132 332.5 113.3 406.8 116.3 403.8 116.3 400.7 111.8 410 130.1 387.6 128.9 353.1 118.7 407.4 131.1 358.5 127.7 403.4 111.6 414.1 126.8 391.1 121.1 413.1 121.1 396.8 131.9 347.6 125.1 378.5 119.7 410.7 118.7 402.7 127.1 374.5 129.1 362.6 129.5 393.8 127.7 385.8 115.1 413.3 123.8 405.6 113.7 404.9 123 397.9 122 406.6 128.6 378 125.2 400.2 128.5 413.4 131.5 345.4 129.5 366.5 122 409.7 116.6 400.2 123 413.2 130.8 358.5 129.9 354.5 111.2 410 131.5 372.5 130.8 400.8 129.1 386.2 130.8 389.4 120.9 411.3 126.7 393.4 113.9 404.7 122.3 403.4 129.3 369.5 122.9 389.6 112.2 408.3 130.2 361.9 114.5 413.1 129 382.5 125.7 394.9 125.8 378.9 130.9 374 128.7 354.5 117.8 405.8 129.8 350.7 127.3 408.7 124.3 391.9 127.2 383.1 112.5 411.9 127.6 389.7 124.3 403.9 131.8 388.8 131.9 392.2 110.4 412.5 128.3 383 130.2 400.6 124.2 386.9 131.9 404.3 129.9 351.6 126.1 408.8 129.9 398.1 126.1 407.9 127.8 396.3 123.1 389.5 125.5 403.9 131.4 352.1 119.2 395.8 121.6 398.1 121.4 400.9 127.7 374.4 119.2 396.5 117.3 409.9 124.7 393.9 124 408.9 128.3 399.6 128 379.1 131.1 414.2 118.7 398.8 120.1 399.8 128.1 375.3 124 408.7 124.1 413.4 112 412.7 131.6 381 130.8 351.8 125.7 377.7 129 401.7 119.7 413.3 119.5 413.2 127.3 400.4 129.9 357.9 126 371.4 113.8 414.5 129.2 360.5 120.4 405.7 123.2 405.2 122.7 383.6 120.8 412.5 130.4 409.4 131.8 383.3 116.7 414.4 128.9 376.7 127.8 368.1 130.5 383 130 408.4 131.5 397.5 122.6 391.4 125.9 404.8 129.3 373.3 128.9 368.4 130.1 387.3 119.4 403.1 126.2 371.9 118.9 395.3 129.8 349.3 131 383 131.1 358.3 123.4 397.6 124 401.5 120.8 409.9 128.9 395.8 128.7 358.7 120.1 407.1 131.7 335.9 123.1 408.4 127.1 411.4 124.3 408.1 121.7 393.3 117.8 404 117.6 400.5 127.2 374.4 125.1 379.6 131.3 353.1 130.7 353.9 129.7 365 130.3 358.5 121.4 408.4 129.8 400.3 122 410.7 125 396.4 130 367.7 128 366.8 124.2 379.5 125.2 389.4 126.4 410.6 125.4 403.9 126.3 371.8 129.5 372.5 128.6 411 121.3 403.4 118.7 402.5 119.8 408.5 127.5 384.5 123.5 394.5 129.4 376.6 130.7 405.8 111.7 408.6 131.2 380.9 127.7 398.7 131.7 403.1 124.9 393.9 124.8 398.3 123.8 400.7 130.5 376.7 126.2 377.5 128.3 407.8 130.2 385.1 114.4 410.7 131.9 395.9 124.9 396.8 128.8 396.7 111.6 408.2 128.8 394.5 128.4 400.5 131.3 342.5 123.5 400.8 122.6 399.4 131.7 359.4 112.1 409.5 118.7 403.8 113.8 412.9 130.9 385.1 130.9 403.8 129.9 373.6 125.4 380.5 129.7 385 123.3 386.7 128 408.8 115.8 407.7 128.5 390.7 120 394.6 126.5 402.5 131.9 370.8 131.8 390.7 130.6 362.1 112.9 407.1 112.8 410.8 121.7 386 131.5 405.4 127.7 396.3 124.7 396.1 110.2 411.7 130 408 123.4 385.8 123.5 384.4 127 384.8 130.1 361 128.6 392.3 127.1 379.7 130.5 388.3 127.8 403.4 131.7 335.1 116.7 411.7 116.8 401.5 126.5 384.2 131.7 350.6 123.6 403.3 126 370.8 121.4 409.2 121.9 396 131.7 370.8 131.2 343.9 119.7 408 121.2 389 130.8 361.6 129.3 355.5 116.4 409.8 112 412.3 125 394.8 127.3 386.9 122.6 401.7 123.9 377.4 130.1 372.4 130 386.4 111.7 409.1 124.8 391.2 127.4 381 131.8 393.1 123 386.3 116.9 405.5 125 408.1 127.8 372.3 130.6 355.8 116.3 411.8 128.2 410.4 131 390.2 127.3 375.9 125.2 378.9 126.4 397.9 114.1 406 118.7 399.5 127.4 392.2 125.6 404.1 131.5 378.1 129.6 390.8 120.6 397.2 132 413.8 130.8 408.2 121.6 401.8 111.1 414.4 128.7 397.6 128.6 379.1 121.9 396.1 122.9 384.2 121 395.3 131.3 368.1 131.7 363.1 127 406.4 131.4 338.7 118.9 408.4 122.2 390.7 128.7 413 117.7 400 125.9 395 119.3 395.5 118.7 414.1 127.4 389.2 128.5 367 125 386.6 127.4 401.8 131.6 406.3 130.9 388.5 129.4 402.6 128.5 395.2 123.2 387.9 124.5 386.6 130.4 372.3 128 398.7 126.4 397.5 122.5 384.3 129 403.1 129.8 413.8 116.8 407.9 128 412.5 131.9 382.2 127.6 413.8 123.6 383.1 120 405.1 125.4 411.4 129.1 381.7 130.8 413.8 126.7 397.2 128.8 391.3 125.7 381 131 402 127.7 399.9 122.8 389.9 130.8 368.6 125.9 400.9 131.8 358.5 129.9 363.6 119.5 401.8 132 386.1 125.8 384.5 129.8 406.8 130.8 404.1 128.6 401.9 118.1 398.3 129.5 373 130.7 374.5 128.2 394.9 123.5 380.1 127.5 386.3 125.7 413.3 122.6 391.4 129.2 384.3 130.1 353.5 128.6 384.7 112.8 412.9 130.2 400.8 128.4 409.5 117.5 412.5 117.6 410 114.9 410.3 127.7 386.7 128.5 391.7 115.6 404 118.7 397.8 130 389.9 114.8 410.9 117.7 410.1 127.9 396.3 128.3 375.9 125.9 374.9 128.3 372.4 130.9 404.8 128.9 412.2 129.2 401.2 127.9 378.4 125.6 404.1 127.3 374 116.3 404.1 114.9 413.5 126.6 380.2 119.9 399.6 121.7 392.7 128 411.4 113.5 404.3 132 337.7 131.5 339.9 113.8 406.5 130.3 368.2 117.7 399 113.3 406.5 128.5 369.7 125.1 394.1 121.9 401.7 115.7 405.3 112.6 410.5 127 368 122 391.4 123.8 385.8 130.8 355.6 127.4 367.9 131.1 379.7 129.3 391.1 111.6 409.3 130.7 364.9 130.4 378.8 130.2 346.9 131 344.7 129.8 402.8 121.1 395.9 131.1 382.4 131 389.8 125.4 391.2 132 364.7 130.4 354.5 131.6 402.2 127 377.2 117.3 405.1 125.5 378.7 115.3 406.5 117.2 404 127.4 378.8 122.2 407.6 126.3 385.3 126.3 413.6 129.7 352.9 128.2 394.1 116.6 413.4 127.3 412.8 128.8 392.4 123.1 407.5 123.8 378.8 118.7 411.4 129.1 370.3 120.7 388.7 130.1 383.2 125.1 398.2 126.3 410.5 128.9 360.3 130.4 410.7 128.9 371 128.5 405.5 128.7 362.2 123.1 394.2 129.6 395 125.6 391.5 131.6 413.7 131.8 342.4 115 408.7 131 376.8 129.8 378.6 116.8 410.3 124.7 391.3 129.6 373.9 127.3 368.6 119.5 414.4 122.7 382.3 124.8 386.7 128.4 404.2 131.8 347.9 130.6 345.2 122.7 382.3 118.3 399.9 129.3 388.2 123.2 381.8 128.4 406 119.3 409.7 129.2 413.7 131.4 396.9 112.5 406.7 131.9 367.2 129.4 386.4 129.8 374 123.3 411.3 119.1 400 125.9 383.9 131 404.7 120.1 391.4 129.8 395.7 119.6 413.8 130.1 377.5 113.5 413.3 130.5 361.9 119.7 407 112.6 412.4 127.2 393.8 118.1 400.8 116 413.6 126.4 376.8 129.8 359 121.7 400 131.4 359.7 121.7 392.2 127.8 403.6 131.5 345.4 123.6 406.7 113.2 407.3 122.4 395.2 115.6 412 128 360.1 125.2 375.9 128 371.8 130.6 413.3 114.3 404 130.3 373.6 117.1 406.7 126.7 374.9 130.5 362.1 121 401.5 124 408.1 127.8 373.2 112.9 408.1 131.5 370.8 131 367.4 117.8 407.2 122.7 395.3 119.9 406.3 121.6 398.3 113.4 405.1 117.5 397.3 130.2 403.3 124.3 384.2 125.4 414.3 121.1 394.6 116.6 404.8 131.4 363.4 120.2 410.2 132 358.3 121.9 390.5 129.4 352 125 404.5 132 410.2 128 409.4 115.5 412 124.7 399.3 129.9 400.7 126.5 371 131.9 388.4 128.6 398.4 117.2 399.9 127.9 372.6 117.3 397.6 130.6 347.9 120.9 396.8 123.6 379 130.8 345.7 121.6 386.5 128.6 373.4 121.4 399.2 128 400.5 116.5 399.6 113.3 413.3 125.2 384.4 126.9 408.7 127.9 368.2 130.9 344.9 127.6 381.7 131.9 333.9 119.2 401.6 122.9 395.8 117.7 413.3 118 395.7 131.1 382.7 117.5 405.1 120 397.3 130.7 366.5 125.5 410.1 131.8 393.8 130.5 371.6 131.9 382.6 120.7 401.1 127.5 375 125.8 388.9 114.8 414.1 128.6 391.8 127.3 375.1 119.8 394.6 126.9 383.6 119 401.9 124.6 405.5 124.2 402.4 127.8 392 121 391.3 127.8 387 130.2 386.1 108.6 413.4 127.6 388.1 126.1 397.5 129.2 367.6 123.6 407.8 123.3 400.8 127 402.2 120.9 410.5 130.8 392.4 129 372.1 130.6 372.8 127.2 386.4 128.1 412.6 130.1 356.4 126.5 389.5 130.9 410.5 118.6 402.2 123.5 411.8 122.8 408 131 390.7 131.6 336.1 124.5 386.7 130.7 382 127.2 389.4 125.3 375.6 115.2 410.9 131.3 356.9 126.1 402.9 125.7 403.5 127.6 388.8 122.9 386.8 124.7 374.5 127.9 405.8 127.1 392.2 115 404.2 121.8 385.9 129.4 393.1 123.6 394.3 124.6 406.8 127.6 387.7 129.5 364.4 119.7 408.9 119.8 399.9 131.7 369.5 114.7 413.2 131.3 359.3 117.6 413.4 130.4 396.9 112.9 405.4 127.8 369.9 130 350.3 117.8 403.8 123.8 396 117.4 399.3 130.7 382.4 130.5 365.8 114.7 404.2 130.7 382.7 121 405.1 119 397.8 124.4 389.8 115.3 405.8 131.4 358.3 131.5 380.2 120.1 394.2 123.6 412.8 129.7 398.2 131 350.3 122.5 413.6 119.3 404.8 130 373.7 126.3 395.3 122 394 126 392.7 131.4 387.5 119.5 392 126.5 406 129.4 393.8 132 358.2 129 352.5 127.2 372.4 129.7 391.2 115.4 413.9 119 407.5 130.6 350.6 117.2 400.7 119.4 397.9 116.4 403.5 121.8 390.6 128.4 399.2 124.7 391.4 114 412.6 118.1 395.9 122.9 410.7 123.5 408.4 131.7 383.4 125.1 376.5 130.2 387.8 123.2 412 126.8 394.6 114.8 402.4 124 394.9 125.8 412.8 123.7 391.3 117.3 412.8 127 391.8 130.7 365 121.7 413 130.6 408.5 117.9 396.2 131.2 404.2 131.9 396.7 123 413.1 128.1 408.5 108.8 414.3 121.2 409 123 390.9 131.4 352.4 124 389.3 122 412.9 127.4 390 115.3 410.4 119.8 403.3 115.8 409.7 113.1 413.7 119.5 395.2 131.3 395.8 114.9 411.9 128.2 376.1 110.9 413.3 127.6 386.6 128.5 407.3 116.9 403.6 130.6 394.2 129.1 379.8 131 389.9 127.2 389 113.2 411 129.6 391.2 131.8 334.2 125.5 411.6 128.3 362 115.8 409.8 125 374.3 128.6 361.9 129.6 396.8 129.6 383.5 120.5 413.5 122.4 398.6 129.1 381.7 123.1 398.2 126.4 375.5 127.5 379.7 126.9 372.2 126.8 372.5 122.7 382.6 124.4 406.7 126.5 395.3 132 366.5 128.1 385 126.5 384.1 121 404.3 131.2 381 113.1 411.1 130.8 371.4 119.2 414 128.8 379.2 128.6 363.4 131 388.5 131 400.1 123.4 396 121.3 407.1 129.9 388.9 126.8 394.4 130.1 375.6 120.8 399.8 131.2 366.2 129.8 360.3 109.8 411.1 131.1 381.9 128.5 385 120.8 404.4 125.4 380.5 114.9 405.4 130.3 350.3 129.8 348.2 127.8 398.9 131.2 413.7 127.4 389.6 128.9 410.6 124.7 412.5 124.6 376.9 108.5 414.3 125.9 383.1 120.2 410.1 125.1 401.8 129.1 391.3 131 405.3 130.5 344.7 129.7 405.3 118.5 404.1 123.4 392.2 127.5 404.4 123.1 398.9 127.9 398.4 109.9 414.4 116.9 400.1 124.6 397.9 131.9 388.2 131.5 360.2 124.7 379.9 119.8 393.1 119.7 410 128.1 358.1 127.5 400.4 121 390.1 121.5 398.2 120.3 397.8 127.8 395.7 126.9 368.5 131.3 360.6 117 410.9 119.2 406.6 114.5 414.4 113.9 408 119.2 406.5 128.8 412.1 131.5 367.7 126.5 379.6 129.5 367.9 131.9 390.9 131.2 401.8 113.1 411.7 131.9 339.2 126.8 399.5 128.7 382.7 118.8 404.1 113.6 413.7 127.6 379.6 129.1 394.5 130.6 373.1 121.7 409 130.9 381.6 123.7 398.4 115.9 414 129.1 381.7 130.2 355.2 113.8 412 130 361.1 121.1 409.9 129.7 358.1 130.4 390.2 125.9 369.9 125.8 381.7 127.6 388.9 114 409.6 120.5 400.8 125.9 393.2 128.9 387 115.7 401.2 124.8 397.4 116.1 405.9 129.7 360.8 124.7 392.6 130.7 346 130.7 354.5 126.6 395.7 127.7 395.4 130.1 399.9 131.3 375.1 112 407.4 130.7 409.4 115.4 409.6 127.8 401.4 130.2 385.3 121.7 396.7 128 375.6 116.5 414 130.1 380.7 128.9 384.6 124.6 406.8 127.9 361.4 113.7 412.3 128.9 365.9 128.9 395.3 124.8 397.3 128.6 395.5 120.2 390.5 118.1 396.4 115.7 414.4 122.6 398 123.3 398.2 125.6 398.7 124.6 392.5 125 408.5 131.8 411.4 132 359.8 121.9 403.2 131.5 403.4 127.3 397.3 122.4 388.5 126.5 399.2 127.9 374 121.9 385.3 131.4 351.8 122.1 408.2 124.7 405.3 130.8 342.9 127.2 412 130.5 383.3 124.5 384.6 117 413.6 123.5 407.2 132 373.3 129.5 411.4 131.3 385.2 131.3 344.1 125.6 384.4 121 399.3 109 413.3 127.6 406.8 128.7 388.8 130.6 402.3 124.7 378.4 126.9 392 119.5 399.8 128.6 377.7 118.3 381.6 112.9 390.3 115.9 398.9 116.3 390.5 104.4 410.7 128.5 353.2 131.5 307.3 117.3 391.3 128.8 352.8 115.6 398.1 112.4 394.1 125.7 343.5 131.1 335.1 120.8 369.2 124 374 118.4 373.2 116.6 396.7 126.4 340.1 124.1 374.6 124.9 346 105.6 409.7 113.1 388.5 123.2 354.2 118.2 372.5 131.3 305 106.6 404.8 126.6 353.8 113.6 396.7 103.9 412.8 124.2 375.2 113.2 398.2 124.6 368.8 126.2 351.8 120 389.3 127.4 345.2 116.3 380.4 122.1 362.8 117 379.1 132 312.6 123.5 366.6 123.6 361.4 108.8 397.7 119.6 369.2 118.8 373.2 129.2 318.6 125.8 358.7 126.8 336.9 120 376.8 128.1 349.7 113.6 399.8 117.1 380 106.5 409 115.3 389.9 128.6 327.7 126.4 346.8 128.3 327.5 128.9 320.7 117.2 386.1 122.8 379.5 117.8 378.8 109.8 408.7 117.3 386.5 127.8 357.1 129 335.1 109.1 400 107.7 399.9 113.5 400.2 115.6 391.2 103.2 410.8 123.7 353.6 126 344.7 126.4 357.7 126 344.7 127 362.5 130.6 324.2 126.3 355 128.9 334.5 106.2 414.5 131.9 303.1 119.8 372.9 127.2 334.4 113.3 392 128 325.5 106.7 403.1 122.2 374 119.5 386.3 124.5 364.7 130.9 316.4 129.1 347.3 119.2 373.2 129.1 327.5 105.1 409.6 115 384.8 131.7 324.8 104.6 409.3 121.6 378 109.7 401.7 106.6 403.2 129.8 331.3 122.2 362.7 113.4 389.2 106.6 410.4 122.2 381.2 130.8 316.5 111.6 399.5 128.7 343.3 130.9 334.1 127.2 362.8 118.2 375.4 118.6 384.2 130.6 314.9 131.5 311 122.6 366.9 118.7 371 112 391.8 115 401 121 372.5 108.6 403.1 124.1 352.8 114.4 386.5 124.2 373.7 122.5 367.2 119.2 379.6 114.8 391.3 109.5 402.8 103.7 408 128.4 341.9 110.2 407.2 124.1 374.7 105.5 410.4 104.4 410.3 117.4 389.7 108.5 403.9 127.8 340.7 111.5 391.6 118.6 393.9 120.4 376.8 122.4 375.9 124.1 353.6 108 402.1 110.7 399.7 115 392.4 117.6 378.1 127.1 339.9 127.2 341.5 131.4 323 128.8 339.6 129.1 348.9 126.7 271.8 117.9 303.1 126 280.3 96.3 378.3 111.1 381.6 124.6 279 109 390.8 118.1 348.1 124.2 345.2 101.1 407.9 114.1 343.5 118.4 324.5 95.5 380.4 94.4 367.1 120.4 312.5 103.7 362.2 122.3 329 126 263.5 124.5 324.5 119.4 295.4 121.4 346.3 113.7 383.9 114.8 354.8 125.3 303.9 126.3 300.6 108.9 363.7 111.5 358.4 92.5 379.5 117.7 344.8 109.9 370.2 111.8 346.1 124.3 332.6 106.7 383.1 118.9 314.7 102.3 370.5 121.2 336.7 119 358.6 113.6 381.4 103.8 395.5 99.2 357.7 108.9 377.1 130.9 279.8 106.2 401.4 97.3 367.8 93.4 368.1 107.7 369.1 129.8 270.7 104 371.2 128.4 316.7 93.4 388.3 127 267.7 102.4 359.9 109.5 386.7 105.4 397.8 122.5 304.8 124.6 336.6 104.7 384.9 106.8 364.4 104.3 354.7 109.8 353.2 126.5 284 117.4 304.3 100.1 372.2 116.5 364.8 97.8 375.1 124.6 327.9 105.3 342.6 119.3 345.1 103.8 381.5 117.9 358.2 126.7 268.3 130.8 283 111.9 363.7 128.4 257.8 111.3 387 109.8 366.5 97 359.6 115.6 371.7 100.8 405.4 92.6 383.5 104 369.4 110.4 376.9 123 327.4 125.4 340.2 131.6 290.3 97.2 364.7 107.6 397.3 114.6 353.3 114.7 333.7 125.1 299.6 127.8 317.9 121.6 350.2 116.3 311.9 114.9 318.3 129.6 280.3 94.4 389 110.3 370.6 108.1 344.1 116.5 326.5 113.7 356.3 112.6 376.3 130.3 262.4 125.8 284.4 125.6 336.1 120.8 336.2 97.2 371.1 114.7 329.4 95.4 368.9 108.6 344.6 128.7 271.7 108.7 346.2 96.3 386.3 100.3 402.6 115.2 364.1 121.3 343.4 123.7 336.1 124.6 297.9 123.1 308.6 112.1 355.5 111.9 331 105.2 372.2 126.7 265.5 107.7 382.7 125.1 278.3 123.4 285.8 129.9 261 117 305.2 130.3 294.6 124.4 268.6 90.1 362 109.4 312.1 121.7 252.1 88.7 374.6 109.7 272.4 101.3 330.5 105.7 293.7 94.3 336.1 93.4 306.4 100.2 345.7 115.5 273 106 281.5 93.4 345 101 305.6 111.3 309.2 115 261.1 93.2 324.9 95.8 305 99.2 288.5 90.5 332.3 89.5 359.7 124.9 265.1 99.9 312.9 107.9 301.5 100.7 342.7 110.6 317.1 104 413.7 102.6 411.5 101.6 408.4 100.3 406.1 98.9 403.2 97.2 401 96 398.3 95.3 395.6 94.3 393 93 390.3 92.4 387.3 91.8 384.3 91.3 381.6 91.4 378.3 106.7 413.8 105.6 411.1 104.2 407.9 103.3 405.1 101.5 401.9 100.5 399.1 98.8 395.8 98.2 393.4 97.6 390.8 110 413.9 108.8 411.1 107.6 408 105.8 404.9 105.2 402.5 103.8 399.8 58.6 408.1 63.2 411.6 62.5 407.7 73.9 410.3 73.8 413.2 71.5 413.4 65.8 412.9 56.9 408.1 69 408.5 59.6 406.1 71.2 411.9 66.7 411.5 73.6 412.6 61.8 413.7 69.5 405 66.7 411.4 79.3 413 66.3 409.9 75.2 413 71.3 405.8 77.6 412.5 66.8 413.2 59.7 409.3 65.9 405.3 70.8 413.7 74.3 408.7 59.7 406.4 68.6 413.3 73.3 409.6 72.5 409.9 59.9 406.5 76.6 413.6 73.6 409.3 68.8 408.1 59.3 413.1 65.2 404.5 57.4 410.4 71.4 409.5 58.3 409.8 67.5 412.6 60 410.3 68.3 408.9 65.5 405 66.7 408.6 79.3 413.4 76.4 414.2 63.6 409.3 62.6 405.8 61.9 413.4 66.5 412.3 65.7 406.7 75.3 410.7 62.7 412.5 58.2 407 60 414.1 60.6 406.7 71.3 406.7 67.5 406.4 76.9 410.6 70.8 407.5 67 405.3 76.3 412.9 65.9 414.3 69.9 412 77 411.9 61.2 409.1 69.7 413.7 60.5 406.9 65.2 410.5 57 409.3 60.5 409.9 64.8 414.1 67.2 409.8 79.1 413 62.1 405.7 67.8 407.2 64.8 411.2 59.7 405.9 72.8 409.7 61.2 411.8 59.9 409.6 73.3 414.5 66 410.7 70.8 411.7 58.9 411.7 79.1 413.3 62.9 405 67.7 412.3 70.5 408.1 58.7 410.4 80.8 414.2 68 405.9 69.3 406.9 67.1 407 69.1 412.6 63.8 409.7 64.2 405.9 74.4 412.4 71.4 412.8 61.1 409.4 67.4 405.8 64.1 405.5 63.1 404.4 63.6 412.1 62.5 404.6 62.8 411.9 63.5 405 72.5 409.4 53.3 401.1 59.6 388.9 58.5 391.3 54.3 410.6 49.2 402 61.6 387.8 54.8 411.8 50.6 396 51.2 398.8 71.5 400.1 58.3 389.8 52.3 401.6 60.8 399.4 53.6 405.8 75.8 407.7 54.5 403.6 57 412.5 66.9 396.9 56.4 395 49.4 407.2 72 406.2 81.6 406.2 70.1 403.1 55.7 399.5 53.2 401 68.4 402.8 70 398.2 60.4 395.8 68.9 394.6 70.5 398.5 54.4 398.5 52.6 403.7 54 397.6 54.1 404.6 56.1 412.8 59.7 390.1 56.9 394.3 53.6 397.3 57 403.6 65 399.7 77.7 407.3 63.2 388.7 57.4 404.5 62.5 395.4 56.5 395 63.7 402.5 58.8 392.5 84.7 413.7 52.6 398.3 66.9 395 82.7 411.4 54 399.8 51.4 403 51.8 398.2 65.9 397.2 85 411.5 66.6 395.4 53.7 391.9 63.3 392.7 53.1 395 86 410.6 67 402.2 66.1 395.6 63.5 398.1 57.9 387.2 85.5 412 67.3 402.8 66.7 404.3 54.5 394.5 82.8 413 77.6 404.1 52.5 400.2 83.7 412.9 53 407.2 53.6 395.5 50.7 408.2 83.3 411.2 82 411.4 57.9 394.7 57.3 403.7 70.5 396.3 67.6 392.2 57.3 393.8 50.6 409.1 74.1 405.4 67.7 402.8 63.1 390.3 80.2 407.8 68.9 403.1 62.3 389.6 57 405.2 60.2 403.5 53.3 396.5 67.6 401.3 51.5 406.2 51.2 407.4 66.4 402.1 57 399.8 67.6 392.3 53 407.6 86 410.4 55.9 365.5 51.3 378 47.1 375.5 47 374.9 48.7 380.7 59.4 376.3 49.8 363.3 48.4 352.1 50.2 366.9 52.6 365.8 54.4 364 47.8 384.5 54.4 387.8 46.8 355.3 74 389.4 87.9 411.4 48.9 376.4 60.1 377.9 53.7 364.8 44.9 367 58.8 368.6 58.6 373.5 46.7 360.8 82.6 405.9 54 370 71.1 393.7 52.6 362.9 68 383.3 51.8 374.7 47.6 370.2 66 377 51.9 370.5 50 359.1 66.6 382 58.7 372.7 54.8 371.8 52.3 360.4 62.4 369.4 57.4 369.8 54.6 348.4 59.9 373.6 48.8 396.1 56.1 369.2 55.4 351.2 57.3 329.7 52.4 346.4 46.7 351.7 39.6 365.6 53.1 359.6 57.8 365.6 63.1 365.6 67.4 375.6 43.9 252.9 76.6 249.3 91 249.3 120.8 247.5 94.8 258.8 107.3 257.4 118.2 265.8 95.4 269.3 93 273.3 112.3 275.3 48.2 277.3 45.9 282.2 109.3 283.2 100.4 295.5 106.3 297.9 45.5 307.4 52.2 306.8 53.4 314.7 48.2 320.3 80.5 309 87.1 309 81.1 316.3 87.5 316.7 104.3 309 110.3 307 111.7 311.4 114.8 304.4 106.3 315.3 104.9 316.3 111.3 319.3 88.5 328.2 57.7 329.2 91.4 244.6 72.5 245.2 75.1 244.9 73 245.2 73.1 244.6 77.3 245.2 86.7 244.7 69.8 245.2 83.6 244.6 75.9 244.5 79.6 244.4 91.5 244.9 80 244.9 73.8 245.1 69.9 244.8 91.7 244.7 91 244.6 73.5 244.7 95.3 244.6 85.8 244.7 88.5 244.7 92.3 244.9 73.6 244.7 100.2 245.2 129.2 244.7 118.1 244.8 99.8 245 107.4 244.8 109.3 244.9 104.7 245.1 116 244.6 116.3 245.2 120.7 245 130.2 244.5 112.4 244.9 121.8 244.5 106.7 244.4 122.4 244.6 103.4 244.7 103.1 244.5 131.5 244.6 104 245.1 125.8 244.7 105.2 244.7 125.9 244.9 125.7 245 102.2 244.5 114.8 244.7 118.8 245.2 127.3 244.6 111.4 245.1 123.3 244.7 61.7 244.8" fill="none" stroke="none" marker-start="url(#mg)" marker-mid="url(#mg)" marker-end="url(#mg)"/>
<path d="M148.5 398.4 153.9 361.2 149.1 346.8 153.9 399.4 149.6 407.7 159.5 381.4 162 389.2 150.8 386.9 158.6 373.9 161.8 401.1 164.1 412.7 159.5 395.6 155.3 384 151 409.5 159.1 412.9 153.9 412 151.1 353.7 158.3 393.4 161.2 408.6 163.2 404.4 156.4 399.9 152.7 396.2 155.9 412.7 159.2 382.7 154 373.3 155.1 409.8 155.3 378.8 154.4 365.5 154 369 149.3 414.3 160.3 395.6 152.6 399.2 157.1 394.8 149.8 358.7 162.9 400.3 149.7 368.8 153.4 366.6 163.7 402 156.8 414.4 158.7 403.1 157.3 393.5 152.5 387.7 150.8 355.6 157 389.7 154.7 404.3 148.5 406 151.9 402.7 148.9 346.8 153.6 395.9 154.4 403.7 160 397.8 150.5 400.7 156.5 379.5 160.6 392.6 153.8 390.8 149.9 405.9 155.1 364.6 149 377.7 158.8 392.2 157.5 404 149.2 410.2 156.7 377.5 156.7 367.5 149 398.9 148.6 399.2 152.9 372.3 154.2 410.5 156.9 377 150.5 351.2 148.4 409.6 148.2 339.7 153.1 387.6 150.8 400.7 148.5 343.2 156 379.3 148 384.8 154.3 378.4 161.8 386 154.1 402.5 165.9 409 151.1 359.7 162.4 388.1 148.3 349.4 158.6 387.4 149.2 355.7 161.9 405.4 150.7 357.4 162.7 404.4 164.2 397.2 162 414.2 155.6 380.3 154.9 411.9 150.1 362 151.5 385.5 152.3 355.1 153.7 373.2 150.2 391.2 154.7 406.8 155.7 375.6 151.4 348 153.4 406.8 153.1 400.2 151.1 365.9 155.4 375.3 153.9 411.3 154.9 383.1 153.4 380.1 148.8 372.7 150.1 398.7 149.3 375.7 150.2 386.7 160.4 401.3 155 395.4 161.9 408.8 154 406.9 152.9 407.6 150.2 366.4 150.4 403.2 162.9 391.7 156.1 411.8 156.4 404 150.7 413.3 149.1 377.8 157.5 383.4 163.7 394.8 149.8 360.2 151.2 380.7 159.8 389.7 149.3 392.9 151.4 366.8 153.6 378.3 148.6 402 165.3 403.9 154 379.1 149.2 379.8 151.5 393.1 155.9 370.2 148.3 363.7 149 341.5 162.1 408.1 149.2 364.3 158.1 406.5 155.2 412.4 156.6 388.4 161.7 384.8 150.3 350.4 152.7 401.2 148.2 396 149.8 379.6 151.1 406.9 156.4 410.8 163.7 410.7 156.1 405.3 164.4 411.2 160.4 383.4 165 412 151 372.2 149.8 380.2 151.9 358.6 149.1 395.8 148.6 396.9 154.7 408 155 386.1 160.7 394 156.7 401 151.8 410.3 151.9 358.8 158.4 407.4 149.9 380.4 150 367.6 158.6 402 153.4 399.5 161.1 389.8 157.2 401.3 153.3 384.5 148.7 361.1 150.6 387.4 151.8 363.2 148.8 339.5 148.7 377.9 159 409.9 151 366.8 161.9 393.6 157.7 399.5 160.6 411.5 150.8 347.3 159.1 381.5 153.7 390.4 151.7 365.4 148.9 390.7 156.1 384.8 153.8 387.2 151.1 400.2 152.5 388.6 148.2 375.4 153.6 383.9 156.6 376.1 154.3 383.3 157.7 406.9 149.3 342 149.8 350.5 150.6 408.5 161.4 391.9 150.1 385.4 148.4 400.9 159.2 394.5 155.1 380.7 160.2 403.6 158.4 404.7 155.5 376.2 162.1 411.5 154.3 370.9 148.6 377.1 148.6 411.9 149.8 369.2 152.4 364.5 157.9 373.4 157.8 376.6 160.9 381.9 151.8 359.2 155.2 364.3 161 399.2 149.5 396.5 155.3 409.1 149.2 366.7 156.2 397.4 158.8 413.3 156 367.6 158 413.3 150.2 369 150.1 397 150.7 403 160.9 384.2 152.7 359.7 150.6 376.2 165.4 406.2 157.4 414.3 153.1 368.5 159.6 394.1 160 409.4 155.3 380.8 155.3 386.9 163.4 396.8 150.5 364.2 162.5 408.4 161.3 396.8 148.2 379.6 158.1 394.4 150.7 387.5 150.4 345.5 150.9 398.4 156.2 393 154.9 382.6 153.4 365.2 161.5 403.8 163.4 394.1 152.9 387.5 151.1 409.3 152.8 357.5 156.3 383.3 156.5 374.3 159.9 405.7 149.1 367 148.2 409.7 156.1 385.5 155.6 377.6 165.8 409.6 157.6 391.6 157.1 399.1 154.5 393.7 148.1 346.9 151.3 357.1 149.7 357.3 149.5 405.6 151.1 384.9 150.4 379.1 159.2 393.3 150 348.5 158.5 402 160.4 383.3 160.5 394.6 161.4 386 151.5 411.2 150.2 396.9 156.6 389.2 151 407.8 161.8 397.3 161.8 408.1 155.8 389.3 154.3 404.7 149.1 348.1 154.5 379.9 150.4 409 148.6 361.2 155.4 395 152.8 407.1 161.3 409.4 163.6 402 152.3 391.8 152.3 353.4 149.8 383.4 152.8 411.2 157.9 382.4 150.6 375.4 155.4 392.3 158.8 385.3 155.1 381.2 151.8 377.2 148.2 333.7 164.9 407.1 151.2 390.4 151 382.3 148.9 370.7 150.1 367 160.8 405.5 150.5 371.2 153.6 391.7 149.7 352 157 407 150.7 384.5 149 399.2 153.3 403.4 148.1 403.2 148.2 410.3 162.8 395.9 157 394.6 152.3 363.7 152.9 406.5 148.4 395.3 161.3 385.7 149 403.4 155 408.4 154.2 392.7 164.2 412.9 158.7 380.5 152.7 389 157.4 392.2 149.6 370.3 163.8 395.9 160.2 384.5 156.5 397.8 153.6 383.1 160.5 409.2 156.2 381.2 153.5 395.3 156.7 405.5 148.1 412.8 149.9 408.4 152.9 356 152.2 367.2 166 409.3 160.5 404 157 392.6 156.2 396.4 154.9 389.4 164.9 412.9 158.6 391.6 163.4 399.5 160.6 400.5 152.4 359.9 161.1 404.8 158 378.9 159.9 409.8 152.3 352 153.5 360.9 152.4 402.1 152.2 377.9 152.1 368.8 148.3 351.7 150.6 380.5 160.4 390.9 154.2 385.4 150.7 407.8 149.3 378.9 154.7 366 157.2 375.2 148.2 358.2 161.9 396.4 155.1 397.7 151.4 398.8 150.9 363.2 160.3 394.6 153.4 395.3 150 358.7 156 396.7 148.3 366.3 153.4 371.1 151.1 388.1 149.6 412.1 157.6 373.8 154.2 365.7 149.5 379.3 156.5 387.9 150.9 407.9 154.9 365.2 150.6 411.4 153.2 398.3 151.5 371.8 159.7 397.3 153 358 153.5 368.6 155.9 388.8 158.2 392.8 158.6 410.3 148.9 355.1 152.6 385.9 148.7 389.6 149.9 352 149.5 413.6 157.4 372.8 156.6 367.4 159.1 411.9 152.2 379 158.3 403.6 151.5 359.6 153.4 406.8 158.5 394.5 152.5 358.7 149.9 385.7 164.2 396.2 150.6 405.9 158.6 403.8 157.8 375.5 155.4 380.6 155.2 376.4 156.2 374.1 155.1 400.7 153.8 362.7 161.7 412.3 148.4 335.7 149.7 400.2 151.7 360.9 151.5 384.6 159.2 413.5 159.9 401.5 150.8 389.2 154.9 393.9 155.7 401.1 153.9 399 159.6 388.5 163.5 401.8 151.7 385.9 156.9 383.5 152.7 380.8 151.5 398.2 152.2 357.6 159 408.6 165.7 409.8 148.2 372.2 150.3 402.1 148.2 394.5 158.3 394.1 154.1 386.1 151.2 389.3 153.9 401 157.5 413 151.5 394.8 157.1 397.1 149.2 352.3 149.9 372 151.8 350.9 159.2 413.1 153.2 361 148.5 398 153.4 406.7 159.3 409.4 150.1 363.3 148.1 411.6 149.4 365.7 148.7 412.9 159.8 404.1 160.5 407.8 154.5 387.1 153.2 366.4 149.1 386.9 158.3 410.6 156.5 394.6 157.8 412.4 151 393.3 155.6 364 154.4 392.9 150.2 387.3 152.9 394.2 160 383.8 155 401.5 156.8 383.7 154.2 366.1 158.5 373.3 155.8 377.7 152.7 361.6 160.3 406.4 158.8 383.1 150.2 397 149.9 378.8 150.2 370.3 154.6 376.4 149.6 401.9 154.1 413.8 158.9 386.4 148.1 340.4 160 391.7 148.2 350.9 150 347.1 151.7 392.3 152.6 353.1 158.3 379.3 152.9 400.5 151.2 378.5 156.2 369.4 156.7 370.2 148.3 339.9 161 392.5 160 392.6 150.5 386 149 346.6 165.7 410.7 163.3 404.5 148.9 367.8 149.9 351.4 157.3 395.3 153.1 393.4 154.7 386.4 149.8 370.2 150.6 404.2 155.8 395.8 148.5 364.7 155.8 393.1 160.6 399 150.9 360.3 159.3 400.4 155.4 367 162.9 401.9 157.4 374.6 157 398.8 150.8 394 157.8 373.3 152.5 372.7 162.6 389.1 155.2 367.2 153.8 365.5 153.3 383 148.7 385 149 346.7 153.8 413.2 157.6 373.7 165.1 413.4 151.9 391.7 161.5 405 153.4 384.8 155.2 413.2 152 367.1 164.2 403.7 152.3 412.4 152.7 391.1 157.9 381.2 161 402.9 148.3 355.2 160.9 410.6 154.1 359.1 153.9 384.8 152.9 392.6 153.8 362.8 153 407.8 150.9 362.1 149 354.5 157.1 380.4 155.3 405.1 157.1 390 155 409.3 160.4 383.2 165.1 407.2 148.4 388.6 156.9 375.2 152.2 366.3 148.7 388.7 160.9 388.6 149.1 410.7 157.7 409.8 156.6 368.9 156.6 377.3 152.9 372 160 384.9 150.4 366.6 148.6 371.9 155.5 395.8 158.7 403.9 148.8 398.8 148.9 344.2 156.5 373.9 152 411.8 153.8 411.2 149.1 398.4 166 408.1 158.1 393.7 152.3 358.9 158.8 385.7 151.3 401.5 151.9 414.4 156.4 410.9 149.3 396.9 149.9 345.8 148.1 366.2 148.6 344.9 158.2 379.7 162.6 411.9 163.1 394.5 155.6 363.1 148.5 403 150.3 352.4 149 340.1 158.6 396.2 152.6 381.2 149.6 344.6 153.4 382.3 150.2 351.3 152.4 411 153.7 372.6 152.6 388.4 154 396.7 149.1 338.6 151.8 397.6 162 386.2 156.2 396.8 151.3 354 162.3 404.8 150.1 379.3 159.8 379 159.1 400.7 154.4 382.6 149.5 405.9 154.9 401 154.5 382.5 152.9 361.4 155.9 373.5 159.1 377.6 156.8 372.5 159.6 392.3 163.1 411.5 151.5 408.2 163.5 400.2 155.7 375.4 150.8 399.1 156.6 377.6 149.4 359.2 160 405.7 153.2 389.9 151.8 364.4 155.5 377.1 156.4 398.6 151.3 388.4 161.2 397.2 148.7 353.4 154.8 369.3 160.7 409.5 154 397.6 160.9 386.1 148.9 398.9 163 411.5 152.1 380.8 153.3 360.5 156.7 401.2 150.6 374.8 159 411 162.7 409.8 156.5 390.6 157.3 403.9 148.7 380 162.5 391.4 149 380.1 161.9 389.5 148.3 393.2 149.6 360.5 156.2 412.4 156.7 404.2 150.7 388.9 163.2 393.1 157.4 372.8 150.8 404.1 153.3 357.6 152.2 371.8 157.5 375.5 153.1 383 148.9 383 153.3 377.3 149.2 407.6 150.1 374.4 148.5 402.4 165.4 411 164.7 405.6 151.4 385.2 149.6 364 157.4 403.3 161.1 409 151.4 355.2 160 414.4 159.9 402.2 148.9 361.1 151.5 402 148.9 404.5 148.4 365.1 148.5 381.5 162 408.5 153.5 379.8 161.3 383.1 148 333.2 157.5 408.9 160.4 413.2 154.3 405.2 154.2 363.4 159.7 412.8 149.5 398.2 151.3 371.2 148.1 352.9 152.3 391.7 156.9 378.4 149.7 361.4 160.7 396.6 150.7 391.6 152.7 360.8 150.4 382.8 158.4 414.1 151.8 405.2 156.7 403.7 149.9 366.8 153.2 357.4 151.8 379.9 153.4 394.7 153.2 411.1 160 391 155 379.2 149.4 413.7 151.6 402.2 150.1 370 148.7 369.2 155.3 362.5 149 346.8 149 404.7 157 381.3 159.8 403 150.8 395.2 155.7 369.2 162 410 152.7 409 154.6 408 150.3 351.2 154.7 397.7 155.4 408.6 159.9 385.3 148.3 357.1 149.2 400.9 162.5 405.6 151.4 368.2 161.4 405.1 155.5 369.7 154.3 391.7 152.3 386.4 160 407.3 152 370 157.4 407.5 150.2 404.4 154.8 398.7 152.6 379 165.7 411.5 157.3 392 152.4 379.8 148.4 401.2 150.6 397.9 157 401 162.9 401.3 161.2 412.7 150.3 409.5 151.5 385.1 151.9 398.7 148.4 405.7 153.3 371.8 149.2 344.6 150.8 362.1 148.1 350 153.7 375.7 148.4 370.4 161.1 389.6 150.5 380.9 148.2 383.8 155.2 407.7 152.8 404.7 150.1 357.2 151.5 376.2 154.1 382.4 150.1 378.2 157.8 396.4 151.6 409 154.4 396.3 148.7 411.4 159.6 409.9 153.1 394.4 162.1 395.3 153.4 363.3 151 353.1 149 382 158.3 375.9 152.8 355.1 148.7 383.4 150.3 405.7 162.2 392.3 159.4 380.5 153.8 391 161.8 411.9 151.2 395.3 154.7 384.1 155.1 394.9 156.5 372.5 148.6 360.6 166.2 412.1 159.5 386.8 154.2 379.4 148.8 377.8 161 391.7 154.3 409.9 160.7 398 151.5 367.3 150 405.9 154.7 375.5 159.3 401.3 157.3 406.4 157.4 412.7 153.7 357.7 157.1 399.4 152.1 363.7 148.3 376.1 160.3 414.1 159.8 395.5 161.8 387.4 162.3 393.3 163.5 412.2 156.3 406.3 154 358.1 153 406.1 152.1 370.7 150.5 396.3 149.6 373.3 156.9 389.2 153.3 385.7 153.7 405.4 156.8 370.8 151.3 365.1 148.6 403.5 151.6 379.4 158.5 386.7 160.6 394.2 155.5 412.6 149.6 403.6 149.3 388.4 158.1 398.5 156 371.2 164.3 404.7 149.1 363.9 152.4 384.4 156.1 387.6 166 409.3 161.2 387.9 149.5 389.1 153.6 389.9 152.6 368.7 155 412.4 153.8 364.6 153.8 375.4 154.8 368.3 152.3 360.2 152.7 413.6 152 363.9 159.5 405.1 148 366.2 150.4 398.9 165.2 404.5 158.8 413.6 149.6 350 157.4 398.3 149.3 382.8 154.9 412.7 150.2 405.7 159.6 408 158.3 396.3 153.7 362.3 162 407.7 156.1 408.2 156.2 371.2 155.9 371.2 149.2 410.6 148.8 376.6 158.3 373.7 152.2 364.5 154.1 405.8 157.7 403 151.6 394.9 153.9 386.5 149.8 396.6 153.7 387.9 152.7 373.6 161.3 396.4 148.4 388.4 148.2 384.2 157 394.1 151.7 374.1 151.7 368.3 148.1 355.2 153.9 366.7 155.3 386.7 153.9 404.3 162 405 150.2 361.8 156.8 375.9 153.7 384.2 151.2 412.5 154.3 405.6 157.4 375 148.1 410 162.8 394.3 153.7 392 166.5 413.5 150.5 359.3 159.5 388.4 155.4 410.8 157.6 407.6 155.1 390 148.2 339.9 160.1 406.9 152.4 357.7 154.2 389.2 163.5 396.7 154.9 390.9 158 374.8 152.1 399.5 155.7 410.4 151.3 400 164.4 401.6 150.3 352.8 162.1 405 152.5 413.5 155.7 394.1 148.1 339.3 150.1 376.7 157.4 400.4 148.6 374.6 160.7 382.6 150 367.1 150.9 379.5 148 382 149.6 368 149 352.8 154 362.4 151.3 360.7 160.2 413.6 157.8 412.6 153.2 375.4 154.3 403.3 154.9 403.5 149.2 383.6 149.9 376 156.1 411.7 148.7 346.3 163.5 395.1 154.3 400.9 156.6 386.8 149.2 340 149.3 370.6 162 387.1 148 384.7 159.8 398 157.5 409.3 153.9 359.6 161.4 404.5 156.1 371 157.5 398.4 150.2 396.9 150.7 406.6 151.5 373.3 155.3 392.1 152.4 371.9 150.6 378.8 160.5 406.2 151.6 395.8 154.1 405.4 163.1 413.3 150.2 380.9 165.4 406.4 151.8 378.1 163.7 399.7 160 402.5 151 408.4 153.2 398.2 150.5 371.5 150.9 372.9 149.7 408.2 158.2 397.2 148.9 340 149.4 351.7 149.8 376.5 155.8 389 158.2 372.8 152.9 359.2 152.2 405.9 156 376 153.8 394.1 152 369.8 164.8 405.4 151.9 358.4 158.7 383.4 166.2 411.4 162.6 402.7 156.8 370.2 161.9 393.5 152 372.2 148 340.6 155.4 389.5 161.1 402.8 159.3 384.6 148.9 389.6 157.3 403.8 151.8 366.3 151.6 378.1 152.1 411.1 148.3 355.1 151 355.7 162.3 410.5 149.4 347 151.6 351.2 148.9 350.4 150.3 361.8 148.2 352.9 160.3 380.5 158.2 396.9 149.4 352.3 156.4 384.8 156.5 403.3 151 347.6 163.9 401 154.2 408.8 161.9 410.6 156.4 383.8 157.8 390.6 154.3 381.8 154.7 398.9 149.1 344.6 155.9 404 162.5 397.2 156.5 379 151.7 365.2 156.6 380.5 148.6 367.5 159.1 408.6 148.7 373.5 162 399.3 160.9 408.9 152.1 398.4 150.5 411 161.7 414 159.7 386.8 150.3 402.5 154.5 387.4 153.3 383.6 150.3 346 159.3 407 150.7 358.4 148 383.8 149 348.8 148.8 398.5 149.4 347.8 158.3 402.2 158.7 398.1 157 383.5 149.6 412.2 155.6 388.9 164.4 401.5 152.3 354 163.5 400.9 152 390.8 161.4 383.7 157.3 387.8 158.5 381.1 163.1 411.1 152 391.5 148.7 406.3 154.2 412.3 150.1 360.5 152.8 370.2 159.6 394.8 150 403.8 152.4 373.9 157.4 380.2 152.5 367.3 159.2 413.1 155.4 392.9 148.1 348.3 158.9 375.5 159.9 410 151.6 375.5 161.6 404 157.7 402.1 158 379.8 153.6 367.2 153.9 375.4 159.7 392.8 152.2 402.6 149.3 412.9 157.5 408 150.3 404.1 162.7 414.1 156.3 375.4 152.2 390.5 152.3 396.8 154.2 359.5 154.2 373.9 151.2 389.7 157.8 407.7 154.9 388.2 153 410.2 152.4 375.1 152.3 387.4 149 363.6 151.8 371.3 155.1 393.8 149.5 407.1 148.7 393.8 156.7 402 149.6 371.1 157.2 390.1 153.8 371.8 159.4 414.1 162.3 410 149.7 396.1 153.2 365.1 153.2 387.5 155.6 386.9 165.4 409.3 151.3 378.4 153.6 400.3 148.7 351.3 154.1 379.9 156 379.7 160 397.5 163.2 409.7 150.5 362.3 158.1 402.4 156 376.4 158 396.7 153.4 386.3 148.9 372.5 155.4 406.7 153.9 409.6 154.4 363.1 153.7 393.3 151.4 352.6 158.9 380.1 156.8 395.6 165.4 409.1 165.1 410.1 149.6 347.9 159.6 378.1 148.1 411.9 152.3 411.9 148.8 347.5 150.6 349.8 149.2 356.6 163.6 396.5 150.7 359.3 161 394.5 161.3 391.7 155.4 388.5 149.3 339.7 164.8 408.1 150 396.9 159.6 387.6 161.7 385.9 160.5 392.7 156.7 382.2 150.8 346.4 151.6 384.9 163.5 412.5 160.9 408 155 377.7 154 361.5 161.3 390.5 159.9 397.9 152.8 358.5 150 400.9 157.8 379.7 157.9 398.6 149 407.5 150.9 384.1 148.5 362.3 151.3 360.3 152.1 372.3 158.1 378 154.1 396.3 157.7 406.1 163.7 395.1 159.7 403.2 150.1 350.6 153.2 395.4 148.8 362 148.5 392.6 160.1 409.3 152.3 359.2 154.4 411.1 150.3 407.7 148.2 390.4 152.3 368.8 150.6 361.1 150.8 340.5 150.8 309.1 155.1 339.2 163.5 382.1 150.7 317.5 153.1 346.6 160.7 350.6 164.8 381 159.9 365.8 151.5 308.4 172.4 409.8 157.3 354.3 173.6 411.9 156.1 335.4 149.7 327.3 161.6 378.4 155.8 362 166.6 377.5 160.8 378.9 158.4 366.3 163.5 372.3 149 324.4 169.3 401.8 159.1 352.7 148.6 333 160.7 360.3 167.3 378.9 164.9 388.4 166.5 373 171.1 405.1 165 389.5 153.2 352.3 165.5 394.9 162.5 362.6 170.1 390.6 161.3 363.8 157.1 358.2 162.6 380.2 164.6 381.5 152.6 314.8 159.8 345.9 148.2 324.8 166.6 377.3 165.6 399.7 155 343.6 167.4 381.7 165 383.3 152 346.1 149.9 338 154.3 327.4 157 347.8 161.5 361 166.5 404.7 157.6 357.9 165.3 389 156.5 336.1 162.7 381.5 162.6 386.4 155.1 338 150.1 307.3 149.4 324.3 150.2 325.6 150.6 313.8 150 322.2 172.4 398.1 171.3 397.1 163.5 386.5 157.3 357.5 152.1 310.3 161.7 350.5 153.8 333.8 171.9 404.3 160 345.6 160.1 377.4 163.3 358.5 158.9 368.7 161.1 360.9 151.2 335.2 152.3 335.4 153.1 338.7 151.8 336.1 153.8 332.4 159.3 348 162.4 353.8 158.2 371.5 160.9 352 158 350.6 148.1 307.7 152.3 338.1 148.4 313.2 157.5 369.3 164.9 363.8 148.8 303.2 148.4 300.6 154.4 327.3 149.3 332.9 155.5 361.5 161.2 355.8 169.5 400.8 160.9 369.4 149.7 321.2 166.3 398.8 153.2 321.1 151.2 322 150.4 331 166.6 380.1 162.4 358.5 165.8 383.6 159.9 363.3 165.4 382.1 157.9 361.6 152.3 345.4 161.5 367.4 149.7 335.8 163 383.7 169.5 412.3 154.8 322.8 152.9 333.9 166.5 368.5 166.8 398.8 171 394.2 159.1 364.9 161.4 376.5 170.9 395.8 163.7 358.6 165.6 402.9 152.1 335 163.4 388.2 151.3 323.9 148.5 309.5 151.7 320.3 149.5 318.8 160.1 359.1 156.8 350.7 159.1 353 155.5 326.1 160.4 349.9 153.9 334.7 165.4 377.1 165.9 371.2 152.2 326.4 164.5 369.1 166.7 380.9 151.1 327.1 154.6 356.2 157.9 343.7 161.2 358.7 168.4 405.3 152.7 321.3 154.7 321.4 160.5 348.7 151.4 344.4 149.4 332.2 150.2 319.5 149.3 314.7 171.8 401 168.1 393.1 158.1 351.1 159.6 343.3 169.2 409.6 170.4 389.9 167.8 412.4 167.7 412.6 156.7 352.9 163.3 369.1 155.8 353.6 165.6 383.6 150.2 318.6 163 388.7 164.6 367.9 158 366.7 149.2 303.2 155.9 339.9 159.9 345.3 168.6 395.9 148 305.3 160.1 371 163.1 371.1 152.3 336.1 152.2 326.5 148.8 330.6 169.4 393.7 159 363.2 156.7 350.8 156 346.4 172.2 409.4 150.4 339.9 163 360.9 172.7 406 172.6 412.2 165.5 370.5 168.9 393.6 160.9 357.7 155.2 342.1 169.9 402.4 148.8 333.4 148.5 305.7 160.5 357.8 166.7 375.4 158.2 353.7 153.1 324.8 166.5 377.3 165.1 394.4 163.2 388.2 162.9 366.4 148.5 318.1 164.7 361.9 155.3 337.3 165.3 388.4 150.5 337.7 148.4 330.5 154.6 346 168.1 401.7 163.7 386.2 149.7 338.5 150.7 332.7 167.3 383.6 153.9 328.2 153.9 339.2 165.6 393 165.5 390.9 158.2 338.2 165.7 393 166.1 407.8 163.2 375.5 154.5 354 166.3 387 170.2 405.4 148.5 301.3 163.6 381.8 160.6 365.5 167.1 406.4 166.3 406.1 154.2 332 171.4 408.1 168 389.9 150.2 325.6 160.4 351.3 169.4 384.8 157.7 353.1 152.4 327.4 153 331.7 165.9 405.9 150.3 304.5 166.6 408.9 152.6 344.2 170 403.1 169.9 408.4 173.9 413.4 150.3 320.6 148.1 325.1 151.5 345.5 153 334.1 155.7 362.1 152.8 351 164.5 385.8 162.5 354.7 171.3 398.7 154.4 354.2 163.2 366.3 166.4 384 159.6 365 158.7 345.4 166.4 402 166.3 369.1 163.3 373.5 152.3 349.8 159.8 365.4 168.2 387.8 151 333.6 159.9 355.2 153.2 339.2 154.2 329.8 164.8 385.8 154.7 346 155.1 346.5 148.7 327.3 153 335.2 161.6 370.3 148.5 324.2 156.6 363.4 172.3 402.5 169.7 394.5 160 373.1 160.7 359.2 157.1 334.4 169.4 411.2 168.7 410.6 155.8 350.1 159.8 365.9 155.8 336.8 149.7 316.4 158.2 368.5 149 309.4 168 409.8 170.4 393.2 166.4 392.9 169.1 408.6 157.4 333.9 152.5 318.1 156 340.6 153.9 327.3 169.1 394.8 150.3 342.8 170 391.1 157.5 333.9 163.8 385.3 156 348.5 172 402.1 152.6 328.4 168.4 384.2 160.7 366.1 166.1 386.5 173.5 414.1 161.2 355.1 148.4 318.6 166.3 386.7 167.8 383.6 165.5 399.9 152.3 340.2 153 352.9 150.4 319.6 157.8 365.6 170.8 408.2 160.2 362.5 166 395.4 160 345.7 170.1 403.9 153.1 319.5 160.7 370.3 153.8 326 154.5 352.2 163 387.5 149.2 321.8 151.5 326.6 160.7 375.7 172 403.9 165.4 365.8 160.7 369.1 151.5 326 165.5 393.3 169.3 404.7 155.1 353.4 168.7 388.3 161.1 380.5 164.4 388.3 170.6 388.4 167.1 317.6 178.8 299.8 165.2 271.6 171.6 349.4 172 375.7 176.1 343.9 178.8 309.4 174.3 293.5 172.7 345.5 167.4 370.2 169.3 274.4 176.4 309.3 173.4 278.2 184.1 378 185.3 363.5 154.8 291.3 173.6 301.1 173.6 267.9 172.6 267.1 152.7 250.5 171.7 320.9 167.5 327.6 172.7 310.4 150.1 254.4 178.3 353.1 177.3 279.2 176.3 292.8 163.3 263.2 172.1 291.5 175.2 311.6 178.5 356.9 185 357.2 185 374.1 152.1 247.5 170.9 358.7 167.4 257.9 155.1 263.8 172.2 340.7 169.2 371.8 167 339.3 165.6 304.4 175.2 271.5 157.6 277.8 183.1 334.7 156.5 261.1 155.9 298.1 161.5 254.3 166 303.7 168.9 279.3 153.5 247.2 177.8 315.6 181.2 322.6 174.2 349 174.9 359 160.3 343.9 166.9 263.1 181.2 308.4 160.6 291 180.8 332.2 185.5 355.9 159.1 318.5 149 286.1 150.6 286.5 171.4 308 157.6 259.3 149.6 277 169.3 272.2 153 278 156.9 286.4 168.1 344.5 178.8 324.4 180.4 372.3 165.1 253.7 159.4 305.6 169.5 359.8 165.2 344.7 178.9 375.1 171.3 259.1 154.4 304.3 177.5 326.1 150.5 287.2 153.6 296.4 174.5 297.3 171.9 340.2 165.1 302.9 161.2 340.4 177.6 341 155 321 167.7 347.6 182.5 361.8 175 314.1 180.5 384.9 173.3 332.5 155.1 262.9 163.8 342.1 173.8 336.9 167.9 351.4 169.3 284.4 174 324.1 173.2 398.5 170.3 290.6 165.7 292.1 151.6 300 156 318.9 168.5 325.2 157.6 253.2 156.6 271.7 162.1 302.9 170.1 306.9 151.8 246.3 160 266.9 176.9 314.9 165.5 349.7 177.8 369.7 154.2 299.8 180.8 306 159.9 330.5 154.9 298.2 176.7 312.8 181.4 307.5 153.4 279.4 176.4 328.1 161.3 314.3 178 307.2 171.8 284.2 157.4 320.9 173.7 370.4 162.3 344 154.8 261.9 148.3 289.2 181.6 334.4 166.3 281.1 177.3 314.9 157.2 274 174.2 375.1 166.8 340.9 171.7 272.5 167.4 328.9 178.4 330.6 173.8 324.5 157.9 271.3 180.2 293.1 163.2 271.8 155.1 270.7 172.9 333.8 173.6 286.4 159.1 305.2 163.1 349.2 161.4 305.1 181 327.5 183.5 350.4 179.1 306.2 166.9 311.6 156.1 274.1 175.4 343.2 179.7 293.6 154 289.7 162.9 321.2 149.1 254.1 165 301.5 180.8 377.5 158.1 322.9 168.9 286.5 182.6 359.9 177.3 396.3 176.7 378.9 163.4 254.8 181.6 336.5 151.2 265.9 163 283 150.5 288.1 181.7 350.7 149.6 273.3 177.3 315.7 175 382.9 150.6 271.3 150.8 262.9 174.5 399 167.7 307.3 172.6 381.6 179.3 305.4 178 300.3 167.9 366.6 150.5 262.7 170 340.8 174.4 394.8 172.3 362.4 181.1 351 186.5 342.9 164.9 254.6 166.1 344.7 171.7 341.4 167.3 260.3 166.5 362.4 159.9 277.7 148.9 282.2 164.6 326.5 184.8 370.4 171 285.5 178.3 337.7 159.9 334 158.1 299.2 165.2 303.1 171 361.2 157 313.9 178.4 284.2 157.3 261.7 161.1 318.3 177.4 294.4 178.5 283.2 178.2 311.3 172.9 387.6 184.6 353.7 176.9 334.4 164.5 249.1 160.1 308.9 178.3 290.4 152.2 271.4 170.1 276.6 183.5 345.2 175.4 334.8 157.8 306.5 170.5 381 165.6 312.4 179.3 298.9 185 362.8 177.3 377.5 176.3 363.7 157.3 311.8 180.6 373.2 181.1 388 169.9 355.9 172.3 366.5 170.9 298.5 155.5 317.9 162.2 311.6 178.3 338.6 157.6 298.1 160.2 279.1 156.7 304.3 150.9 260 171.8 353.8 186 371.8 157.2 268.4 151 250.2 183.5 382.5 160.5 263.6 174.2 378.5 172.8 349.5 161.3 285.9 175.1 330.3 161.9 304.2 183.4 358 159.8 276.1 170 366.3 171.5 354.4 167.4 312.8 163.8 305.9 159.1 319.7 164.7 337.3 170.3 346.6 161 345.2 161.3 314.4 171.3 385.6 166.4 355.3 150.1 281 184.9 331.5 160.7 319.7 179.2 358 167.5 313.2 158.6 301.7 176.8 341.4 179.7 335.5 177.5 345.8 170.9 302.9 170.8 306.2 160.7 307.8 170.3 332.8 153.4 258.9 179.2 338.8 179.3 369.5 179 339.9 195.3 276.9 185.4 270.2 192 283 182.6 250.7 178.3 246.5 190.2 322.9 177.9 262.8 179.6 280.7 190.4 300.1 188 324.7 193.4 356.4 186.4 246.3 191.3 276.3 188.3 355.4 182.9 267.2 190.6 260.5 186.3 262.5 196.6 296.8 197.6 318.5 189.7 268.9 187.6 315.8 190.3 285.9 192.3 299.9 196.1 316.3 196.6 329.1 181.9 263.3 190.4 265.1 179.3 278.1 192.6 349.6 188.2 278.9 187.4 286.8 186.1 259.7 171.6 249.2 191.8 365.2 173.3 247.9 192.1 262.7 182.9 260.2 194.3 287 183.3 311.2 191.4 258.9 194.2 323 181 285.4 197.5 288.3 185.7 282.7 181.3 253.2 187.6 273.7 194.5 290.4 192.8 321.6 183.9 304.3 183.4 273.2 177.4 251.9 186.9 265.9 194.1 273.3 184.2 285.6 194.8 338 188.3 282.6 186.9 332.1 184.6 256.5 192.1 313.8 187.2 311.3 181.1 280.3 189.7 320.1 197.5 311.6 173.7 263.1 182.8 307.5 173.2 410.7 196.8 295.3 184.3 302.8 194 263.6 189.7 270.7 186.2 267.7 196.4 290.5 187.8 339.3 183.7 259.2 192.4 325.2 188.9 369.4 194 327.8 193.6 277.4 194 313.7 194.6 333.5 183.1 263.5 184.2 247.1 171.8 251.1 181.9 294.3 171 257.2 202 307.3 206.3 268.5 197.5 258.3 172.9 411.8 198.2 313.4 201.9 302.5 198.3 247.2 199.6 301.3 169.9 414.3 171.3 411.2 173.2 408.8 174.7 406.5 176.2 404.3 177.3 400.7 179 397.9 180.9 395.2 182.4 392.1 184 388.8 185.9 386.2 187 383.7 187.7 380.6 189.2 378.2 189.6 375.7 190.6 372.8 191 370.3 191.7 367.7 192.3 365.6 193.1 362.7 193.7 360.4 194.5 357.8 195 354.8 195.6 352.4 196.3 349.5 196.7 347 196.9 343.8 197 340.7 197.8 337.9 197.8 335.2 198.6 332.4 198.7 329.6 173.2 414.1 174.4 411.2 176.1 409.2 177.4 406.4 178.9 404.3 180.7 400.7 182.4 398.1 184.3 394.9 185.2 392.3 186.6 389.1 187.8 385.9 188.9 383.2 189.5 380.9 190.2 378.8 166.8 414.2 168.6 411.4 170.2 409.3 171.8 406.2 172.7 404.3 174.9 400.8 176 397.7 178.3 395.1 179.6 392.3 180.7 388.7 216.8 406.1 205.7 410.5 211.6 414.5 212.3 411 213.5 410 220.4 406.4 221.2 413.7 219.9 406 221.4 407 213.2 411.6 212 407.3 210.6 413 215.6 412.5 219.1 403.2 219.2 411.6 205 405.5 205.5 412.1 208.6 409.9 214.8 404.7 214.7 414.3 219.2 409.8 203.8 411.7 211.3 402 214.2 403.4 213.8 412.1 216.9 406.3 220.8 410 199.5 413.5 214.7 402.8 206.8 408.1 211.7 403.4 219 411.8 216.6 409.3 211.5 405.6 208.4 414.4 211 414 206.7 408.4 215.9 402.6 220.9 405.5 201.2 412.8 213.4 407.1 220.8 405.3 214.5 404.6 213.9 414.3 200.9 409.2 217.5 413.6 215.7 405.5 203.1 408.6 200.2 413.3 201 409.8 215.9 410 218.4 412.7 211.7 412.2 215.6 401.9 203.7 412.6 209.7 406.6 216.7 413.4 207.6 409.8 207.6 403.4 201.5 412.9 221.6 411.5 214 404.7 215.1 404.8 213.2 403.5 218.6 411.1 196.9 413.4 216 409.9 211.6 408.8 214.4 400.5 213.7 402.3 200.4 411.2 217.1 408.9 219.4 413.7 219.4 403.3 214.7 411.1 217 407.7 222 411.8 215.1 413.3 213.2 407.2 215.6 411.9 216 403.2 219.5 405.6 214.4 410.8 218.5 403.6 218.1 411.1 220 411.5 209.9 405.5 220.5 412.2 216.9 414.4 207.7 409.2 209.3 407.4 212.2 402.7 207.4 410.3 210 408 212.9 406.9 215.9 407.3 219.4 406.6 210.9 411.7 221 410.4 216.5 401.8 209.9 409 212.9 401.8 209.9 411.1 205.1 413.8 208.7 413.5 206.6 413.9 216.4 401.3 210.8 406.6 214.2 408 213.5 409.7 214.4 413.8 217.9 405.2 197.3 413.8 201.6 408.5 208.5 414.2 209.4 404.1 220.1 405.8 214.4 410.2 214.5 413.6 206.6 412.9 199.1 412 202.1 408.5 197.8 413.1 213.9 411.2 211.8 413.6 205.7 406.4 205.9 407.5 213.8 409.1 209.6 403.5 212.5 406.8 210.7 402.3 218.8 411.9 220.6 408.6 199.1 410.5 205.3 413.3 217.5 407.3 199.9 413.7 214.9 401.1 217.3 407.9 205.1 409.2 207.1 411.3 201.1 414.2 202.8 411.9 204.6 408.7 219.8 406.2 219.5 413.3 201.6 413.7 206.9 411 208.9 404.8 204.7 414 198.3 411.1 218.1 406.5 205.6 413.4 211.6 409.8 220 405.1 216.5 402.6 206.7 410.4 219.1 413.6 219 407.2 212.5 403.2 210.7 405.6 219.5 410 215.1 412.1 219.2 411.5 208.4 411.2 209.1 407.5 217.6 404.6 213 413.3 210.8 410.4 212 403 203.9 414.2 212.1 401.7 219.7 403.4 213.3 406.3 212.8 412 211.5 405.6 201.6 412.5 207.2 411.5 214.4 408.7 212.5 413.4 206.1 412.5 208.5 403.1 217.1 408.2 218.3 414.3 208.3 411.3 214.6 412.9 198.2 412.9 215.5 400.4 212.5 405.2 221.8 407.1 206.9 410 217.2 404.5 221.7 406.3 221.9 409.7 198.8 412 200.6 410.6 216.1 406.3 215.6 405 200.7 412 204.4 413.2 208.1 408.9 219.5 409.5 215.1 413.6 207.7 405.6 214.1 411.6 210.6 402.7 209 407.1 215.9 406.5 216.3 412.4 220.9 392.9 209 393.5 221.7 402 223.1 398.4 212.9 396.4 224.1 410.7 210 398.1 197.1 410.9 204.7 402.2 224.9 414.3 220.4 386 201.9 400.3 191.6 413 196.2 413.1 215 394.5 212.7 392.7 225.2 396.8 192.6 413.5 203.9 401.3 225.5 388.2 220.4 402.8 205 397.8 220.3 400.7 227.2 400.3 217.7 391 209.9 392.3 222.6 395.4 226.8 399.6 221.2 394.1 194.6 412.1 221 394.6 216.2 387.6 200 402.6 223 387 218.3 399.2 197.2 403.9 196.4 409.6 222.1 411.9 206.7 396.9 210.5 401.7 207.2 394.8 208.6 395.8 224 413.9 210 398.5 206.4 402.5 211.3 397 219.3 395.5 218.8 395.4 225.9 390.8 210.3 402.1 211.7 392.3 221.4 397.8 227.2 398.8 226.9 404.8 197.8 404.5 212.5 393.1 205.5 399.8 224.5 403.8 225.9 398.4 215.1 394.4 202.4 403.5 209.6 402.2 226.8 403.7 222.1 409.5 220 389.5 202.8 404.9 225.5 404.9 214.4 393.9 209.8 394.2 195.1 412.1 221.7 401.9 224.5 411.7 215.7 395.2 224.3 405.1 222.1 405.4 213.6 390.4 196.3 412.1 196 409.4 196.1 409.6 224.3 409 222.3 394.7 194.5 413.2 207.6 403 216.2 389 202 403.1 220 396.2 217.7 387.1 223.3 411.9 220.6 393.2 194.3 411.4 215.3 393.4 221.6 399.5 221.9 389.7 203.7 403.5 218.6 401.9 217.7 400.8 221.8 395.3 209.9 398.3 217.3 401.4 209.7 395.6 194.7 414.1 219.8 389.6 225.9 414.1 225.6 401.5 224.4 409.4 225.3 394.5 217.6 396.5 202.1 396.8 198.8 401.1 198.5 398.5 228 409.2 233.6 365.9 188.9 410.9 214.7 387.2 205.8 391.9 216.4 378.3 234.8 373.6 230.4 404.7 225.4 378.2 228.7 399.7 217.9 377.3 228 342.1 227.1 363 217.4 383.3 231.7 369.5 217.3 377.4 226.2 386.4 227 364.9 226.9 390.3 228.9 373.7 207.1 387.6 201.3 396 220 376.4 226.8 380.8 223.9 371.7 209.6 391.2 225 387.4 229.3 387.5 212.1 382 227.5 410.8 199.4 400.6 212.7 387.9 230.9 342.5 223.5 380.6 226.9 389.5 225.7 362.8 233 374.1 221 374.5 208 387.4 211.8 385.7 216.8 383.9 232.4 355.6 212.5 389.4 210.6 389.5 193.3 405.3 228.3 385.2 228.1 408.4 192.8 405.3 230.8 368.3 191 410.8 207 387.4 230.9 393.6 200.3 398.5 226.6 386.7 227.7 385.5 228.3 392.2 224.6 351.2 228.3 363.7 221.8 385.7 229.5 339 227.2 375.9 234.1 369 232.4 379 228.3 391.7 225.8 361.2 210.1 389.5 229.6 350.5 220.8 379 231.9 396.4 231 379.6 227.8 352.3 229.1 325.3 231.1 325.6 233.8 297.6 233.5 296.8 236.6 294.2 236.6 302 232.7 321.9 236.7 315.3 236.7 304.3 234.3 329.6 233.4 317.6 228.7 322.4 234.6 317.9 238.9 295 237.7 307.9 237.2 305.5 236.5 297.7 234 261 237 260 241 263 243 262 191 244.6 152.1 244.7 203.5 245.2 161.3 244.5 182.2 244.7 160.3 244.7 171.8 244.6 156.4 244.8 182.8 244.5 197.2 244.8 157.4 244.5 206.1 244.8 192 244.5 159.2 245.1 179.4 245.2 195.2 244.9 185.4 244.8 205.4 244.8 151.6 244.7 201.5 244.9 180 245 202 244.8 192.9 244.8 160.9 244.4 177.6 245.1 152.6 244.9 175 245.1 183.7 244.5 152.5 244.7 180.1 244.6 197.2 244.9 203.7 244.9 148.9 244.6 168.4 244.4 185.2 244.6 202.7 244.8 197.9 245.1 195.4 244.5 172.3 244.9 205.1 244.8 154.4 245.1 182.7 244.7 152.8 245.2 194.2 244.5 162.8 244.9 179.4 244.6 201.2 244.5 165.5 245 178.5 244.6 157.8 245.1 158.9 244.4 203 244.7 196.9 245.2 169.1 245.1 176.1 244.9 177.3 244.6 182.4 244.8 148.2 245.1 164.8 244.7 150.9 244.4 202 245 231 244.8 238 244.8 243 244.8 249 244.8 258 244.8" fill="none" stroke="none" marker-start="url(#mr)" marker-mid="url(#mr)" marker-end="url(#mr)"/>
<path d="M133 243V416.2" stroke="#1414d2" stroke-width="2.2"/>
<path d="M146.9 243V416.2" stroke="#1414d2" stroke-width="2.2"/>
<path d="M40.3 416.2H253.2" stroke="#e8c49c" stroke-width="2.1"/>
<path d="M42.6 419.2v-2.5M42.6 242.5v2.5M75.1 419.2v-2.5M75.1 242.5v2.5M107.5 419.2v-2.5M107.5 242.5v2.5M140 419.2v-2.5M140 242.5v2.5M172.4 419.2v-2.5M172.4 242.5v2.5M204.9 419.2v-2.5M204.9 242.5v2.5M237.4 419.2v-2.5M237.4 242.5v2.5M31.3 419.2h2.5M263.7 419.2h-2.5M31.3 390.3h2.5M263.7 390.3h-2.5M31.3 361.5h2.5M263.7 361.5h-2.5M31.3 332.6h2.5M263.7 332.6h-2.5M31.3 303.7h2.5M263.7 303.7h-2.5M31.3 274.9h2.5M263.7 274.9h-2.5M31.3 246h2.5M263.7 246h-2.5" stroke="#666" stroke-width="0.9" fill="none"/>
<rect x="31.3" y="242.5" width="232.4" height="176.7" fill="none" stroke="#5a5a5a" stroke-width="1"/>
<text x="41.6" y="428.3" text-anchor="middle" class="tk">-15</text>
<text x="74.1" y="428.3" text-anchor="middle" class="tk">-10</text>
<text x="106.5" y="428.3" text-anchor="middle" class="tk">-5</text>
<text x="140" y="428.3" text-anchor="middle" class="tk">0</text>
<text x="172.4" y="428.3" text-anchor="middle" class="tk">5</text>
<text x="204.9" y="428.3" text-anchor="middle" class="tk">10</text>
<text x="237.4" y="428.3" text-anchor="middle" class="tk">15</text>
<text x="28.3" y="422.4" text-anchor="end" class="tk">0</text>
<text x="28.3" y="393.5" text-anchor="end" class="tk">50</text>
<text x="28.3" y="364.7" text-anchor="end" class="tk">100</text>
<text x="28.3" y="335.8" text-anchor="end" class="tk">150</text>
<text x="28.3" y="306.9" text-anchor="end" class="tk">200</text>
<text x="28.3" y="278.1" text-anchor="end" class="tk">250</text>
<text x="28.3" y="249.2" text-anchor="end" class="tk">300</text>
<text x="147" y="438.4" text-anchor="middle" class="tk">log2(RT/ST)</text>
<text transform="translate(10.5 330.9) rotate(-90)" text-anchor="middle" class="tk yl">-log10(FDR)</text>
<text x="26.5" y="451" class="pl">(c)</text>
<path d="M68.4 418.8H213.7" stroke="#000" stroke-width="1.6"/>
<path d="M555.9 348.6 553.4 351.8 553.7 352.7 557.2 343.8 563.3 342.3 559.5 353.5 557.8 349.5 561.8 342.1 567.8 336 565.5 335.6 566.4 335.1 566.4 336.7 555.8 374.4 553.1 369.5 552.8 356.6 552.2 372.4 555.6 359.8 552.9 363 552.7 367.4 555.5 369.5 562.2 363.4 561.4 368.8 560.9 359.2 564.9 360.4 563 369.5 561.8 360 556.9 366.3 557 356.7 557.7 364.2 560.3 368.8 558.1 370.5 562.2 355.2 564.6 364.2 563.9 362.7 565.4 372.6 568.2 372.1 566.9 374.8 568.7 356.4 565.7 360.4 568.5 359.3 566.7 359.7 566.8 358.7 567.8 370.7 553.1 387.1 553.7 381.1 554.9 392.7 552.9 382.8 555.8 383.5 553.4 389.7 553.7 377.3 555.5 382.6 553.7 395.8 552.7 386.6 554.6 395.7 553 386.5 554 388.9 555 393.5 555.5 378.8 553.8 376.8 553 376.7 555.6 386.6 553.7 379.4 554.9 379.2 555.4 386.6 554.9 379 555.8 378 553.3 378.3 557.9 393 561 387 559.7 388.6 556 377.2 560.7 390.4 559.3 391.9 562.2 382.7 556 375.8 563.9 377 565 391.7 563.5 377.4 563.7 383 560.4 375.7 561.1 378.5 560.3 380.2 559 391.8 561 382.3 560.9 378.5 560.1 376.7 563 383.2 558.1 378.2 562.4 395 556.8 388.4 562 385.4 559.8 395 559.8 382.4 564.9 385.3 563.9 383.5 559.1 385.6 556.8 375.5 562.4 391.8 556.5 381.7 562.9 381.5 557.8 391.7 556.9 383.6 557.5 383 559.3 389.6 562.5 384.3 562 379.6 563.5 383.5 557.6 384.2 558.8 394.1 562.2 394.9 562 392.2 559.6 375.2 560.3 384.3 556.4 391.5 566.4 384.3 567.6 388.6 566.2 377.1 568.7 387.9 567.4 390.7 565.9 381.4 565.5 375.3 565.3 391.3 569.2 390.5 565.7 385.6 568.1 375.8 569.2 375.6 567.7 390.1 568.7 388.1 567.5 387.9 567.3 378.6 565.3 387.3 568 376.2 566.7 393 568.1 382.2 566.4 375.6 568 379 566.9 392.4 565.1 385.5 566.3 394.4 569.4 388.1 567.1 392.3 567.8 387.7 569.3 386.3 555.3 398.5 553.8 400.7 555.8 402.5 555.7 396.5 555.5 403 552.4 396.9 554.8 403.7 553.9 398.1 555.1 404.9 553.6 396.6 554.9 403.1 553 396.1 553.3 404.8 552.2 398.6 555.1 402.2 553.2 403.3 554.6 402.6 555.5 402.8 555.2 400.3 553.5 399.3 552.7 396.6 556 402.6 552.5 403.1 554 399.2 553.3 402.9 553.3 397.1 553 403.1 559.2 397.6 560.9 404.1 560.7 400.7 562.7 404.6 557 396.2 564.9 402.3 563.4 401.2 560.5 401.3 561.6 402.4 562.2 398.1 559.6 397.7 564.2 397.7 558.3 402.3 563.4 402 564.5 402.9 564.1 397 560.7 399.2 563.3 400.8 557.4 403.1 564.9 402 561.7 397.8 558.2 396.6 563.4 398.6 562.1 403.1 559.5 404.2 560.2 404.4 562.3 401.8 559.3 396.8 562.8 404.1 560.8 404.3 560.4 404.9 564.2 402.2 562 400.9 559.1 402.8 563.7 397.2 560.4 404.3 557.7 398.2 561.3 398.2 557.6 401.7 563 398.1 557 396.5 556.3 399.5 563.3 399.1 558.7 401.7 564.4 403.4 561.4 400.2 558.1 403.7 563.8 400.3 562.9 403.6 562.9 398.3 556.2 400.7 557.8 401.7 559.1 403.4 556.6 404.6 556.3 403.6 562.2 401.6 561.8 402 569 405 565.4 404.8 568.2 403.1 566.9 396.2 568.8 400.5 566.5 400.8 566.1 402.9 569.3 398.4 566.1 399.1 568.9 404.2 568 404.9 565.5 402.4 565.5 396.4 565.5 398.3 567.3 401.1 568.3 402.4 568.8 396.5 568.5 404.2 567.2 402.4 566.5 403.3 567.6 400.7 567.2 396.3 565.8 397.7 568.1 398.4 565.7 399.4 568.6 400.5 566.4 398.4 565.8 396.8 565 399.7 565.6 403 567 404.5 565.9 403.9 567 401.5 555.5 408.3 554.9 405.5 555.4 405.6 553.7 408.8 552.9 411.9 553.1 407.3 553.8 406.8 556 407.8 553.9 405.3 552.4 409.5 554.4 405.4 554.9 411.5 554.5 405.3 555.8 411.5 553.9 407.4 553.5 413.7 553.2 407.8 554.2 409 554.3 411.8 552.9 407.2 554.9 406.9 554.9 406.9 555.8 413.9 554.3 409.9 553.1 411.4 553.7 408.6 554.5 408.8 554.5 409.8 554.7 410.4 553.5 406 554.5 409.1 555.6 407.7 554.9 407.3 553.9 406.2 555.2 405.8 554.8 409 555.1 408.5 555.4 412.6 553.5 411.8 554.7 409 554.2 405.4 554.3 408.1 553.4 411.2 555.3 407.6 554.4 407.9 555.8 409 553.9 413.3 555.5 413.3 554.3 413 552.9 407.5 555.5 414.2 555.9 412.1 552.2 411.1 552.9 408.3 553.2 407.9 552.7 411.2 554.6 411.7 557 406.1 558.4 409.8 562.6 415 564.7 408.3 562.2 409.5 563.5 412.5 559.2 406.9 559.4 407.4 559.7 410.5 557.5 412.1 559.3 412.1 563.3 405 564.8 408.4 558.8 414.5 561.4 412.9 556.4 407 564.9 412.5 561.5 408.6 557.9 410.3 557.8 413.4 560.9 413.9 564.1 414.7 560.8 414.1 562.8 414.1 556.3 406.9 561.4 406 557 405.8 557.4 407.2 562.2 408 563.3 407.1 564.1 411.2 562.3 409.9 558.5 409.6 564.4 414.5 556.4 411.7 562.5 412.1 561.3 411.3 563.5 412.9 560.6 412.9 556.4 413.4 558.3 410.8 557.5 415 556.1 406.3 561.9 413.8 556.5 406 556.5 414.7 560.3 412.9 564 405.1 560.7 410.4 560.7 405.2 556.2 406.5 556.6 412.7 563.6 410.7 564.4 414.1 563.6 412 557.6 409.5 564.5 408.2 563.9 410.5 559.8 412.8 559.2 410.4 561.6 407.4 556.1 409.7 563 414.7 562.6 405.9 561.5 412.3 559.2 407.6 560.2 410.1 560.2 407.8 561.6 414.2 560.7 408 563.7 412.7 562.4 414.8 564 405.5 557.7 405.1 559.7 410.6 559.5 408.8 559.2 405.6 559.4 412.3 557.2 405.2 561.5 411.3 558.6 409 561.6 414.1 560.5 405.5 557.1 408.4 562 413.2 557.9 405.1 563.8 410.5 559.7 413.4 560.3 410.6 557.5 413.2 559 409.3 563.2 409.3 559.8 408.4 558.4 408.6 558 410.7 560.3 407.7 557.9 413.5 556.1 409.9 557.6 409.4 559.3 410.7 556 409 563 412.2 561.2 414.2 556.2 405.4 559.1 409.2 557.6 406.1 557.1 407.9 560.9 408.1 557.4 412.9 563 414.3 557.6 410.2 562.3 407 558.7 414 556 407.9 557.6 405.2 556.9 412.8 565 413.1 556.4 405.5 556.6 407.9 564.9 409.2 560.1 407.8 559.1 405.6 560.3 408.5 562.8 405.4 562.3 405.4 557.5 405.6 557.3 412.4 558.6 406.8 562.2 411.8 559.7 406.7 558 406.2 556.1 412.9 556.9 410.3 556.3 409.1 561 410.8 566 411.4 565.6 414.8 566.7 410.7 568.9 414.5 569.4 412.3 568 408.2 567.3 405 565.2 409.2 568.4 406 567.1 406 566.6 411.6 565.8 414.9 565.8 411.8 566.6 405.7 565.9 412.2 567.4 407.3 568 410.4 567.2 407.2 565.9 410.7 566.3 407.7 569.6 411.2 569.1 410.4 568.8 413.4 568.6 412.1 569.3 408 569.6 413.8 565.4 414.6 566.5 412.4 568.4 412.1 568 406.8 567.3 410 565.4 410.1 565.9 406.2 565.3 412.5 569.6 411.1 568 406.9 565.6 406.6 565.7 413.9 567.8 407.2 569.6 413.1 568.5 414.2 567.2 405.8 566 407.4 566.3 405.2 569.1 405 567.5 410.5 565.6 407 565.5 407.7 565.1 406 566.4 413.7 567.6 405.6 565.3 411.2 568.8 408.4 567.1 406.6 568.8 405.1 567.4 409.3 565.9 405 567.9 409 565.7 410.3 567.4 405.4 565.1 414.4 568.8 410.5 565.8 412.9 567.8 408.1 567.7 414.2 566.3 409.7 568.4 412.8 567.3 406.8 569.1 412.9 555.7 260.9 556.7 261.9 569.6 268.4 565.2 272.8 566.6 279.7 567.6 282.7 566.6 285.7 568.6 286.3 556.7 283.7 558.7 292.6 553.7 304.1 554.7 308.5 558.7 308.5 561.7 308.5 566.6 318 552.7 320 558.7 321.4 563.7 323.4 567.6 323.4 554.1 329.9 555.7 330.7 564.6 330.3 566.8 250.2 567.5 250.1 565.3 249.8 567.9 249.6 564.7 250.2 565.8 250 567.2 249.7 567.5 249.7 552.7 250" fill="none" stroke="none" marker-start="url(#mk)" marker-mid="url(#mk)" marker-end="url(#mk)"/>
<path d="M549.2 400.8 547.6 410.7 541.7 406.8 548.2 406.8 543.8 411.8 548 412.9 549.5 410.1 544 408.4 542.1 407.5 540.3 410.1 538.5 412.8 536.4 414.4 547.8 412.6 548.2 410.6 540.3 411.4 547.5 414.1 548 400.3 543.7 411.9 543.6 414.4 542.2 407.8 546.1 406.5 546.7 409.8 549.1 403.9 542.6 408.3 545.2 405.9 537 413.7 545.6 411.3 545 409.1 542 405.9 548.9 400.4 543.6 409.5 545.2 411.1 546.8 409 540.7 408.6 547.6 408.9 548.5 413.9 543.2 407.2 539.8 409.5 540.7 414.8 541.1 407.7 541.1 408.6 544.1 404.5 545.9 408.4 548.3 403.8 544.4 408.3 544.2 411.4 548.4 402.9 548.7 405 545.7 413.6 545.1 408.9 548.4 413.8 545.6 402.9 538.1 414.1 549.1 401 546.7 410 542.9 413.9 541.9 406.1 540.7 412.6 546.6 406.1 544.6 403.4 540.2 409.6 539.7 409.5 541.3 413.6 549.3 400.6 549.1 412.6 549 401.5 541.5 409.6 543.7 403.6 541.8 406.8 549 403.5 546.6 402.9 544.5 409.7 540.6 413 548.9 411.6 545.6 402.1 545.1 409.1 544.9 409.7 548.4 405.7 549.1 399.5 548.3 403.7 542.7 406 548.3 400 545 409.6 542.9 410 544.5 407.7 539.9 409.5 538 413.9 545.6 414.3 540.5 412.3 545.9 412.2 543.2 411.5 545.8 405.7 548.2 412.3 543.8 408.3 548.5 414.3 545.3 411.4 541.9 414.1 543 409.8 541.2 409.8 541 411 544.8 407.1 540.5 414.2 543.8 413 544.3 403.2 542.5 412.5 549.1 400.2 541.1 406.9 542.5 406 549.3 406.6 549.4 407.5 547.8 414.7 542.6 405.2 548.4 412.5 545.9 403.2 546.6 406.9 547.4 408.2 548.8 411.6 544.6 405.8 545.4 412.8 545.9 414.1 546.8 404 544.3 402.9 547.4 406.7 542.9 412.8 539.1 410.1 546.3 409.9 549 405.1 544.8 410.5 541.2 414.8 544.1 414.1 543.3 413.4 546.2 405.6 548.4 411.6 547.6 404.2 546.3 405.3 540.6 410.7 548.2 414.4 540.3 405.7 540.4 396.9 547.6 395.4 542.3 397.8 545.5 390.4 537 399.9 544.2 393.6 541.9 392.5 531 409.8 545.6 399.9 537 408.5 539.1 400.3 534.7 407.1 533.9 404.4 542.5 397.3 536.1 409.2 542 399.8 538.3 403.8 548 399.5 533.2 407.4 543.5 398.3 546.1 390.1 545.8 400.1 548.2 387.4 535.7 411.2 548.5 395.2 543.3 392.3 547.7 388 533 414.4 543.4 395.5 531.4 409.6 534.7 401 544.3 397.1 541.1 405.1 532.8 413.1 540.1 397 534.8 405.6 535.2 400.7 534.4 405.3 530.8 411 545.3 396 545 394.6 532.6 404.8 544.3 399.3 545.5 400.8 542.9 401.1 543.7 399.6 540.5 397.6 530.2 413.6 548.7 391.1 548.1 390 536.4 412.5 534.8 405.5 538 408.2 536.6 401.7 539.3 396 549 394 544.1 392.7 532.3 405 532.5 411.7 546.3 400.1 543.6 391.6 549.1 387 531.6 413 534 405.9 535 414.3 543 404.4 545.5 394 538.5 395.8 539.6 405.5 549 389.4 548.7 390.7 538.6 397.5 540.8 399.3 542.2 399.6 546.1 388.3 532.6 411.9 535.2 414.7 541 396 526.1 400.1 548.9 348.5 534.6 381.9 533.2 382.2 543 366.3 548.8 384.4 542 363.7 538.5 377.2 541.4 371.8 544.3 360.5 535.3 390.4 540.9 361.9 530.9 385.6 544 382.6 543.4 377.7 538.8 375 548.9 347.5 537 386.2 544.9 368.5 548.3 382.5 533.7 378.1 548.7 362 536 389.4 541.1 375 542.9 362.4 539.4 390.3 547.4 360.8 526.3 413.5 538.1 370.2 534.6 385.8 532.6 395.9 541.1 365.8 523.6 409.5 537 384.4 526.1 401.8 531.9 394.2 525.6 409.5 535.4 378.6 538.5 376.5 542.3 375.8 536.9 395.5 526.1 408.5 545.6 370 531 393.4 546.1 351 525.2 406 528.7 411.8 548.9 372.7 547.9 380.6 547 377 529 391.7 535.9 386 528.2 412 530.3 391.6 542.7 323.9 549.4 266.2 529.6 376 519.9 410.9 542.6 354.3 547.8 346.6 532 376 531.8 356.2 517.8 408.3 548.1 312.2 540.6 302.4 541.8 321 537.2 367.8 521.6 408.2 544.2 330.4 459.2 408.9 461.2 412.6 465.9 410 456.9 414.4 469.5 414.8 472 414.8 474.5 414.8 477 414.8 478.8 414.8 495.2 406.1 501.6 401.8 514.5 385.8 523.5 390 534.6 365.7 536 374 537.4 381.5 536 387.9 511 415 514 414.5 517 415 520 414.5 523 415 534.9 261.9 532.9 265.8 542.2 270.8 531.5 273.8 522.4 296.6 545.8 293.6 543.4 297.6 548.8 295.6 548.8 302.5 539.8 312.1 535.5 316 542.8 318 548.8 323.4 536.3 331.9 544.4 249.6 536.1 249.9 541.6 250.2 543.5 249.6 541.7 250 539.6 250.3 537.6 250.2 542.4 250.4 540.4 249.8 543.6 249.7 546.3 250.1 537.3 249.9 541.3 250.1 547.2 250.3 514 250 526 250 529 250 532 250" fill="none" stroke="none" marker-start="url(#mg)" marker-mid="url(#mg)" marker-end="url(#mg)"/>
<path d="M578.5 412.6 574.6 409.7 579 413.8 573 412.4 573.6 401.6 576.2 406.8 577.2 410 575.7 413.7 574.5 409.2 574.6 405.5 574.4 414.5 573.7 408.1 574.7 414.6 573.5 410.6 575.8 410.8 573 412.4 575.1 414 578.8 414 575.7 406.2 572.8 412.6 573.8 409.9 578.7 413.3 576.3 411.7 576.1 412.6 577.9 412.1 573.6 405 573 401.2 577.5 408.6 573.2 401 573.5 404.2 576 407.3 577 409.6 574.3 408.5 576.8 409.7 572.6 407.5 579.1 414.7 573.4 413.5 574.3 406.3 575.6 410.1 573.6 411.1 573.2 409.1 572.6 410.1 574.4 413.5 575.6 405.9 575.3 410.6 573.2 402.5 572.7 407.3 575.5 410.5 573.1 405.4 573.9 407 573 412.6 573.6 412.4 573 408.3 576.9 411.7 572.5 411.5 575.9 408.1 572.9 404.9 576.5 407.4 574 414.5 573.1 413.8 577.1 413.6 577.2 413.9 576 412.6 573.9 407 572.8 406.9 576.1 411.3 574.2 411.6 575.1 413.7 575.5 411.6 572.9 410.7 573.7 403.8 572.6 413.8 575.6 409 577.8 409.5 578.6 414.7 575.8 412.6 578 411 576.5 413.6 576.1 406.7 572.6 410 573.3 403.1 573 401.9 582.1 405.8 575.5 395.7 578.1 394.2 577.6 406.2 580.8 404.3 573.9 390.7 573.4 397 580.5 411.1 577.5 392.6 579.5 409.1 577.4 402.5 574.4 388.9 584.1 407 580.4 410.3 573.1 397.6 572.7 399 575.6 391 575.3 397.3 577 390.7 575.4 403.6 575.4 398.8 581.8 405.4 574 385.5 583.2 410.8 573.5 386.3 584 407 576 404.1 580.3 398.4 581.8 403.1 578.5 396.4 572.6 384.6 581.1 406 573.7 388.5 578.9 401.3 581.1 402.3 575.3 396.4 579 396.5 577 406.9 581.8 413.5 572.7 386.7 574.4 402.3 584 413.5 578.8 401.2 574 392.1 578.8 395.1 577 391.7 576.8 399.7 576.5 393.2 580.5 410.1 572.5 398.1 584.7 409.6 575.2 384.4 574.4 371.5 574.5 355.1 579.1 392.8 584 401 575.5 361.2 579.3 366.8 589 400.8 574.7 370.9 575.2 375.3 579.6 376 580 393.3 575.7 377 580.9 375.2 590.4 407.8 578.5 378.3 575.5 372.1 576.2 379.2 575.3 376.8 589.7 410.5 578.9 374.8 588.1 398.4 575.2 378.3 578.1 381.2 582.3 383.2 578.1 373.3 586.6 397.8 572.8 380.9 574.3 371.5 577 365.1 586.9 354.9 588.3 359.7 574.1 300.1 589.3 380.7 587.7 369.2 574.7 341.2 591.1 371 583.2 376.8 579.2 358.2 590.4 381.8 589.2 396.6 579.6 328.8 589.8 374.6 589.3 365.9 594.6 408.6 587.4 357.3 585.2 364.5 575.6 336.7 590.9 381.6 592.8 394.3 592.2 398 608.7 387.8 605 392.5 616.2 395.8 623.7 398.5 608.7 399.6 598.4 405.6 599.4 406 607.8 410.3 608.2 412.1 620.9 411.2 614.4 415 666.8 412.1 655.6 415 660.3 415.9 675.8 416.4 574.6 269.8 580.5 272.8 576.5 280.3 597 254.5 604.3 263.3 572.6 298.2 579.5 307.5 575.2 319.4 577.5 324 584.5 324.4 582.5 326.3 576.5 332.3 580.5 333.3 604.3 414.7 591.8 415.2 605.5 414.7 600.1 414.8 593.1 414.8 599.6 414.6 592.8 415 592.9 415.3 592.3 414.9 591.6 414.9 601.3 414.7 602.7 415.2 604.8 414.8 572.6 250 574 250 577 250 580 250 587.5 250" fill="none" stroke="none" marker-start="url(#mr)" marker-mid="url(#mr)" marker-end="url(#mr)"/>
<path d="M550.8 247V416.8" stroke="#1414d2" stroke-width="2.2"/>
<path d="M570.9 247V416.8" stroke="#1414d2" stroke-width="2.2"/>
<path d="M454.4 416.8H669.6" stroke="#f0b47c" stroke-width="2.1"/>
<path d="M460.3 418.8v-2.5M460.3 246.5v2.5M510.8 418.8v-2.5M510.8 246.5v2.5M561.3 418.8v-2.5M561.3 246.5v2.5M611.8 418.8v-2.5M611.8 246.5v2.5M662.3 418.8v-2.5M662.3 246.5v2.5M449.3 418.8h2.5M683.5 418.8h-2.5M449.3 390.7h2.5M683.5 390.7h-2.5M449.3 362.6h2.5M683.5 362.6h-2.5M449.3 334.5h2.5M683.5 334.5h-2.5M449.3 306.5h2.5M683.5 306.5h-2.5M449.3 278.4h2.5M683.5 278.4h-2.5M449.3 250.3h2.5M683.5 250.3h-2.5" stroke="#666" stroke-width="0.9" fill="none"/>
<rect x="449.3" y="246.5" width="234.2" height="172.3" fill="none" stroke="#5a5a5a" stroke-width="1"/>
<text x="459.3" y="428.4" text-anchor="middle" class="tk">-10</text>
<text x="509.8" y="428.4" text-anchor="middle" class="tk">-5</text>
<text x="561.3" y="428.4" text-anchor="middle" class="tk">0</text>
<text x="611.8" y="428.4" text-anchor="middle" class="tk">5</text>
<text x="662.3" y="428.4" text-anchor="middle" class="tk">10</text>
<text x="446.3" y="422" text-anchor="end" class="tk">0</text>
<text x="446.3" y="393.9" text-anchor="end" class="tk">50</text>
<text x="446.3" y="365.8" text-anchor="end" class="tk">100</text>
<text x="446.3" y="337.7" text-anchor="end" class="tk">150</text>
<text x="446.3" y="309.7" text-anchor="end" class="tk">200</text>
<text x="446.3" y="281.6" text-anchor="end" class="tk">250</text>
<text x="446.3" y="253.5" text-anchor="end" class="tk">300</text>
<text x="565.9" y="437.9" text-anchor="middle" class="tk">log2(ST/S)</text>
<text x="448.5" y="450.5" class="pl">(d)</text>
<path d="M454 418.4H668" stroke="#000" stroke-width="1.6"/>
<rect x="421" y="111" width="1" height="2.2" fill="#666"/>
<ellipse cx="316.5" cy="49" rx="41" ry="40.2" fill="url(#gl)" stroke="#6c6680" stroke-width="1.3"/>
<clipPath id="c1"><ellipse cx="316.5" cy="49" rx="41" ry="40.2"/></clipPath>
<ellipse cx="375" cy="48.6" rx="44.6" ry="43" fill="url(#gr)" stroke="none"/>
<ellipse cx="375" cy="48.6" rx="44.6" ry="43" fill="#d9e0ea" clip-path="url(#c1)"/>
<ellipse cx="316.5" cy="49" rx="41" ry="40.2" fill="none" stroke="#6c6680" stroke-width="1.1" clip-path="url(#c1)" />
<ellipse cx="375" cy="48.6" rx="44.6" ry="43" fill="none" stroke="#5e8e98" stroke-width="1.3"/>
<text x="311.1" y="46.3" text-anchor="middle" style="font-family:'Liberation Sans', sans-serif;font-size:16px;fill:#d23a3a;stroke:#d23a3a;stroke-width:0.35px" textLength="10.2" lengthAdjust="spacingAndGlyphs">R</text>
<text x="381.5" y="46.3" text-anchor="middle" style="font-family:'Liberation Sans', sans-serif;font-size:16px;fill:#2a36b0;stroke:#2a36b0;stroke-width:0.35px" textLength="19.2" lengthAdjust="spacingAndGlyphs">RT</text>
<text x="310.6" y="65.3" text-anchor="middle" style="font-family:'Liberation Sans', sans-serif;font-size:8.2px;fill:#2a2a2a">(63164)</text>
<text x="380.6" y="65.3" text-anchor="middle" style="font-family:'Liberation Sans', sans-serif;font-size:8.2px;fill:#2a2a2a">(64460)</text>
<text x="342.6" y="42.8" text-anchor="middle" style="font-family:'Liberation Sans', sans-serif;font-size:7.5px;fill:#e2494c">1006</text>
<text x="343.7" y="51.5" text-anchor="middle" style="font-family:'Liberation Sans', sans-serif;font-size:8.1px;fill:#111;font-weight:bold">(3545)</text>
<text x="344.4" y="61.3" text-anchor="middle" style="font-family:'Liberation Sans', sans-serif;font-size:7.5px;fill:#3faa4a">2539</text>
<ellipse cx="324.7" cy="164.9" rx="44.6" ry="41" fill="url(#gl)" stroke="#6c6680" stroke-width="1.3"/>
<clipPath id="c2"><ellipse cx="324.7" cy="164.9" rx="44.6" ry="41"/></clipPath>
<ellipse cx="374.9" cy="168.6" rx="41.5" ry="36.4" fill="url(#gr)" stroke="none"/>
<ellipse cx="374.9" cy="168.6" rx="41.5" ry="36.4" fill="#d9e0ea" clip-path="url(#c2)"/>
<ellipse cx="324.7" cy="164.9" rx="44.6" ry="41" fill="none" stroke="#6c6680" stroke-width="1.1" clip-path="url(#c2)" />
<ellipse cx="374.9" cy="168.6" rx="41.5" ry="36.4" fill="none" stroke="#5e8e98" stroke-width="1.3"/>
<text x="318.8" y="163.8" text-anchor="middle" style="font-family:'Liberation Sans', sans-serif;font-size:15.5px;fill:#d23a3a;stroke:#d23a3a;stroke-width:0.35px" textLength="9.8" lengthAdjust="spacingAndGlyphs">R</text>
<text x="380.5" y="167.3" text-anchor="middle" style="font-family:'Liberation Sans', sans-serif;font-size:13.5px;fill:#8e1e1e;stroke:#8e1e1e;stroke-width:0.35px" textLength="8.6" lengthAdjust="spacingAndGlyphs">S</text>
<text x="318.8" y="180" text-anchor="middle" style="font-family:'Liberation Sans', sans-serif;font-size:8.0px;fill:#2a2a2a">(56363)</text>
<text x="380.8" y="183.5" text-anchor="middle" style="font-family:'Liberation Sans', sans-serif;font-size:8.0px;fill:#2a2a2a">(55803)</text>
<text x="350.6" y="163" text-anchor="middle" style="font-family:'Liberation Sans', sans-serif;font-size:7.3px;fill:#e2494c">6011</text>
<text x="351.7" y="172" text-anchor="middle" style="font-family:'Liberation Sans', sans-serif;font-size:8.2px;fill:#111;font-weight:bold">(10346)</text>
<text x="351.1" y="182" text-anchor="middle" style="font-family:'Liberation Sans', sans-serif;font-size:7.3px;fill:#3faa4a">4335</text>
<ellipse cx="320" cy="273" rx="44.8" ry="39.6" fill="url(#gl)" stroke="#6c6680" stroke-width="1.3"/>
<clipPath id="c3"><ellipse cx="320" cy="273" rx="44.8" ry="39.6"/></clipPath>
<ellipse cx="374" cy="273.5" rx="48.5" ry="42.4" fill="url(#gr)" stroke="none"/>
<ellipse cx="374" cy="273.5" rx="48.5" ry="42.4" fill="#d9e0ea" clip-path="url(#c3)"/>
<ellipse cx="320" cy="273" rx="44.8" ry="39.6" fill="none" stroke="#6c6680" stroke-width="1.1" clip-path="url(#c3)" />
<ellipse cx="374" cy="273.5" rx="48.5" ry="42.4" fill="none" stroke="#5e8e98" stroke-width="1.3"/>
<text x="313.4" y="271.5" text-anchor="middle" style="font-family:'Liberation Sans', sans-serif;font-size:14.5px;fill:#e0742e;stroke:#e0742e;stroke-width:0.35px" textLength="17.6" lengthAdjust="spacingAndGlyphs">ST</text>
<text x="381.6" y="271.5" text-anchor="middle" style="font-family:'Liberation Sans', sans-serif;font-size:14.5px;fill:#2a36b0;stroke:#2a36b0;stroke-width:0.35px" textLength="17.8" lengthAdjust="spacingAndGlyphs">RT</text>
<text x="313.8" y="288" text-anchor="middle" style="font-family:'Liberation Sans', sans-serif;font-size:8.25px;fill:#2a2a2a">(55313)</text>
<text x="381.2" y="288" text-anchor="middle" style="font-family:'Liberation Sans', sans-serif;font-size:8.25px;fill:#2a2a2a">(56950)</text>
<text x="343.9" y="267.2" text-anchor="middle" style="font-family:'Liberation Sans', sans-serif;font-size:7.7px;fill:#e2494c">7495</text>
<text x="344.1" y="276.8" text-anchor="middle" style="font-family:'Liberation Sans', sans-serif;font-size:8.2px;fill:#111;font-weight:bold">(11055)</text>
<text x="343.9" y="285.6" text-anchor="middle" style="font-family:'Liberation Sans', sans-serif;font-size:7.7px;fill:#3faa4a">3560</text>
<ellipse cx="322.6" cy="385.4" rx="49.4" ry="45" fill="url(#gl)" stroke="#6c6680" stroke-width="1.3"/>
<clipPath id="c4"><ellipse cx="322.6" cy="385.4" rx="49.4" ry="45"/></clipPath>
<ellipse cx="389" cy="385.2" rx="44" ry="39" fill="url(#gr)" stroke="none"/>
<ellipse cx="389" cy="385.2" rx="44" ry="39" fill="#d9e0ea" clip-path="url(#c4)"/>
<ellipse cx="322.6" cy="385.4" rx="49.4" ry="45" fill="none" stroke="#6c6680" stroke-width="1.1" clip-path="url(#c4)" />
<ellipse cx="389" cy="385.2" rx="44" ry="39" fill="none" stroke="#5e8e98" stroke-width="1.3"/>
<text x="315.5" y="383.5" text-anchor="middle" style="font-family:'Liberation Sans', sans-serif;font-size:18.5px;fill:#e0742e;stroke:#e0742e;stroke-width:0.35px" textLength="20.8" lengthAdjust="spacingAndGlyphs">ST</text>
<text x="394.6" y="383.5" text-anchor="middle" style="font-family:'Liberation Sans', sans-serif;font-size:18px;fill:#8e1e1e;stroke:#8e1e1e;stroke-width:0.35px" textLength="10.6" lengthAdjust="spacingAndGlyphs">S</text>
<text x="315.7" y="402.5" text-anchor="middle" style="font-family:'Liberation Sans', sans-serif;font-size:9.3px;fill:#2a2a2a">(65147)</text>
<text x="394.6" y="402.5" text-anchor="middle" style="font-family:'Liberation Sans', sans-serif;font-size:9.3px;fill:#2a2a2a">(64928)</text>
<text x="358.8" y="377" text-anchor="middle" style="font-family:'Liberation Sans', sans-serif;font-size:7.7px;fill:#e2494c">542</text>
<text x="359.2" y="385.5" text-anchor="middle" style="font-family:'Liberation Sans', sans-serif;font-size:8.2px;fill:#111;font-weight:bold">(1221)</text>
<text x="358.8" y="395.5" text-anchor="middle" style="font-family:'Liberation Sans', sans-serif;font-size:7.7px;fill:#3faa4a">679</text>
</svg></body></html>
